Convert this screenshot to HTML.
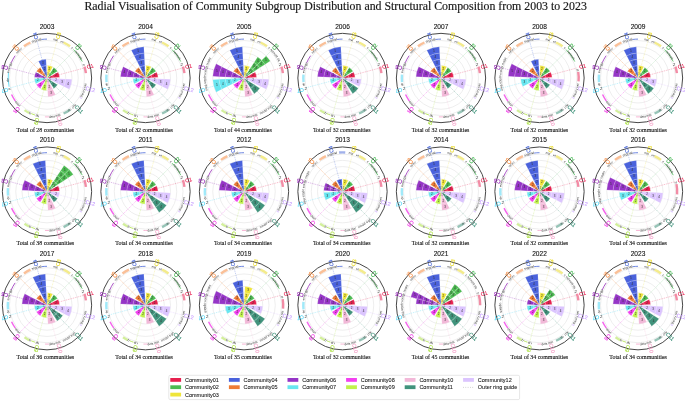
<!DOCTYPE html>
<html><head><meta charset="utf-8"><title>Radial Visualisation</title>
<style>
html,body{margin:0;padding:0;background:#fff;overflow:hidden;}
svg{display:block;will-change:transform;}
text{font-family:"Liberation Sans",sans-serif;}
.sg{stroke:#fff;stroke-width:0.35;stroke-opacity:0.5;}
.gr{fill:none;stroke:#dcdcdc;stroke-width:0.5;}
#base line{stroke-width:0.45;stroke-opacity:0.65;}
.ring{fill:none;stroke:#333;stroke-width:0.9;}
.dc{fill:none;stroke-width:2.4;stroke-opacity:0.5;}
.dm{fill:none;stroke-width:1.5;stroke-opacity:0.75;}
.dt{fill:none;stroke-width:0.9;stroke-opacity:0.85;}
.dg{font-size:4.2px;fill:#333;text-anchor:middle;}
.gt{font-size:3.2px;fill:#2e2e2e;}
.lb .l1{font-size:2.6px;fill:#666;}
.lb text{font-size:3.0px;fill:#333;text-anchor:middle;}
.cl{font-size:5.3px;text-anchor:middle;stroke-width:0.12;}
.yr{font-size:6.6px;text-anchor:middle;fill:#111;stroke:#111;stroke-width:0.1;}
.tot{font-family:"Liberation Serif",serif;font-size:6.4px;text-anchor:middle;fill:#111;stroke:#111;stroke-width:0.12;}
.lg{font-size:5.5px;fill:#1a1a1a;stroke:#1a1a1a;stroke-width:0.08;}
.ttl{font-family:"Liberation Serif",serif;font-size:11.85px;fill:#1a1a1a;stroke:#1a1a1a;stroke-width:0.18;}
</style></head>
<body>
<svg width="685" height="401" viewBox="0 0 685 401">
<defs>
<g id="base">
<circle r="6.25" class="gr"/>
<circle r="12.5" class="gr"/>
<circle r="18.75" class="gr"/>
<circle r="25" class="gr"/>
<circle r="31.25" class="gr"/>
<circle r="37.5" class="gr"/>
<line x2="36.99" y2="-9.91" stroke="#e6194b" stroke-dasharray="1.0 0.8"/>
<line x2="27.08" y2="-27.08" stroke="#3cb44b" stroke-dasharray="0.7 0.8"/>
<line x2="9.91" y2="-36.99" stroke="#e8d81a" stroke-dasharray="0.7 0.8"/>
<line x2="-9.91" y2="-36.99" stroke="#4363d8" stroke-dasharray="1.4 0.9"/>
<line x2="-27.08" y2="-27.08" stroke="#f58231" stroke-dasharray="1.6 0.5"/>
<line x2="-36.99" y2="-9.91" stroke="#911eb4" stroke-dasharray="1.4 0.9"/>
<line x2="-36.99" y2="9.91" stroke="#42d4f4" stroke-dasharray="1.4 0.9"/>
<line x2="-27.08" y2="27.08" stroke="#f032e6" stroke-dasharray="1.4 0.8"/>
<line x2="-9.91" y2="36.99" stroke="#a8e03a" stroke-dasharray="0.9 0.7"/>
<line x2="9.91" y2="36.99" stroke="#f5a0c8" stroke-dasharray="0.7 0.8"/>
<line x2="27.08" y2="27.08" stroke="#2f8a70" stroke-dasharray="1.8 0.7 0.5 0.7"/>
<line x2="36.99" y2="9.91" stroke="#c8a0ff" stroke-dasharray="0.7 0.8"/>
</g>
<g id="lab">
<circle r="44.65" class="ring"/>
<text x="43.03" y="-9.73" class="cl" fill="#e6194b" stroke="#e6194b" transform="rotate(-15 43.03 -11.63)">C1</text>
<text x="31.31" y="-29.39" class="cl" fill="#3cb44b" stroke="#3cb44b" transform="rotate(-45 31.31 -31.29)">C2</text>
<text x="11.34" y="-40.55" class="cl" fill="#e8d81a" stroke="#e8d81a" transform="rotate(-75 11.34 -42.45)">C3</text>
<text x="-11.53" y="-40.23" class="cl" fill="#4363d8" stroke="#4363d8" transform="rotate(-105 -11.53 -42.13)">C4</text>
<text x="-31.19" y="-28.51" class="cl" fill="#f58231" stroke="#f58231" transform="rotate(-135 -31.19 -30.41)">C5</text>
<text x="-42.35" y="-8.54" class="cl" fill="#911eb4" stroke="#911eb4" transform="rotate(-165 -42.35 -10.44)">C6</text>
<text x="-42.03" y="14.33" class="cl" fill="#42d4f4" stroke="#42d4f4" transform="rotate(-195 -42.03 12.43)">C7</text>
<text x="-30.31" y="33.99" class="cl" fill="#f032e6" stroke="#f032e6" transform="rotate(-225 -30.31 32.09)">C8</text>
<text x="-10.34" y="45.15" class="cl" fill="#a8e03a" stroke="#a8e03a" transform="rotate(-255 -10.34 43.25)">C9</text>
<text x="12.53" y="44.83" class="cl" fill="#f5a0c8" stroke="#f5a0c8" transform="rotate(-285 12.53 42.93)">C10</text>
<text x="32.19" y="33.11" class="cl" fill="#2f8a70" stroke="#2f8a70" transform="rotate(-315 32.19 31.21)">C11</text>
<text x="43.35" y="13.14" class="cl" fill="#c8a0ff" stroke="#c8a0ff" transform="rotate(-345 43.35 11.24)">C12</text>
</g>
<path id="p0" d="M35.78 -13.38A38.2 38.2 0 0 1 36.43 -11.49" fill="none"/>
<path id="p1" d="M24.04 -29.69A38.2 38.2 0 0 1 25.31 -28.61" fill="none"/>
<path id="p2" d="M27.48 -26.54A38.2 38.2 0 0 1 33.73 -17.93" fill="none"/>
<path id="p3" d="M5.98 -37.73A38.2 38.2 0 0 1 10.53 -36.72" fill="none"/>
<path id="p4" d="M13.38 -35.78A38.2 38.2 0 0 1 16.14 -34.62" fill="none"/>
<path id="p5" d="M-14.93 -35.16A38.2 38.2 0 0 1 -5.32 -37.83" fill="none"/>
<path id="p6" d="M-29.69 -24.04A38.2 38.2 0 0 1 -24.55 -29.26" fill="none"/>
<path id="p7" d="M-37.92 -4.66A38.2 38.2 0 0 1 -34.9 -15.54" fill="none"/>
<path id="p8" d="M-40 0A40 40 0 0 0 -39.78 4.18" fill="none"/>
<path id="p9" d="M-38.64 10.35A40 40 0 0 0 -38.04 12.36" fill="none"/>
<path id="p10" d="M-32.15 23.79A40 40 0 0 0 -27.28 29.25" fill="none"/>
<path id="p11" d="M-18.16 35.64A40 40 0 0 0 -16.27 36.54" fill="none"/>
<path id="p12" d="M-11.69 38.25A40 40 0 0 0 -7.63 39.27" fill="none"/>
<path id="p13" d="M2.09 39.95A40 40 0 0 0 14.33 37.34" fill="none"/>
<path id="p14" d="M21.79 33.55A40 40 0 0 0 24.63 31.52" fill="none"/>
<path id="p15" d="M25.71 30.64A40 40 0 0 0 29.73 26.77" fill="none"/>
<path id="p16" d="M34.98 19.39A40 40 0 0 0 39.7 4.87" fill="none"/>
<g id="dv0">
<path d="M38.91 -4.78A39.2 39.2 0 0 0 37.49 -11.46" stroke="#e6194b" class="dc"/>
<path d="M35.26 -16.44A38.9 38.9 0 0 0 26.53 -28.45" stroke="#3cb44b" class="dt"/>
<path d="M23.04 -31.71A39.2 39.2 0 0 0 16.57 -35.53" stroke="#e8d81a" class="dc"/>
<path d="M0 -38.9A38.9 38.9 0 0 0 -5.41 -38.52" stroke="#4363d8" class="dt"/>
<path d="M-16.57 -35.53A39.2 39.2 0 0 0 -23.04 -31.71" stroke="#f58231" class="dc"/>
<path d="M-31.87 -22.31A38.9 38.9 0 0 0 -35.81 -15.2" stroke="#911eb4" class="dt"/>
<path d="M-38.52 -5.41A38.9 38.9 0 0 0 -37.9 8.75" stroke="#42d4f4" class="dt"/>
<path d="M-35.44 16.52A39.1 39.1 0 0 0 -31.63 22.98" stroke="#f032e6" class="dm"/>
<path d="M-22.48 32.11A39.2 39.2 0 0 0 -17.8 34.93" stroke="#a8e03a" class="dc"/>
<path d="M-15.82 35.54A38.9 38.9 0 0 0 -12.02 37" stroke="#a8e03a" class="dt"/>
<path d="M-2.04 38.85A38.9 38.9 0 0 0 2.04 38.85" stroke="#f5a0c8" class="dt"/>
<path d="M16.57 35.53A39.2 39.2 0 0 0 23.04 31.71" stroke="#2f8a70" class="dc"/>
<path d="M33.42 20.48A39.2 39.2 0 0 0 34.12 19.3" stroke="#c8a0ff" class="dc"/>
<text class="gt"><textPath href="#p0" textLength="1.98" lengthAdjust="spacingAndGlyphs">p</textPath></text>
<text class="gt"><textPath href="#p1" textLength="1.65" lengthAdjust="spacingAndGlyphs">c</textPath></text>
<text class="gt"><textPath href="#p2" textLength="10.56" lengthAdjust="spacingAndGlyphs">network</textPath></text>
<text class="gt"><textPath href="#p3" textLength="4.62" lengthAdjust="spacingAndGlyphs">mat</textPath></text>
<text class="gt"><textPath href="#p4" textLength="2.97" lengthAdjust="spacingAndGlyphs">en</textPath></text>
<text class="gt"><textPath href="#p5" textLength="9.9" lengthAdjust="spacingAndGlyphs">signal</textPath></text>
<text class="gt"><textPath href="#p6" textLength="7.26" lengthAdjust="spacingAndGlyphs">netwo</textPath></text>
<text class="gt"><textPath href="#p7" textLength="11.22" lengthAdjust="spacingAndGlyphs">energy</textPath></text>
<text class="gt"><textPath href="#p8" textLength="3.96" lengthAdjust="spacingAndGlyphs">op</textPath></text>
<text class="gt"><textPath href="#p9" textLength="1.98" lengthAdjust="spacingAndGlyphs">d</textPath></text>
<text class="gt"><textPath href="#p10" textLength="6.93" lengthAdjust="spacingAndGlyphs">quan</textPath></text>
<text class="gt"><textPath href="#p11" textLength="1.98" lengthAdjust="spacingAndGlyphs">b</textPath></text>
<text class="gt"><textPath href="#p12" textLength="3.96" lengthAdjust="spacingAndGlyphs">th</textPath></text>
<text class="gt"><textPath href="#p13" textLength="11.88" lengthAdjust="spacingAndGlyphs">data mat</textPath></text>
<text class="gt"><textPath href="#p14" textLength="3.3" lengthAdjust="spacingAndGlyphs">mo</textPath></text>
<text class="gt"><textPath href="#p15" textLength="5.28" lengthAdjust="spacingAndGlyphs">che</textPath></text>
<text class="gt"><textPath href="#p16" textLength="14.53" lengthAdjust="spacingAndGlyphs">theory net</textPath></text>
</g>
<path id="p17" d="M24.04 -29.69A38.2 38.2 0 0 1 25.31 -28.61" fill="none"/>
<path id="p18" d="M27.48 -26.54A38.2 38.2 0 0 1 33.73 -17.93" fill="none"/>
<path id="p19" d="M5.98 -37.73A38.2 38.2 0 0 1 10.53 -36.72" fill="none"/>
<path id="p20" d="M13.38 -35.78A38.2 38.2 0 0 1 16.14 -34.62" fill="none"/>
<path id="p21" d="M-14.93 -35.16A38.2 38.2 0 0 1 -5.32 -37.83" fill="none"/>
<path id="p22" d="M-29.69 -24.04A38.2 38.2 0 0 1 -24.55 -29.26" fill="none"/>
<path id="p23" d="M-37.92 -4.66A38.2 38.2 0 0 1 -34.9 -15.54" fill="none"/>
<path id="p24" d="M-39.7 4.87A40 40 0 0 0 -39.13 8.32" fill="none"/>
<path id="p25" d="M-32.15 23.79A40 40 0 0 0 -27.28 29.25" fill="none"/>
<path id="p26" d="M-18.16 35.64A40 40 0 0 0 -16.27 36.54" fill="none"/>
<path id="p27" d="M-11.69 38.25A40 40 0 0 0 -7.63 39.27" fill="none"/>
<path id="p28" d="M2.09 39.95A40 40 0 0 0 14.33 37.34" fill="none"/>
<path id="p29" d="M21.79 33.55A40 40 0 0 0 24.63 31.52" fill="none"/>
<path id="p30" d="M25.71 30.64A40 40 0 0 0 29.73 26.77" fill="none"/>
<path id="p31" d="M34.98 19.39A40 40 0 0 0 39.7 4.87" fill="none"/>
<g id="dv1">
<path d="M38.91 -4.78A39.2 39.2 0 0 0 37.49 -11.46" stroke="#e6194b" class="dc"/>
<path d="M35.26 -16.44A38.9 38.9 0 0 0 26.53 -28.45" stroke="#3cb44b" class="dt"/>
<path d="M23.04 -31.71A39.2 39.2 0 0 0 16.57 -35.53" stroke="#e8d81a" class="dc"/>
<path d="M0 -38.9A38.9 38.9 0 0 0 -5.41 -38.52" stroke="#4363d8" class="dt"/>
<path d="M-16.57 -35.53A39.2 39.2 0 0 0 -23.04 -31.71" stroke="#f58231" class="dc"/>
<path d="M-31.87 -22.31A38.9 38.9 0 0 0 -35.81 -15.2" stroke="#911eb4" class="dt"/>
<path d="M-39.05 -3.42A39.2 39.2 0 0 0 -38.99 4.1" stroke="#42d4f4" class="dc"/>
<path d="M-35.44 16.52A39.1 39.1 0 0 0 -31.63 22.98" stroke="#f032e6" class="dm"/>
<path d="M-22.48 32.11A39.2 39.2 0 0 0 -17.8 34.93" stroke="#a8e03a" class="dc"/>
<path d="M-15.82 35.54A38.9 38.9 0 0 0 -12.02 37" stroke="#a8e03a" class="dt"/>
<path d="M-2.04 38.85A38.9 38.9 0 0 0 2.04 38.85" stroke="#f5a0c8" class="dt"/>
<path d="M16.57 35.53A39.2 39.2 0 0 0 23.04 31.71" stroke="#2f8a70" class="dc"/>
<path d="M33.42 20.48A39.2 39.2 0 0 0 34.12 19.3" stroke="#c8a0ff" class="dc"/>
<text x="36.16" y="-12.32" class="dg">2</text>
<text class="gt"><textPath href="#p17" textLength="1.65" lengthAdjust="spacingAndGlyphs">c</textPath></text>
<text class="gt"><textPath href="#p18" textLength="10.56" lengthAdjust="spacingAndGlyphs">network</textPath></text>
<text class="gt"><textPath href="#p19" textLength="4.62" lengthAdjust="spacingAndGlyphs">mat</textPath></text>
<text class="gt"><textPath href="#p20" textLength="2.97" lengthAdjust="spacingAndGlyphs">en</textPath></text>
<text class="gt"><textPath href="#p21" textLength="9.9" lengthAdjust="spacingAndGlyphs">signal</textPath></text>
<text class="gt"><textPath href="#p22" textLength="7.26" lengthAdjust="spacingAndGlyphs">netwo</textPath></text>
<text class="gt"><textPath href="#p23" textLength="11.22" lengthAdjust="spacingAndGlyphs">energy</textPath></text>
<text class="gt"><textPath href="#p24" textLength="3.3" lengthAdjust="spacingAndGlyphs">op</textPath></text>
<text x="-36.91" y="12.49" class="dg">2</text>
<text class="gt"><textPath href="#p25" textLength="6.93" lengthAdjust="spacingAndGlyphs">quan</textPath></text>
<text class="gt"><textPath href="#p26" textLength="1.98" lengthAdjust="spacingAndGlyphs">b</textPath></text>
<text class="gt"><textPath href="#p27" textLength="3.96" lengthAdjust="spacingAndGlyphs">th</textPath></text>
<text class="gt"><textPath href="#p28" textLength="11.88" lengthAdjust="spacingAndGlyphs">data mat</textPath></text>
<text class="gt"><textPath href="#p29" textLength="3.3" lengthAdjust="spacingAndGlyphs">mo</textPath></text>
<text class="gt"><textPath href="#p30" textLength="5.28" lengthAdjust="spacingAndGlyphs">che</textPath></text>
<text class="gt"><textPath href="#p31" textLength="14.53" lengthAdjust="spacingAndGlyphs">theory net</textPath></text>
</g>
<path id="p32" d="M24.04 -29.69A38.2 38.2 0 0 1 25.31 -28.61" fill="none"/>
<path id="p33" d="M26.05 -27.94A38.2 38.2 0 0 1 34.62 -16.14" fill="none"/>
<path id="p34" d="M5.98 -37.73A38.2 38.2 0 0 1 10.53 -36.72" fill="none"/>
<path id="p35" d="M13.38 -35.78A38.2 38.2 0 0 1 16.14 -34.62" fill="none"/>
<path id="p36" d="M-14.93 -35.16A38.2 38.2 0 0 1 -5.32 -37.83" fill="none"/>
<path id="p37" d="M-29.69 -24.04A38.2 38.2 0 0 1 -24.55 -29.26" fill="none"/>
<path id="p38" d="M-38.05 -3.33A38.2 38.2 0 0 1 -32.74 -19.67" fill="none"/>
<path id="p39" d="M-39.9 -2.79A40 40 0 0 0 -37.59 13.68" fill="none"/>
<path id="p40" d="M-32.15 23.79A40 40 0 0 0 -27.28 29.25" fill="none"/>
<path id="p41" d="M-18.16 35.64A40 40 0 0 0 -16.27 36.54" fill="none"/>
<path id="p42" d="M-11.69 38.25A40 40 0 0 0 -7.63 39.27" fill="none"/>
<path id="p43" d="M2.09 39.95A40 40 0 0 0 14.33 37.34" fill="none"/>
<path id="p44" d="M16.27 36.54A40 40 0 0 0 29.25 27.28" fill="none"/>
<path id="p45" d="M34.98 19.39A40 40 0 0 0 39.7 4.87" fill="none"/>
<g id="dv2">
<path d="M38.91 -4.78A39.2 39.2 0 0 0 37.49 -11.46" stroke="#e6194b" class="dc"/>
<path d="M23.04 -31.71A39.2 39.2 0 0 0 16.57 -35.53" stroke="#e8d81a" class="dc"/>
<path d="M0 -38.9A38.9 38.9 0 0 0 -5.41 -38.52" stroke="#4363d8" class="dt"/>
<path d="M-16.57 -35.53A39.2 39.2 0 0 0 -23.04 -31.71" stroke="#f58231" class="dc"/>
<path d="M-35.44 16.52A39.1 39.1 0 0 0 -31.63 22.98" stroke="#f032e6" class="dm"/>
<path d="M-22.48 32.11A39.2 39.2 0 0 0 -17.8 34.93" stroke="#a8e03a" class="dc"/>
<path d="M-15.82 35.54A38.9 38.9 0 0 0 -12.02 37" stroke="#a8e03a" class="dt"/>
<path d="M-2.04 38.85A38.9 38.9 0 0 0 2.04 38.85" stroke="#f5a0c8" class="dt"/>
<path d="M33.42 20.48A39.2 39.2 0 0 0 34.12 19.3" stroke="#c8a0ff" class="dc"/>
<text x="36.16" y="-12.32" class="dg">2</text>
<text class="gt"><textPath href="#p32" textLength="1.65" lengthAdjust="spacingAndGlyphs">c</textPath></text>
<text class="gt"><textPath href="#p33" textLength="14.53" lengthAdjust="spacingAndGlyphs">network da</textPath></text>
<text class="gt"><textPath href="#p34" textLength="4.62" lengthAdjust="spacingAndGlyphs">mat</textPath></text>
<text class="gt"><textPath href="#p35" textLength="2.97" lengthAdjust="spacingAndGlyphs">en</textPath></text>
<text class="gt"><textPath href="#p36" textLength="9.9" lengthAdjust="spacingAndGlyphs">signal</textPath></text>
<text class="gt"><textPath href="#p37" textLength="7.26" lengthAdjust="spacingAndGlyphs">netwo</textPath></text>
<text class="gt"><textPath href="#p38" textLength="17.17" lengthAdjust="spacingAndGlyphs">energy model</textPath></text>
<text class="gt"><textPath href="#p39" textLength="15.85" lengthAdjust="spacingAndGlyphs">optics theo</textPath></text>
<text class="gt"><textPath href="#p40" textLength="6.93" lengthAdjust="spacingAndGlyphs">quan</textPath></text>
<text class="gt"><textPath href="#p41" textLength="1.98" lengthAdjust="spacingAndGlyphs">b</textPath></text>
<text class="gt"><textPath href="#p42" textLength="3.96" lengthAdjust="spacingAndGlyphs">th</textPath></text>
<text class="gt"><textPath href="#p43" textLength="11.88" lengthAdjust="spacingAndGlyphs">data mat</textPath></text>
<text class="gt"><textPath href="#p44" textLength="15.19" lengthAdjust="spacingAndGlyphs">model sign</textPath></text>
<text class="gt"><textPath href="#p45" textLength="14.53" lengthAdjust="spacingAndGlyphs">theory net</textPath></text>
</g>
<path id="p46" d="M37.22 -8.59A38.2 38.2 0 0 1 37.62 -6.63" fill="none"/>
<path id="p47" d="M24.04 -29.69A38.2 38.2 0 0 1 25.31 -28.61" fill="none"/>
<path id="p48" d="M27.48 -26.54A38.2 38.2 0 0 1 33.73 -17.93" fill="none"/>
<path id="p49" d="M5.98 -37.73A38.2 38.2 0 0 1 10.53 -36.72" fill="none"/>
<path id="p50" d="M13.38 -35.78A38.2 38.2 0 0 1 16.14 -34.62" fill="none"/>
<path id="p51" d="M-14.93 -35.16A38.2 38.2 0 0 1 -5.32 -37.83" fill="none"/>
<path id="p52" d="M-29.69 -24.04A38.2 38.2 0 0 1 -24.55 -29.26" fill="none"/>
<path id="p53" d="M-38.05 -3.33A38.2 38.2 0 0 1 -32.74 -19.67" fill="none"/>
<path id="p54" d="M-39.9 -2.79A40 40 0 0 0 -37.59 13.68" fill="none"/>
<path id="p55" d="M-32.15 23.79A40 40 0 0 0 -27.28 29.25" fill="none"/>
<path id="p56" d="M-18.16 35.64A40 40 0 0 0 -16.27 36.54" fill="none"/>
<path id="p57" d="M-11.69 38.25A40 40 0 0 0 -7.63 39.27" fill="none"/>
<path id="p58" d="M2.09 39.95A40 40 0 0 0 14.33 37.34" fill="none"/>
<path id="p59" d="M21.79 33.55A40 40 0 0 0 24.63 31.52" fill="none"/>
<path id="p60" d="M25.71 30.64A40 40 0 0 0 29.73 26.77" fill="none"/>
<path id="p61" d="M34.98 19.39A40 40 0 0 0 39.7 4.87" fill="none"/>
<g id="dv3">
<path d="M39.05 3.42A39.2 39.2 0 0 0 38.72 -6.13" stroke="#e6194b" class="dc"/>
<path d="M35.26 -16.44A38.9 38.9 0 0 0 26.53 -28.45" stroke="#3cb44b" class="dt"/>
<path d="M23.04 -31.71A39.2 39.2 0 0 0 16.57 -35.53" stroke="#e8d81a" class="dc"/>
<path d="M0 -38.9A38.9 38.9 0 0 0 -5.41 -38.52" stroke="#4363d8" class="dt"/>
<path d="M-16.57 -35.53A39.2 39.2 0 0 0 -23.04 -31.71" stroke="#f58231" class="dc"/>
<path d="M-35.44 16.52A39.1 39.1 0 0 0 -31.63 22.98" stroke="#f032e6" class="dm"/>
<path d="M-22.48 32.11A39.2 39.2 0 0 0 -17.8 34.93" stroke="#a8e03a" class="dc"/>
<path d="M-15.82 35.54A38.9 38.9 0 0 0 -12.02 37" stroke="#a8e03a" class="dt"/>
<path d="M-2.04 38.85A38.9 38.9 0 0 0 2.04 38.85" stroke="#f5a0c8" class="dt"/>
<path d="M16.57 35.53A39.2 39.2 0 0 0 23.04 31.71" stroke="#2f8a70" class="dc"/>
<path d="M33.42 20.48A39.2 39.2 0 0 0 34.12 19.3" stroke="#c8a0ff" class="dc"/>
<text class="gt"><textPath href="#p46" textLength="1.98" lengthAdjust="spacingAndGlyphs">p</textPath></text>
<text class="gt"><textPath href="#p47" textLength="1.65" lengthAdjust="spacingAndGlyphs">c</textPath></text>
<text class="gt"><textPath href="#p48" textLength="10.56" lengthAdjust="spacingAndGlyphs">network</textPath></text>
<text class="gt"><textPath href="#p49" textLength="4.62" lengthAdjust="spacingAndGlyphs">mat</textPath></text>
<text class="gt"><textPath href="#p50" textLength="2.97" lengthAdjust="spacingAndGlyphs">en</textPath></text>
<text class="gt"><textPath href="#p51" textLength="9.9" lengthAdjust="spacingAndGlyphs">signal</textPath></text>
<text class="gt"><textPath href="#p52" textLength="7.26" lengthAdjust="spacingAndGlyphs">netwo</textPath></text>
<text class="gt"><textPath href="#p53" textLength="17.17" lengthAdjust="spacingAndGlyphs">energy model</textPath></text>
<text class="gt"><textPath href="#p54" textLength="15.85" lengthAdjust="spacingAndGlyphs">optics theo</textPath></text>
<text class="gt"><textPath href="#p55" textLength="6.93" lengthAdjust="spacingAndGlyphs">quan</textPath></text>
<text class="gt"><textPath href="#p56" textLength="1.98" lengthAdjust="spacingAndGlyphs">b</textPath></text>
<text class="gt"><textPath href="#p57" textLength="3.96" lengthAdjust="spacingAndGlyphs">th</textPath></text>
<text class="gt"><textPath href="#p58" textLength="11.88" lengthAdjust="spacingAndGlyphs">data mat</textPath></text>
<text class="gt"><textPath href="#p59" textLength="3.3" lengthAdjust="spacingAndGlyphs">mo</textPath></text>
<text class="gt"><textPath href="#p60" textLength="5.28" lengthAdjust="spacingAndGlyphs">che</textPath></text>
<text class="gt"><textPath href="#p61" textLength="14.53" lengthAdjust="spacingAndGlyphs">theory net</textPath></text>
</g>
<path id="p62" d="M24.04 -29.69A38.2 38.2 0 0 1 25.31 -28.61" fill="none"/>
<path id="p63" d="M27.48 -26.54A38.2 38.2 0 0 1 33.73 -17.93" fill="none"/>
<path id="p64" d="M5.98 -37.73A38.2 38.2 0 0 1 10.53 -36.72" fill="none"/>
<path id="p65" d="M13.38 -35.78A38.2 38.2 0 0 1 16.14 -34.62" fill="none"/>
<path id="p66" d="M-14.93 -35.16A38.2 38.2 0 0 1 -5.32 -37.83" fill="none"/>
<path id="p67" d="M-29.69 -24.04A38.2 38.2 0 0 1 -24.55 -29.26" fill="none"/>
<path id="p68" d="M-37.92 -4.66A38.2 38.2 0 0 1 -34.9 -15.54" fill="none"/>
<path id="p69" d="M-39.7 4.87A40 40 0 0 0 -39.13 8.32" fill="none"/>
<path id="p70" d="M-32.15 23.79A40 40 0 0 0 -27.28 29.25" fill="none"/>
<path id="p71" d="M-18.16 35.64A40 40 0 0 0 -16.27 36.54" fill="none"/>
<path id="p72" d="M-11.69 38.25A40 40 0 0 0 -7.63 39.27" fill="none"/>
<path id="p73" d="M2.09 39.95A40 40 0 0 0 14.33 37.34" fill="none"/>
<path id="p74" d="M16.27 36.54A40 40 0 0 0 29.25 27.28" fill="none"/>
<path id="p75" d="M34.98 19.39A40 40 0 0 0 39.7 4.87" fill="none"/>
<g id="dv4">
<path d="M38.91 -4.78A39.2 39.2 0 0 0 37.49 -11.46" stroke="#e6194b" class="dc"/>
<path d="M35.26 -16.44A38.9 38.9 0 0 0 26.53 -28.45" stroke="#3cb44b" class="dt"/>
<path d="M23.04 -31.71A39.2 39.2 0 0 0 16.57 -35.53" stroke="#e8d81a" class="dc"/>
<path d="M0 -38.9A38.9 38.9 0 0 0 -5.41 -38.52" stroke="#4363d8" class="dt"/>
<path d="M-16.57 -35.53A39.2 39.2 0 0 0 -23.04 -31.71" stroke="#f58231" class="dc"/>
<path d="M-31.87 -22.31A38.9 38.9 0 0 0 -35.81 -15.2" stroke="#911eb4" class="dt"/>
<path d="M-39.05 -3.42A39.2 39.2 0 0 0 -38.99 4.1" stroke="#42d4f4" class="dc"/>
<path d="M-35.44 16.52A39.1 39.1 0 0 0 -31.63 22.98" stroke="#f032e6" class="dm"/>
<path d="M-22.48 32.11A39.2 39.2 0 0 0 -17.8 34.93" stroke="#a8e03a" class="dc"/>
<path d="M-15.82 35.54A38.9 38.9 0 0 0 -12.02 37" stroke="#a8e03a" class="dt"/>
<path d="M-2.04 38.85A38.9 38.9 0 0 0 2.04 38.85" stroke="#f5a0c8" class="dt"/>
<path d="M33.42 20.48A39.2 39.2 0 0 0 34.12 19.3" stroke="#c8a0ff" class="dc"/>
<text x="36.16" y="-12.32" class="dg">2</text>
<text class="gt"><textPath href="#p62" textLength="1.65" lengthAdjust="spacingAndGlyphs">c</textPath></text>
<text class="gt"><textPath href="#p63" textLength="10.56" lengthAdjust="spacingAndGlyphs">network</textPath></text>
<text class="gt"><textPath href="#p64" textLength="4.62" lengthAdjust="spacingAndGlyphs">mat</textPath></text>
<text class="gt"><textPath href="#p65" textLength="2.97" lengthAdjust="spacingAndGlyphs">en</textPath></text>
<text class="gt"><textPath href="#p66" textLength="9.9" lengthAdjust="spacingAndGlyphs">signal</textPath></text>
<text class="gt"><textPath href="#p67" textLength="7.26" lengthAdjust="spacingAndGlyphs">netwo</textPath></text>
<text class="gt"><textPath href="#p68" textLength="11.22" lengthAdjust="spacingAndGlyphs">energy</textPath></text>
<text class="gt"><textPath href="#p69" textLength="3.3" lengthAdjust="spacingAndGlyphs">op</textPath></text>
<text x="-36.91" y="12.49" class="dg">2</text>
<text class="gt"><textPath href="#p70" textLength="6.93" lengthAdjust="spacingAndGlyphs">quan</textPath></text>
<text class="gt"><textPath href="#p71" textLength="1.98" lengthAdjust="spacingAndGlyphs">b</textPath></text>
<text class="gt"><textPath href="#p72" textLength="3.96" lengthAdjust="spacingAndGlyphs">th</textPath></text>
<text class="gt"><textPath href="#p73" textLength="11.88" lengthAdjust="spacingAndGlyphs">data mat</textPath></text>
<text class="gt"><textPath href="#p74" textLength="15.19" lengthAdjust="spacingAndGlyphs">model sign</textPath></text>
<text class="gt"><textPath href="#p75" textLength="14.53" lengthAdjust="spacingAndGlyphs">theory net</textPath></text>
</g>
<path id="p76" d="M24.04 -29.69A38.2 38.2 0 0 1 25.31 -28.61" fill="none"/>
<path id="p77" d="M27.48 -26.54A38.2 38.2 0 0 1 33.73 -17.93" fill="none"/>
<path id="p78" d="M5.98 -37.73A38.2 38.2 0 0 1 10.53 -36.72" fill="none"/>
<path id="p79" d="M13.38 -35.78A38.2 38.2 0 0 1 16.14 -34.62" fill="none"/>
<path id="p80" d="M-14.93 -35.16A38.2 38.2 0 0 1 -5.32 -37.83" fill="none"/>
<path id="p81" d="M-29.69 -24.04A38.2 38.2 0 0 1 -24.55 -29.26" fill="none"/>
<path id="p82" d="M-38.05 -3.33A38.2 38.2 0 0 1 -32.74 -19.67" fill="none"/>
<path id="p83" d="M-39.9 -2.79A40 40 0 0 0 -37.59 13.68" fill="none"/>
<path id="p84" d="M-32.15 23.79A40 40 0 0 0 -27.28 29.25" fill="none"/>
<path id="p85" d="M-18.16 35.64A40 40 0 0 0 -16.27 36.54" fill="none"/>
<path id="p86" d="M-11.69 38.25A40 40 0 0 0 -7.63 39.27" fill="none"/>
<path id="p87" d="M2.09 39.95A40 40 0 0 0 14.33 37.34" fill="none"/>
<path id="p88" d="M16.27 36.54A40 40 0 0 0 29.25 27.28" fill="none"/>
<path id="p89" d="M34.98 19.39A40 40 0 0 0 39.7 4.87" fill="none"/>
<g id="dv5">
<path d="M38.91 -4.78A39.2 39.2 0 0 0 37.49 -11.46" stroke="#e6194b" class="dc"/>
<path d="M35.26 -16.44A38.9 38.9 0 0 0 26.53 -28.45" stroke="#3cb44b" class="dt"/>
<path d="M23.04 -31.71A39.2 39.2 0 0 0 16.57 -35.53" stroke="#e8d81a" class="dc"/>
<path d="M2.73 -39.1A39.2 39.2 0 0 0 -3.42 -39.05" stroke="#4363d8" class="dc"/>
<path d="M-16.57 -35.53A39.2 39.2 0 0 0 -23.04 -31.71" stroke="#f58231" class="dc"/>
<path d="M-35.44 16.52A39.1 39.1 0 0 0 -31.63 22.98" stroke="#f032e6" class="dm"/>
<path d="M-22.48 32.11A39.2 39.2 0 0 0 -17.8 34.93" stroke="#a8e03a" class="dc"/>
<path d="M-15.82 35.54A38.9 38.9 0 0 0 -12.02 37" stroke="#a8e03a" class="dt"/>
<path d="M-2.04 38.85A38.9 38.9 0 0 0 2.04 38.85" stroke="#f5a0c8" class="dt"/>
<path d="M33.42 20.48A39.2 39.2 0 0 0 34.12 19.3" stroke="#c8a0ff" class="dc"/>
<text x="36.16" y="-12.32" class="dg">2</text>
<text class="gt"><textPath href="#p76" textLength="1.65" lengthAdjust="spacingAndGlyphs">c</textPath></text>
<text class="gt"><textPath href="#p77" textLength="10.56" lengthAdjust="spacingAndGlyphs">network</textPath></text>
<text class="gt"><textPath href="#p78" textLength="4.62" lengthAdjust="spacingAndGlyphs">mat</textPath></text>
<text class="gt"><textPath href="#p79" textLength="2.97" lengthAdjust="spacingAndGlyphs">en</textPath></text>
<text class="gt"><textPath href="#p80" textLength="9.9" lengthAdjust="spacingAndGlyphs">signal</textPath></text>
<text class="gt"><textPath href="#p81" textLength="7.26" lengthAdjust="spacingAndGlyphs">netwo</textPath></text>
<text class="gt"><textPath href="#p82" textLength="17.17" lengthAdjust="spacingAndGlyphs">energy model</textPath></text>
<text class="gt"><textPath href="#p83" textLength="15.85" lengthAdjust="spacingAndGlyphs">optics theo</textPath></text>
<text class="gt"><textPath href="#p84" textLength="6.93" lengthAdjust="spacingAndGlyphs">quan</textPath></text>
<text class="gt"><textPath href="#p85" textLength="1.98" lengthAdjust="spacingAndGlyphs">b</textPath></text>
<text class="gt"><textPath href="#p86" textLength="3.96" lengthAdjust="spacingAndGlyphs">th</textPath></text>
<text class="gt"><textPath href="#p87" textLength="11.88" lengthAdjust="spacingAndGlyphs">data mat</textPath></text>
<text class="gt"><textPath href="#p88" textLength="15.19" lengthAdjust="spacingAndGlyphs">model sign</textPath></text>
<text class="gt"><textPath href="#p89" textLength="14.53" lengthAdjust="spacingAndGlyphs">theory net</textPath></text>
</g>
<path id="p90" d="M36.9 -9.89A38.2 38.2 0 0 1 37.37 -7.94" fill="none"/>
<path id="p91" d="M24.04 -29.69A38.2 38.2 0 0 1 25.31 -28.61" fill="none"/>
<path id="p92" d="M27.48 -26.54A38.2 38.2 0 0 1 33.73 -17.93" fill="none"/>
<path id="p93" d="M5.98 -37.73A38.2 38.2 0 0 1 10.53 -36.72" fill="none"/>
<path id="p94" d="M13.38 -35.78A38.2 38.2 0 0 1 16.14 -34.62" fill="none"/>
<path id="p95" d="M-14.93 -35.16A38.2 38.2 0 0 1 -5.32 -37.83" fill="none"/>
<path id="p96" d="M-29.69 -24.04A38.2 38.2 0 0 1 -24.55 -29.26" fill="none"/>
<path id="p97" d="M-38.05 -3.33A38.2 38.2 0 0 1 -32.74 -19.67" fill="none"/>
<path id="p98" d="M-39.9 -2.79A40 40 0 0 0 -37.59 13.68" fill="none"/>
<path id="p99" d="M-32.15 23.79A40 40 0 0 0 -27.28 29.25" fill="none"/>
<path id="p100" d="M-18.16 35.64A40 40 0 0 0 -16.27 36.54" fill="none"/>
<path id="p101" d="M-11.69 38.25A40 40 0 0 0 -7.63 39.27" fill="none"/>
<path id="p102" d="M2.09 39.95A40 40 0 0 0 14.33 37.34" fill="none"/>
<path id="p103" d="M21.79 33.55A40 40 0 0 0 24.63 31.52" fill="none"/>
<path id="p104" d="M25.71 30.64A40 40 0 0 0 29.73 26.77" fill="none"/>
<path id="p105" d="M34.98 19.39A40 40 0 0 0 39.7 4.87" fill="none"/>
<g id="dv6">
<path d="M39.1 2.73A39.2 39.2 0 0 0 38.48 -7.48" stroke="#e6194b" class="dc"/>
<path d="M35.26 -16.44A38.9 38.9 0 0 0 26.53 -28.45" stroke="#3cb44b" class="dt"/>
<path d="M23.04 -31.71A39.2 39.2 0 0 0 16.57 -35.53" stroke="#e8d81a" class="dc"/>
<path d="M0 -38.9A38.9 38.9 0 0 0 -5.41 -38.52" stroke="#4363d8" class="dt"/>
<path d="M-16.57 -35.53A39.2 39.2 0 0 0 -23.04 -31.71" stroke="#f58231" class="dc"/>
<path d="M-35.44 16.52A39.1 39.1 0 0 0 -31.63 22.98" stroke="#f032e6" class="dm"/>
<path d="M-22.48 32.11A39.2 39.2 0 0 0 -17.8 34.93" stroke="#a8e03a" class="dc"/>
<path d="M-15.82 35.54A38.9 38.9 0 0 0 -12.02 37" stroke="#a8e03a" class="dt"/>
<path d="M-2.04 38.85A38.9 38.9 0 0 0 2.04 38.85" stroke="#f5a0c8" class="dt"/>
<path d="M16.57 35.53A39.2 39.2 0 0 0 23.04 31.71" stroke="#2f8a70" class="dc"/>
<path d="M33.42 20.48A39.2 39.2 0 0 0 34.12 19.3" stroke="#c8a0ff" class="dc"/>
<text class="gt"><textPath href="#p90" textLength="1.98" lengthAdjust="spacingAndGlyphs">p</textPath></text>
<text class="gt"><textPath href="#p91" textLength="1.65" lengthAdjust="spacingAndGlyphs">c</textPath></text>
<text class="gt"><textPath href="#p92" textLength="10.56" lengthAdjust="spacingAndGlyphs">network</textPath></text>
<text class="gt"><textPath href="#p93" textLength="4.62" lengthAdjust="spacingAndGlyphs">mat</textPath></text>
<text class="gt"><textPath href="#p94" textLength="2.97" lengthAdjust="spacingAndGlyphs">en</textPath></text>
<text class="gt"><textPath href="#p95" textLength="9.9" lengthAdjust="spacingAndGlyphs">signal</textPath></text>
<text class="gt"><textPath href="#p96" textLength="7.26" lengthAdjust="spacingAndGlyphs">netwo</textPath></text>
<text class="gt"><textPath href="#p97" textLength="17.17" lengthAdjust="spacingAndGlyphs">energy model</textPath></text>
<text class="gt"><textPath href="#p98" textLength="15.85" lengthAdjust="spacingAndGlyphs">optics theo</textPath></text>
<text class="gt"><textPath href="#p99" textLength="6.93" lengthAdjust="spacingAndGlyphs">quan</textPath></text>
<text class="gt"><textPath href="#p100" textLength="1.98" lengthAdjust="spacingAndGlyphs">b</textPath></text>
<text class="gt"><textPath href="#p101" textLength="3.96" lengthAdjust="spacingAndGlyphs">th</textPath></text>
<text class="gt"><textPath href="#p102" textLength="11.88" lengthAdjust="spacingAndGlyphs">data mat</textPath></text>
<text class="gt"><textPath href="#p103" textLength="3.3" lengthAdjust="spacingAndGlyphs">mo</textPath></text>
<text class="gt"><textPath href="#p104" textLength="5.28" lengthAdjust="spacingAndGlyphs">che</textPath></text>
<text class="gt"><textPath href="#p105" textLength="14.53" lengthAdjust="spacingAndGlyphs">theory net</textPath></text>
</g>
<path id="p106" d="M37.22 -8.59A38.2 38.2 0 0 1 37.62 -6.63" fill="none"/>
<path id="p107" d="M24.04 -29.69A38.2 38.2 0 0 1 25.31 -28.61" fill="none"/>
<path id="p108" d="M27.48 -26.54A38.2 38.2 0 0 1 33.73 -17.93" fill="none"/>
<path id="p109" d="M5.98 -37.73A38.2 38.2 0 0 1 10.53 -36.72" fill="none"/>
<path id="p110" d="M13.38 -35.78A38.2 38.2 0 0 1 16.14 -34.62" fill="none"/>
<path id="p111" d="M-14.93 -35.16A38.2 38.2 0 0 1 -5.32 -37.83" fill="none"/>
<path id="p112" d="M-29.69 -24.04A38.2 38.2 0 0 1 -24.55 -29.26" fill="none"/>
<path id="p113" d="M-38.05 -3.33A38.2 38.2 0 0 1 -32.74 -19.67" fill="none"/>
<path id="p114" d="M-39.9 -2.79A40 40 0 0 0 -39.13 8.32" fill="none"/>
<path id="p115" d="M-32.15 23.79A40 40 0 0 0 -27.28 29.25" fill="none"/>
<path id="p116" d="M-18.16 35.64A40 40 0 0 0 -16.27 36.54" fill="none"/>
<path id="p117" d="M-11.69 38.25A40 40 0 0 0 -7.63 39.27" fill="none"/>
<path id="p118" d="M2.09 39.95A40 40 0 0 0 14.33 37.34" fill="none"/>
<path id="p119" d="M16.27 36.54A40 40 0 0 0 29.25 27.28" fill="none"/>
<path id="p120" d="M34.98 19.39A40 40 0 0 0 39.7 4.87" fill="none"/>
<g id="dv7">
<path d="M39.05 3.42A39.2 39.2 0 0 0 38.72 -6.13" stroke="#e6194b" class="dc"/>
<path d="M35.26 -16.44A38.9 38.9 0 0 0 26.53 -28.45" stroke="#3cb44b" class="dt"/>
<path d="M23.04 -31.71A39.2 39.2 0 0 0 16.57 -35.53" stroke="#e8d81a" class="dc"/>
<path d="M0 -38.9A38.9 38.9 0 0 0 -5.41 -38.52" stroke="#4363d8" class="dt"/>
<path d="M-16.57 -35.53A39.2 39.2 0 0 0 -23.04 -31.71" stroke="#f58231" class="dc"/>
<path d="M-35.44 16.52A39.1 39.1 0 0 0 -31.63 22.98" stroke="#f032e6" class="dm"/>
<path d="M-22.48 32.11A39.2 39.2 0 0 0 -17.8 34.93" stroke="#a8e03a" class="dc"/>
<path d="M-15.82 35.54A38.9 38.9 0 0 0 -12.02 37" stroke="#a8e03a" class="dt"/>
<path d="M-2.04 38.85A38.9 38.9 0 0 0 2.04 38.85" stroke="#f5a0c8" class="dt"/>
<path d="M33.42 20.48A39.2 39.2 0 0 0 34.12 19.3" stroke="#c8a0ff" class="dc"/>
<text class="gt"><textPath href="#p106" textLength="1.98" lengthAdjust="spacingAndGlyphs">p</textPath></text>
<text class="gt"><textPath href="#p107" textLength="1.65" lengthAdjust="spacingAndGlyphs">c</textPath></text>
<text class="gt"><textPath href="#p108" textLength="10.56" lengthAdjust="spacingAndGlyphs">network</textPath></text>
<text class="gt"><textPath href="#p109" textLength="4.62" lengthAdjust="spacingAndGlyphs">mat</textPath></text>
<text class="gt"><textPath href="#p110" textLength="2.97" lengthAdjust="spacingAndGlyphs">en</textPath></text>
<text class="gt"><textPath href="#p111" textLength="9.9" lengthAdjust="spacingAndGlyphs">signal</textPath></text>
<text class="gt"><textPath href="#p112" textLength="7.26" lengthAdjust="spacingAndGlyphs">netwo</textPath></text>
<text class="gt"><textPath href="#p113" textLength="17.17" lengthAdjust="spacingAndGlyphs">energy model</textPath></text>
<text class="gt"><textPath href="#p114" textLength="10.56" lengthAdjust="spacingAndGlyphs">optics</textPath></text>
<text x="-36.91" y="12.49" class="dg">2</text>
<text class="gt"><textPath href="#p115" textLength="6.93" lengthAdjust="spacingAndGlyphs">quan</textPath></text>
<text class="gt"><textPath href="#p116" textLength="1.98" lengthAdjust="spacingAndGlyphs">b</textPath></text>
<text class="gt"><textPath href="#p117" textLength="3.96" lengthAdjust="spacingAndGlyphs">th</textPath></text>
<text class="gt"><textPath href="#p118" textLength="11.88" lengthAdjust="spacingAndGlyphs">data mat</textPath></text>
<text class="gt"><textPath href="#p119" textLength="15.19" lengthAdjust="spacingAndGlyphs">model sign</textPath></text>
<text class="gt"><textPath href="#p120" textLength="14.53" lengthAdjust="spacingAndGlyphs">theory net</textPath></text>
</g>
<path id="p121" d="M36.12 -12.44A38.2 38.2 0 0 1 36.72 -10.53" fill="none"/>
<path id="p122" d="M24.04 -29.69A38.2 38.2 0 0 1 25.31 -28.61" fill="none"/>
<path id="p123" d="M26.05 -27.94A38.2 38.2 0 0 1 34.62 -16.14" fill="none"/>
<path id="p124" d="M5.98 -37.73A38.2 38.2 0 0 1 10.53 -36.72" fill="none"/>
<path id="p125" d="M13.38 -35.78A38.2 38.2 0 0 1 16.14 -34.62" fill="none"/>
<path id="p126" d="M-14.93 -35.16A38.2 38.2 0 0 1 -5.32 -37.83" fill="none"/>
<path id="p127" d="M-29.69 -24.04A38.2 38.2 0 0 1 -24.55 -29.26" fill="none"/>
<path id="p128" d="M-38.05 -3.33A38.2 38.2 0 0 1 -32.74 -19.67" fill="none"/>
<path id="p129" d="M-39.9 -2.79A40 40 0 0 0 -37.59 13.68" fill="none"/>
<path id="p130" d="M-32.15 23.79A40 40 0 0 0 -27.28 29.25" fill="none"/>
<path id="p131" d="M-18.16 35.64A40 40 0 0 0 -16.27 36.54" fill="none"/>
<path id="p132" d="M-11.69 38.25A40 40 0 0 0 -7.63 39.27" fill="none"/>
<path id="p133" d="M2.09 39.95A40 40 0 0 0 14.33 37.34" fill="none"/>
<path id="p134" d="M16.27 36.54A40 40 0 0 0 29.25 27.28" fill="none"/>
<path id="p135" d="M34.98 19.39A40 40 0 0 0 39.7 4.87" fill="none"/>
<g id="dv8">
<path d="M39.2 0A39.2 39.2 0 0 0 37.86 -10.15" stroke="#e6194b" class="dc"/>
<path d="M23.04 -31.71A39.2 39.2 0 0 0 16.57 -35.53" stroke="#e8d81a" class="dc"/>
<path d="M0 -38.9A38.9 38.9 0 0 0 -5.41 -38.52" stroke="#4363d8" class="dt"/>
<path d="M-16.57 -35.53A39.2 39.2 0 0 0 -23.04 -31.71" stroke="#f58231" class="dc"/>
<path d="M-35.44 16.52A39.1 39.1 0 0 0 -31.63 22.98" stroke="#f032e6" class="dm"/>
<path d="M-22.48 32.11A39.2 39.2 0 0 0 -17.8 34.93" stroke="#a8e03a" class="dc"/>
<path d="M-15.82 35.54A38.9 38.9 0 0 0 -12.02 37" stroke="#a8e03a" class="dt"/>
<path d="M-2.04 38.85A38.9 38.9 0 0 0 2.04 38.85" stroke="#f5a0c8" class="dt"/>
<path d="M33.42 20.48A39.2 39.2 0 0 0 34.12 19.3" stroke="#c8a0ff" class="dc"/>
<text class="gt"><textPath href="#p121" textLength="1.98" lengthAdjust="spacingAndGlyphs">p</textPath></text>
<text class="gt"><textPath href="#p122" textLength="1.65" lengthAdjust="spacingAndGlyphs">c</textPath></text>
<text class="gt"><textPath href="#p123" textLength="14.53" lengthAdjust="spacingAndGlyphs">network da</textPath></text>
<text class="gt"><textPath href="#p124" textLength="4.62" lengthAdjust="spacingAndGlyphs">mat</textPath></text>
<text class="gt"><textPath href="#p125" textLength="2.97" lengthAdjust="spacingAndGlyphs">en</textPath></text>
<text class="gt"><textPath href="#p126" textLength="9.9" lengthAdjust="spacingAndGlyphs">signal</textPath></text>
<text class="gt"><textPath href="#p127" textLength="7.26" lengthAdjust="spacingAndGlyphs">netwo</textPath></text>
<text class="gt"><textPath href="#p128" textLength="17.17" lengthAdjust="spacingAndGlyphs">energy model</textPath></text>
<text class="gt"><textPath href="#p129" textLength="15.85" lengthAdjust="spacingAndGlyphs">optics theo</textPath></text>
<text class="gt"><textPath href="#p130" textLength="6.93" lengthAdjust="spacingAndGlyphs">quan</textPath></text>
<text class="gt"><textPath href="#p131" textLength="1.98" lengthAdjust="spacingAndGlyphs">b</textPath></text>
<text class="gt"><textPath href="#p132" textLength="3.96" lengthAdjust="spacingAndGlyphs">th</textPath></text>
<text class="gt"><textPath href="#p133" textLength="11.88" lengthAdjust="spacingAndGlyphs">data mat</textPath></text>
<text class="gt"><textPath href="#p134" textLength="15.19" lengthAdjust="spacingAndGlyphs">model sign</textPath></text>
<text class="gt"><textPath href="#p135" textLength="14.53" lengthAdjust="spacingAndGlyphs">theory net</textPath></text>
</g>
<path id="p136" d="M24.04 -29.69A38.2 38.2 0 0 1 25.31 -28.61" fill="none"/>
<path id="p137" d="M26.05 -27.94A38.2 38.2 0 0 1 34.62 -16.14" fill="none"/>
<path id="p138" d="M5.98 -37.73A38.2 38.2 0 0 1 10.53 -36.72" fill="none"/>
<path id="p139" d="M13.38 -35.78A38.2 38.2 0 0 1 16.14 -34.62" fill="none"/>
<path id="p140" d="M-14.93 -35.16A38.2 38.2 0 0 1 -5.32 -37.83" fill="none"/>
<path id="p141" d="M-29.69 -24.04A38.2 38.2 0 0 1 -24.55 -29.26" fill="none"/>
<path id="p142" d="M-37.92 -4.66A38.2 38.2 0 0 1 -34.9 -15.54" fill="none"/>
<path id="p143" d="M-39.9 -2.79A40 40 0 0 0 -39.13 8.32" fill="none"/>
<path id="p144" d="M-32.15 23.79A40 40 0 0 0 -27.28 29.25" fill="none"/>
<path id="p145" d="M-18.16 35.64A40 40 0 0 0 -16.27 36.54" fill="none"/>
<path id="p146" d="M-11.69 38.25A40 40 0 0 0 -7.63 39.27" fill="none"/>
<path id="p147" d="M2.09 39.95A40 40 0 0 0 14.33 37.34" fill="none"/>
<path id="p148" d="M21.79 33.55A40 40 0 0 0 24.63 31.52" fill="none"/>
<path id="p149" d="M25.71 30.64A40 40 0 0 0 29.73 26.77" fill="none"/>
<path id="p150" d="M34.98 19.39A40 40 0 0 0 39.7 4.87" fill="none"/>
<g id="dv9">
<path d="M38.91 -4.78A39.2 39.2 0 0 0 37.49 -11.46" stroke="#e6194b" class="dc"/>
<path d="M23.04 -31.71A39.2 39.2 0 0 0 16.57 -35.53" stroke="#e8d81a" class="dc"/>
<path d="M0 -38.9A38.9 38.9 0 0 0 -5.41 -38.52" stroke="#4363d8" class="dt"/>
<path d="M-16.57 -35.53A39.2 39.2 0 0 0 -23.04 -31.71" stroke="#f58231" class="dc"/>
<path d="M-31.87 -22.31A38.9 38.9 0 0 0 -35.81 -15.2" stroke="#911eb4" class="dt"/>
<path d="M-35.44 16.52A39.1 39.1 0 0 0 -31.63 22.98" stroke="#f032e6" class="dm"/>
<path d="M-22.48 32.11A39.2 39.2 0 0 0 -17.8 34.93" stroke="#a8e03a" class="dc"/>
<path d="M-15.82 35.54A38.9 38.9 0 0 0 -12.02 37" stroke="#a8e03a" class="dt"/>
<path d="M-2.04 38.85A38.9 38.9 0 0 0 2.04 38.85" stroke="#f5a0c8" class="dt"/>
<path d="M16.57 35.53A39.2 39.2 0 0 0 23.04 31.71" stroke="#2f8a70" class="dc"/>
<path d="M33.42 20.48A39.2 39.2 0 0 0 34.12 19.3" stroke="#c8a0ff" class="dc"/>
<text x="36.16" y="-12.32" class="dg">2</text>
<text class="gt"><textPath href="#p136" textLength="1.65" lengthAdjust="spacingAndGlyphs">c</textPath></text>
<text class="gt"><textPath href="#p137" textLength="14.53" lengthAdjust="spacingAndGlyphs">network da</textPath></text>
<text class="gt"><textPath href="#p138" textLength="4.62" lengthAdjust="spacingAndGlyphs">mat</textPath></text>
<text class="gt"><textPath href="#p139" textLength="2.97" lengthAdjust="spacingAndGlyphs">en</textPath></text>
<text class="gt"><textPath href="#p140" textLength="9.9" lengthAdjust="spacingAndGlyphs">signal</textPath></text>
<text class="gt"><textPath href="#p141" textLength="7.26" lengthAdjust="spacingAndGlyphs">netwo</textPath></text>
<text class="gt"><textPath href="#p142" textLength="11.22" lengthAdjust="spacingAndGlyphs">energy</textPath></text>
<text class="gt"><textPath href="#p143" textLength="10.56" lengthAdjust="spacingAndGlyphs">optics</textPath></text>
<text x="-36.91" y="12.49" class="dg">2</text>
<text class="gt"><textPath href="#p144" textLength="6.93" lengthAdjust="spacingAndGlyphs">quan</textPath></text>
<text class="gt"><textPath href="#p145" textLength="1.98" lengthAdjust="spacingAndGlyphs">b</textPath></text>
<text class="gt"><textPath href="#p146" textLength="3.96" lengthAdjust="spacingAndGlyphs">th</textPath></text>
<text class="gt"><textPath href="#p147" textLength="11.88" lengthAdjust="spacingAndGlyphs">data mat</textPath></text>
<text class="gt"><textPath href="#p148" textLength="3.3" lengthAdjust="spacingAndGlyphs">mo</textPath></text>
<text class="gt"><textPath href="#p149" textLength="5.28" lengthAdjust="spacingAndGlyphs">che</textPath></text>
<text class="gt"><textPath href="#p150" textLength="14.53" lengthAdjust="spacingAndGlyphs">theory net</textPath></text>
</g>
</defs>
<rect width="685" height="401" fill="#fff"/>
<text x="84.4" y="9.55" class="ttl">Radial Visualisation of Community Subgroup Distribution and Structural Composition from 2003 to 2023</text>
<use href="#base" transform="translate(47 78)"/>
<path d="M47 78L53.24 77.67A6.25 6.25 0 0 0 52.57 75.16Z" fill="#e6204e" class="sg"/>
<path d="M53.24 77.67L59.48 77.35A12.5 12.5 0 0 0 58.14 72.33L52.57 75.16A6.25 6.25 0 0 1 53.24 77.67Z" fill="#e6204e" class="sg"/>
<path d="M47 78L52.24 74.6A6.25 6.25 0 0 0 50.4 72.76Z" fill="#4cbb52" class="sg"/>
<path d="M52.24 74.6L57.48 71.19A12.5 12.5 0 0 0 53.81 67.52L50.4 72.76A6.25 6.25 0 0 1 52.24 74.6Z" fill="#4cbb52" class="sg"/>
<path d="M47 78L49.84 72.43A6.25 6.25 0 0 0 47.33 71.76Z" fill="#efe53a" class="sg"/>
<path d="M49.84 72.43L52.67 66.86A12.5 12.5 0 0 0 47.65 65.52L47.33 71.76A6.25 6.25 0 0 1 49.84 72.43Z" fill="#efe53a" class="sg"/>
<path d="M47 78L46.67 71.76A6.25 6.25 0 0 0 44.16 72.43Z" fill="#4a62dc" class="sg"/>
<path d="M46.67 71.76L46.35 65.52A12.5 12.5 0 0 0 41.33 66.86L44.16 72.43A6.25 6.25 0 0 1 46.67 71.76Z" fill="#4a62dc" class="sg"/>
<path d="M46.35 65.52L46.02 59.28A18.75 18.75 0 0 0 38.49 61.29L41.33 66.86A12.5 12.5 0 0 1 46.35 65.52Z" fill="#4a62dc" class="sg"/>
<path d="M47 78L43.6 72.76A6.25 6.25 0 0 0 41.76 74.6Z" fill="#ee7c36" class="sg"/>
<path d="M43.6 72.76L40.19 67.52A12.5 12.5 0 0 0 36.52 71.19L41.76 74.6A6.25 6.25 0 0 1 43.6 72.76Z" fill="#ee7c36" class="sg"/>
<path d="M47 78L41.43 75.16A6.25 6.25 0 0 0 40.76 77.67Z" fill="#9535c6" class="sg"/>
<path d="M41.43 75.16L35.86 72.33A12.5 12.5 0 0 0 34.52 77.35L40.76 77.67A6.25 6.25 0 0 1 41.43 75.16Z" fill="#9535c6" class="sg"/>
<path d="M47 78L40.76 78.33A6.25 6.25 0 0 0 41.43 80.84Z" fill="#68e6f0" class="sg"/>
<path d="M40.76 78.33L34.52 78.65A12.5 12.5 0 0 0 35.86 83.67L41.43 80.84A6.25 6.25 0 0 1 40.76 78.33Z" fill="#68e6f0" class="sg"/>
<path d="M47 78L41.76 81.4A6.25 6.25 0 0 0 43.6 83.24Z" fill="#f240f0" class="sg"/>
<path d="M41.76 81.4L36.52 84.81A12.5 12.5 0 0 0 40.19 88.48L43.6 83.24A6.25 6.25 0 0 1 41.76 81.4Z" fill="#f240f0" class="sg"/>
<path d="M47 78L44.16 83.57A6.25 6.25 0 0 0 46.67 84.24Z" fill="#c0f24c" class="sg"/>
<path d="M44.16 83.57L41.33 89.14A12.5 12.5 0 0 0 46.35 90.48L46.67 84.24A6.25 6.25 0 0 1 44.16 83.57Z" fill="#c0f24c" class="sg"/>
<path d="M47 78L47.33 84.24A6.25 6.25 0 0 0 49.84 83.57Z" fill="#f2b8d8" class="sg"/>
<path d="M47.33 84.24L47.65 90.48A12.5 12.5 0 0 0 52.67 89.14L49.84 83.57A6.25 6.25 0 0 1 47.33 84.24Z" fill="#f2b8d8" class="sg"/>
<path d="M47.65 90.48L47.98 96.72A18.75 18.75 0 0 0 55.51 94.71L52.67 89.14A12.5 12.5 0 0 1 47.65 90.48Z" fill="#f2b8d8" class="sg"/>
<path d="M47 78L50.4 83.24A6.25 6.25 0 0 0 52.24 81.4Z" fill="#41937c" class="sg"/>
<path d="M50.4 83.24L53.81 88.48A12.5 12.5 0 0 0 57.48 84.81L52.24 81.4A6.25 6.25 0 0 1 50.4 83.24Z" fill="#41937c" class="sg"/>
<path d="M47 78L52.57 80.84A6.25 6.25 0 0 0 53.24 78.33Z" fill="#dbc4fe" class="sg"/>
<path d="M52.57 80.84L58.14 83.67A12.5 12.5 0 0 0 59.48 78.65L53.24 78.33A6.25 6.25 0 0 1 52.57 80.84Z" fill="#dbc4fe" class="sg"/>
<path d="M58.14 83.67L63.71 86.51A18.75 18.75 0 0 0 65.72 78.98L59.48 78.65A12.5 12.5 0 0 1 58.14 83.67Z" fill="#dbc4fe" class="sg"/>
<path d="M63.71 86.51L69.28 89.35A25 25 0 0 0 71.97 79.31L65.72 78.98A18.75 18.75 0 0 1 63.71 86.51Z" fill="#dbc4fe" class="sg"/>
<g class="lb"><text x="50.57" y="77.84" class="l1">1</text><text x="56.06" y="76.47">2</text><text x="49.62" y="76.18" class="l1">1</text><text x="53.63" y="72.27">2</text><text x="47.96" y="75.23" class="l1">1</text><text x="49.43" y="69.84">2</text><text x="46.04" y="75.23" class="l1">1</text><text x="44.57" y="69.84">2</text><text x="42.96" y="63.81">3</text><text x="44.38" y="76.18" class="l1">1</text><text x="40.37" y="72.27">2</text><text x="43.43" y="77.84" class="l1">1</text><text x="37.94" y="76.47">2</text><text x="43.43" y="79.76" class="l1">1</text><text x="37.94" y="81.33">2</text><text x="44.38" y="81.42" class="l1">1</text><text x="40.37" y="85.53">2</text><text x="46.04" y="82.37" class="l1">1</text><text x="44.57" y="87.96">2</text><text x="47.96" y="82.37" class="l1">1</text><text x="49.43" y="87.96">2</text><text x="51.04" y="93.99">3</text><text x="49.62" y="81.42" class="l1">1</text><text x="53.63" y="85.53">2</text><text x="50.57" y="79.76" class="l1">1</text><text x="56.06" y="81.33">2</text><text x="62.09" y="82.94">3</text><text x="68.13" y="84.56">4</text></g>
<use href="#dv0" transform="translate(47 78)"/>
<use href="#lab" transform="translate(47 78)"/>
<text x="47" y="28.7" class="yr">2003</text>
<text x="45.3" y="131.7" class="tot" textLength="57.6" lengthAdjust="spacingAndGlyphs">Total of 28 communities</text>
<use href="#base" transform="translate(145.5 78)"/>
<path d="M145.5 78L151.74 77.67A6.25 6.25 0 0 0 151.07 75.16Z" fill="#e6204e" class="sg"/>
<path d="M151.74 77.67L157.98 77.35A12.5 12.5 0 0 0 156.64 72.33L151.07 75.16A6.25 6.25 0 0 1 151.74 77.67Z" fill="#e6204e" class="sg"/>
<path d="M145.5 78L150.74 74.6A6.25 6.25 0 0 0 148.9 72.76Z" fill="#4cbb52" class="sg"/>
<path d="M150.74 74.6L155.98 71.19A12.5 12.5 0 0 0 152.31 67.52L148.9 72.76A6.25 6.25 0 0 1 150.74 74.6Z" fill="#4cbb52" class="sg"/>
<path d="M145.5 78L148.34 72.43A6.25 6.25 0 0 0 145.83 71.76Z" fill="#efe53a" class="sg"/>
<path d="M148.34 72.43L151.17 66.86A12.5 12.5 0 0 0 146.15 65.52L145.83 71.76A6.25 6.25 0 0 1 148.34 72.43Z" fill="#efe53a" class="sg"/>
<path d="M145.5 78L145.17 71.76A6.25 6.25 0 0 0 142.66 72.43Z" fill="#4a62dc" class="sg"/>
<path d="M145.17 71.76L144.85 65.52A12.5 12.5 0 0 0 139.83 66.86L142.66 72.43A6.25 6.25 0 0 1 145.17 71.76Z" fill="#4a62dc" class="sg"/>
<path d="M144.85 65.52L144.52 59.28A18.75 18.75 0 0 0 136.99 61.29L139.83 66.86A12.5 12.5 0 0 1 144.85 65.52Z" fill="#4a62dc" class="sg"/>
<path d="M144.52 59.28L144.19 53.03A25 25 0 0 0 134.15 55.72L136.99 61.29A18.75 18.75 0 0 1 144.52 59.28Z" fill="#4a62dc" class="sg"/>
<path d="M144.19 53.03L143.86 46.79A31.25 31.25 0 0 0 131.31 50.16L134.15 55.72A25 25 0 0 1 144.19 53.03Z" fill="#4a62dc" class="sg"/>
<path d="M145.5 78L142.1 72.76A6.25 6.25 0 0 0 140.26 74.6Z" fill="#ee7c36" class="sg"/>
<path d="M142.1 72.76L138.69 67.52A12.5 12.5 0 0 0 135.02 71.19L140.26 74.6A6.25 6.25 0 0 1 142.1 72.76Z" fill="#ee7c36" class="sg"/>
<path d="M145.5 78L139.93 75.16A6.25 6.25 0 0 0 139.26 77.67Z" fill="#9535c6" class="sg"/>
<path d="M139.93 75.16L134.36 72.33A12.5 12.5 0 0 0 133.02 77.35L139.26 77.67A6.25 6.25 0 0 1 139.93 75.16Z" fill="#9535c6" class="sg"/>
<path d="M134.36 72.33L128.79 69.49A18.75 18.75 0 0 0 126.78 77.02L133.02 77.35A12.5 12.5 0 0 1 134.36 72.33Z" fill="#9535c6" class="sg"/>
<path d="M128.79 69.49L123.22 66.65A25 25 0 0 0 120.53 76.69L126.78 77.02A18.75 18.75 0 0 1 128.79 69.49Z" fill="#9535c6" class="sg"/>
<path d="M145.5 78L139.26 78.33A6.25 6.25 0 0 0 139.93 80.84Z" fill="#68e6f0" class="sg"/>
<path d="M139.26 78.33L133.02 78.65A12.5 12.5 0 0 0 134.36 83.67L139.93 80.84A6.25 6.25 0 0 1 139.26 78.33Z" fill="#68e6f0" class="sg"/>
<path d="M145.5 78L140.26 81.4A6.25 6.25 0 0 0 142.1 83.24Z" fill="#f240f0" class="sg"/>
<path d="M140.26 81.4L135.02 84.81A12.5 12.5 0 0 0 138.69 88.48L142.1 83.24A6.25 6.25 0 0 1 140.26 81.4Z" fill="#f240f0" class="sg"/>
<path d="M145.5 78L142.66 83.57A6.25 6.25 0 0 0 145.17 84.24Z" fill="#c0f24c" class="sg"/>
<path d="M142.66 83.57L139.83 89.14A12.5 12.5 0 0 0 144.85 90.48L145.17 84.24A6.25 6.25 0 0 1 142.66 83.57Z" fill="#c0f24c" class="sg"/>
<path d="M145.5 78L145.83 84.24A6.25 6.25 0 0 0 148.34 83.57Z" fill="#f2b8d8" class="sg"/>
<path d="M145.83 84.24L146.15 90.48A12.5 12.5 0 0 0 151.17 89.14L148.34 83.57A6.25 6.25 0 0 1 145.83 84.24Z" fill="#f2b8d8" class="sg"/>
<path d="M146.15 90.48L146.48 96.72A18.75 18.75 0 0 0 154.01 94.71L151.17 89.14A12.5 12.5 0 0 1 146.15 90.48Z" fill="#f2b8d8" class="sg"/>
<path d="M145.5 78L148.9 83.24A6.25 6.25 0 0 0 150.74 81.4Z" fill="#41937c" class="sg"/>
<path d="M148.9 83.24L152.31 88.48A12.5 12.5 0 0 0 155.98 84.81L150.74 81.4A6.25 6.25 0 0 1 148.9 83.24Z" fill="#41937c" class="sg"/>
<path d="M145.5 78L151.07 80.84A6.25 6.25 0 0 0 151.74 78.33Z" fill="#dbc4fe" class="sg"/>
<path d="M151.07 80.84L156.64 83.67A12.5 12.5 0 0 0 157.98 78.65L151.74 78.33A6.25 6.25 0 0 1 151.07 80.84Z" fill="#dbc4fe" class="sg"/>
<path d="M156.64 83.67L162.21 86.51A18.75 18.75 0 0 0 164.22 78.98L157.98 78.65A12.5 12.5 0 0 1 156.64 83.67Z" fill="#dbc4fe" class="sg"/>
<path d="M162.21 86.51L167.78 89.35A25 25 0 0 0 170.47 79.31L164.22 78.98A18.75 18.75 0 0 1 162.21 86.51Z" fill="#dbc4fe" class="sg"/>
<g class="lb"><text x="149.07" y="77.84" class="l1">1</text><text x="154.56" y="76.47">2</text><text x="148.12" y="76.18" class="l1">1</text><text x="152.13" y="72.27">2</text><text x="146.46" y="75.23" class="l1">1</text><text x="147.93" y="69.84">2</text><text x="144.54" y="75.23" class="l1">1</text><text x="143.07" y="69.84">2</text><text x="141.46" y="63.81">3</text><text x="139.84" y="57.77">4</text><text x="138.22" y="51.73">5</text><text x="142.88" y="76.18" class="l1">1</text><text x="138.87" y="72.27">2</text><text x="141.93" y="77.84" class="l1">1</text><text x="136.44" y="76.47">2</text><text x="130.41" y="74.86">3</text><text x="124.37" y="73.24">4</text><text x="141.93" y="79.76" class="l1">1</text><text x="136.44" y="81.33">2</text><text x="142.88" y="81.42" class="l1">1</text><text x="138.87" y="85.53">2</text><text x="144.54" y="82.37" class="l1">1</text><text x="143.07" y="87.96">2</text><text x="146.46" y="82.37" class="l1">1</text><text x="147.93" y="87.96">2</text><text x="149.54" y="93.99">3</text><text x="148.12" y="81.42" class="l1">1</text><text x="152.13" y="85.53">2</text><text x="149.07" y="79.76" class="l1">1</text><text x="154.56" y="81.33">2</text><text x="160.59" y="82.94">3</text><text x="166.63" y="84.56">4</text></g>
<use href="#dv1" transform="translate(145.5 78)"/>
<use href="#lab" transform="translate(145.5 78)"/>
<text x="145.5" y="28.7" class="yr">2004</text>
<text x="144.1" y="131.7" class="tot" textLength="57.6" lengthAdjust="spacingAndGlyphs">Total of 32 communities</text>
<use href="#base" transform="translate(244 78)"/>
<path d="M244 78L250.24 77.67A6.25 6.25 0 0 0 249.57 75.16Z" fill="#e6204e" class="sg"/>
<path d="M250.24 77.67L256.48 77.35A12.5 12.5 0 0 0 255.14 72.33L249.57 75.16A6.25 6.25 0 0 1 250.24 77.67Z" fill="#e6204e" class="sg"/>
<path d="M244 78L249.24 74.6A6.25 6.25 0 0 0 248.42 73.58Z" fill="#4cbb52" class="sg"/>
<path d="M249.24 74.6L254.48 71.19A12.5 12.5 0 0 0 252.84 69.16L248.42 73.58A6.25 6.25 0 0 1 249.24 74.6Z" fill="#4cbb52" class="sg"/>
<path d="M254.48 71.19L259.73 67.79A18.75 18.75 0 0 0 257.26 64.74L252.84 69.16A12.5 12.5 0 0 1 254.48 71.19Z" fill="#4cbb52" class="sg"/>
<path d="M259.73 67.79L264.97 64.38A25 25 0 0 0 261.68 60.32L257.26 64.74A18.75 18.75 0 0 1 259.73 67.79Z" fill="#4cbb52" class="sg"/>
<path d="M264.97 64.38L270.21 60.98A31.25 31.25 0 0 0 266.1 55.9L261.68 60.32A25 25 0 0 1 264.97 64.38Z" fill="#4cbb52" class="sg"/>
<path d="M244 78L248.42 73.58A6.25 6.25 0 0 0 247.4 72.76Z" fill="#4cbb52" class="sg"/>
<path d="M248.42 73.58L252.84 69.16A12.5 12.5 0 0 0 250.81 67.52L247.4 72.76A6.25 6.25 0 0 1 248.42 73.58Z" fill="#4cbb52" class="sg"/>
<path d="M252.84 69.16L257.26 64.74A18.75 18.75 0 0 0 254.21 62.27L250.81 67.52A12.5 12.5 0 0 1 252.84 69.16Z" fill="#4cbb52" class="sg"/>
<path d="M257.26 64.74L261.68 60.32A25 25 0 0 0 257.62 57.03L254.21 62.27A18.75 18.75 0 0 1 257.26 64.74Z" fill="#4cbb52" class="sg"/>
<path d="M244 78L246.84 72.43A6.25 6.25 0 0 0 244.33 71.76Z" fill="#efe53a" class="sg"/>
<path d="M246.84 72.43L249.67 66.86A12.5 12.5 0 0 0 244.65 65.52L244.33 71.76A6.25 6.25 0 0 1 246.84 72.43Z" fill="#efe53a" class="sg"/>
<path d="M244 78L243.67 71.76A6.25 6.25 0 0 0 241.16 72.43Z" fill="#4a62dc" class="sg"/>
<path d="M243.67 71.76L243.35 65.52A12.5 12.5 0 0 0 238.33 66.86L241.16 72.43A6.25 6.25 0 0 1 243.67 71.76Z" fill="#4a62dc" class="sg"/>
<path d="M243.35 65.52L243.02 59.28A18.75 18.75 0 0 0 235.49 61.29L238.33 66.86A12.5 12.5 0 0 1 243.35 65.52Z" fill="#4a62dc" class="sg"/>
<path d="M243.02 59.28L242.69 53.03A25 25 0 0 0 232.65 55.72L235.49 61.29A18.75 18.75 0 0 1 243.02 59.28Z" fill="#4a62dc" class="sg"/>
<path d="M242.69 53.03L242.36 46.79A31.25 31.25 0 0 0 229.81 50.16L232.65 55.72A25 25 0 0 1 242.69 53.03Z" fill="#4a62dc" class="sg"/>
<path d="M244 78L240.6 72.76A6.25 6.25 0 0 0 238.76 74.6Z" fill="#ee7c36" class="sg"/>
<path d="M240.6 72.76L237.19 67.52A12.5 12.5 0 0 0 233.52 71.19L238.76 74.6A6.25 6.25 0 0 1 240.6 72.76Z" fill="#ee7c36" class="sg"/>
<path d="M244 78L238.43 75.16A6.25 6.25 0 0 0 237.76 77.67Z" fill="#9535c6" class="sg"/>
<path d="M238.43 75.16L232.86 72.33A12.5 12.5 0 0 0 231.52 77.35L237.76 77.67A6.25 6.25 0 0 1 238.43 75.16Z" fill="#9535c6" class="sg"/>
<path d="M232.86 72.33L227.29 69.49A18.75 18.75 0 0 0 225.28 77.02L231.52 77.35A12.5 12.5 0 0 1 232.86 72.33Z" fill="#9535c6" class="sg"/>
<path d="M227.29 69.49L221.72 66.65A25 25 0 0 0 219.03 76.69L225.28 77.02A18.75 18.75 0 0 1 227.29 69.49Z" fill="#9535c6" class="sg"/>
<path d="M221.72 66.65L216.16 63.81A31.25 31.25 0 0 0 212.79 76.36L219.03 76.69A25 25 0 0 1 221.72 66.65Z" fill="#9535c6" class="sg"/>
<path d="M244 78L237.76 78.33A6.25 6.25 0 0 0 238.43 80.84Z" fill="#68e6f0" class="sg"/>
<path d="M237.76 78.33L231.52 78.65A12.5 12.5 0 0 0 232.86 83.67L238.43 80.84A6.25 6.25 0 0 1 237.76 78.33Z" fill="#68e6f0" class="sg"/>
<path d="M231.52 78.65L225.28 78.98A18.75 18.75 0 0 0 227.29 86.51L232.86 83.67A12.5 12.5 0 0 1 231.52 78.65Z" fill="#68e6f0" class="sg"/>
<path d="M225.28 78.98L219.03 79.31A25 25 0 0 0 221.72 89.35L227.29 86.51A18.75 18.75 0 0 1 225.28 78.98Z" fill="#68e6f0" class="sg"/>
<path d="M219.03 79.31L212.79 79.64A31.25 31.25 0 0 0 216.16 92.19L221.72 89.35A25 25 0 0 1 219.03 79.31Z" fill="#68e6f0" class="sg"/>
<path d="M244 78L238.76 81.4A6.25 6.25 0 0 0 240.6 83.24Z" fill="#f240f0" class="sg"/>
<path d="M238.76 81.4L233.52 84.81A12.5 12.5 0 0 0 237.19 88.48L240.6 83.24A6.25 6.25 0 0 1 238.76 81.4Z" fill="#f240f0" class="sg"/>
<path d="M244 78L241.16 83.57A6.25 6.25 0 0 0 243.67 84.24Z" fill="#c0f24c" class="sg"/>
<path d="M241.16 83.57L238.33 89.14A12.5 12.5 0 0 0 243.35 90.48L243.67 84.24A6.25 6.25 0 0 1 241.16 83.57Z" fill="#c0f24c" class="sg"/>
<path d="M244 78L244.33 84.24A6.25 6.25 0 0 0 246.84 83.57Z" fill="#f2b8d8" class="sg"/>
<path d="M244.33 84.24L244.65 90.48A12.5 12.5 0 0 0 249.67 89.14L246.84 83.57A6.25 6.25 0 0 1 244.33 84.24Z" fill="#f2b8d8" class="sg"/>
<path d="M244.65 90.48L244.98 96.72A18.75 18.75 0 0 0 252.51 94.71L249.67 89.14A12.5 12.5 0 0 1 244.65 90.48Z" fill="#f2b8d8" class="sg"/>
<path d="M244 78L247.4 83.24A6.25 6.25 0 0 0 249.24 81.4Z" fill="#41937c" class="sg"/>
<path d="M247.4 83.24L250.81 88.48A12.5 12.5 0 0 0 254.48 84.81L249.24 81.4A6.25 6.25 0 0 1 247.4 83.24Z" fill="#41937c" class="sg"/>
<path d="M250.81 88.48L254.21 93.73A18.75 18.75 0 0 0 259.73 88.21L254.48 84.81A12.5 12.5 0 0 1 250.81 88.48Z" fill="#41937c" class="sg"/>
<path d="M244 78L249.57 80.84A6.25 6.25 0 0 0 250.24 78.33Z" fill="#dbc4fe" class="sg"/>
<path d="M249.57 80.84L255.14 83.67A12.5 12.5 0 0 0 256.48 78.65L250.24 78.33A6.25 6.25 0 0 1 249.57 80.84Z" fill="#dbc4fe" class="sg"/>
<path d="M255.14 83.67L260.71 86.51A18.75 18.75 0 0 0 262.72 78.98L256.48 78.65A12.5 12.5 0 0 1 255.14 83.67Z" fill="#dbc4fe" class="sg"/>
<path d="M260.71 86.51L266.28 89.35A25 25 0 0 0 268.97 79.31L262.72 78.98A18.75 18.75 0 0 1 260.71 86.51Z" fill="#dbc4fe" class="sg"/>
<g class="lb"><text x="247.57" y="77.84" class="l1">1</text><text x="253.06" y="76.47">2</text><text x="246.88" y="76.47" class="l1">1</text><text x="251.29" y="73">2</text><text x="256.14" y="69.07">3</text><text x="261" y="65.13">4</text><text x="265.86" y="61.2">5</text><text x="246.33" y="75.92" class="l1">1</text><text x="249.9" y="71.61">2</text><text x="253.83" y="66.76">3</text><text x="257.77" y="61.9">4</text><text x="244.96" y="75.23" class="l1">1</text><text x="246.43" y="69.84">2</text><text x="243.04" y="75.23" class="l1">1</text><text x="241.57" y="69.84">2</text><text x="239.96" y="63.81">3</text><text x="238.34" y="57.77">4</text><text x="236.72" y="51.73">5</text><text x="241.38" y="76.18" class="l1">1</text><text x="237.37" y="72.27">2</text><text x="240.43" y="77.84" class="l1">1</text><text x="234.94" y="76.47">2</text><text x="228.91" y="74.86">3</text><text x="222.87" y="73.24">4</text><text x="216.83" y="71.62">5</text><text x="240.43" y="79.76" class="l1">1</text><text x="234.94" y="81.33">2</text><text x="228.91" y="82.94">3</text><text x="222.87" y="84.56">4</text><text x="216.83" y="86.18">5</text><text x="241.38" y="81.42" class="l1">1</text><text x="237.37" y="85.53">2</text><text x="243.04" y="82.37" class="l1">1</text><text x="241.57" y="87.96">2</text><text x="244.96" y="82.37" class="l1">1</text><text x="246.43" y="87.96">2</text><text x="248.04" y="93.99">3</text><text x="246.62" y="81.42" class="l1">1</text><text x="250.63" y="85.53">2</text><text x="255.05" y="89.95">3</text><text x="247.57" y="79.76" class="l1">1</text><text x="253.06" y="81.33">2</text><text x="259.09" y="82.94">3</text><text x="265.13" y="84.56">4</text></g>
<use href="#dv2" transform="translate(244 78)"/>
<use href="#lab" transform="translate(244 78)"/>
<text x="244" y="28.7" class="yr">2005</text>
<text x="242.9" y="131.7" class="tot" textLength="57.6" lengthAdjust="spacingAndGlyphs">Total of 44 communities</text>
<use href="#base" transform="translate(342.5 78)"/>
<path d="M342.5 78L348.74 77.67A6.25 6.25 0 0 0 348.07 75.16Z" fill="#e6204e" class="sg"/>
<path d="M348.74 77.67L354.98 77.35A12.5 12.5 0 0 0 353.64 72.33L348.07 75.16A6.25 6.25 0 0 1 348.74 77.67Z" fill="#e6204e" class="sg"/>
<path d="M342.5 78L347.74 74.6A6.25 6.25 0 0 0 345.9 72.76Z" fill="#4cbb52" class="sg"/>
<path d="M347.74 74.6L352.98 71.19A12.5 12.5 0 0 0 349.31 67.52L345.9 72.76A6.25 6.25 0 0 1 347.74 74.6Z" fill="#4cbb52" class="sg"/>
<path d="M342.5 78L345.34 72.43A6.25 6.25 0 0 0 342.83 71.76Z" fill="#efe53a" class="sg"/>
<path d="M345.34 72.43L348.17 66.86A12.5 12.5 0 0 0 343.15 65.52L342.83 71.76A6.25 6.25 0 0 1 345.34 72.43Z" fill="#efe53a" class="sg"/>
<path d="M342.5 78L342.17 71.76A6.25 6.25 0 0 0 339.66 72.43Z" fill="#4a62dc" class="sg"/>
<path d="M342.17 71.76L341.85 65.52A12.5 12.5 0 0 0 336.83 66.86L339.66 72.43A6.25 6.25 0 0 1 342.17 71.76Z" fill="#4a62dc" class="sg"/>
<path d="M341.85 65.52L341.52 59.28A18.75 18.75 0 0 0 333.99 61.29L336.83 66.86A12.5 12.5 0 0 1 341.85 65.52Z" fill="#4a62dc" class="sg"/>
<path d="M341.52 59.28L341.19 53.03A25 25 0 0 0 331.15 55.72L333.99 61.29A18.75 18.75 0 0 1 341.52 59.28Z" fill="#4a62dc" class="sg"/>
<path d="M341.19 53.03L340.86 46.79A31.25 31.25 0 0 0 328.31 50.16L331.15 55.72A25 25 0 0 1 341.19 53.03Z" fill="#4a62dc" class="sg"/>
<path d="M342.5 78L339.1 72.76A6.25 6.25 0 0 0 337.26 74.6Z" fill="#ee7c36" class="sg"/>
<path d="M339.1 72.76L335.69 67.52A12.5 12.5 0 0 0 332.02 71.19L337.26 74.6A6.25 6.25 0 0 1 339.1 72.76Z" fill="#ee7c36" class="sg"/>
<path d="M342.5 78L336.93 75.16A6.25 6.25 0 0 0 336.26 77.67Z" fill="#9535c6" class="sg"/>
<path d="M336.93 75.16L331.36 72.33A12.5 12.5 0 0 0 330.02 77.35L336.26 77.67A6.25 6.25 0 0 1 336.93 75.16Z" fill="#9535c6" class="sg"/>
<path d="M331.36 72.33L325.79 69.49A18.75 18.75 0 0 0 323.78 77.02L330.02 77.35A12.5 12.5 0 0 1 331.36 72.33Z" fill="#9535c6" class="sg"/>
<path d="M325.79 69.49L320.22 66.65A25 25 0 0 0 317.53 76.69L323.78 77.02A18.75 18.75 0 0 1 325.79 69.49Z" fill="#9535c6" class="sg"/>
<path d="M342.5 78L336.26 78.33A6.25 6.25 0 0 0 336.93 80.84Z" fill="#68e6f0" class="sg"/>
<path d="M336.26 78.33L330.02 78.65A12.5 12.5 0 0 0 331.36 83.67L336.93 80.84A6.25 6.25 0 0 1 336.26 78.33Z" fill="#68e6f0" class="sg"/>
<path d="M342.5 78L337.26 81.4A6.25 6.25 0 0 0 339.1 83.24Z" fill="#f240f0" class="sg"/>
<path d="M337.26 81.4L332.02 84.81A12.5 12.5 0 0 0 335.69 88.48L339.1 83.24A6.25 6.25 0 0 1 337.26 81.4Z" fill="#f240f0" class="sg"/>
<path d="M342.5 78L339.66 83.57A6.25 6.25 0 0 0 342.17 84.24Z" fill="#c0f24c" class="sg"/>
<path d="M339.66 83.57L336.83 89.14A12.5 12.5 0 0 0 341.85 90.48L342.17 84.24A6.25 6.25 0 0 1 339.66 83.57Z" fill="#c0f24c" class="sg"/>
<path d="M342.5 78L342.83 84.24A6.25 6.25 0 0 0 345.34 83.57Z" fill="#f2b8d8" class="sg"/>
<path d="M342.83 84.24L343.15 90.48A12.5 12.5 0 0 0 348.17 89.14L345.34 83.57A6.25 6.25 0 0 1 342.83 84.24Z" fill="#f2b8d8" class="sg"/>
<path d="M343.15 90.48L343.48 96.72A18.75 18.75 0 0 0 351.01 94.71L348.17 89.14A12.5 12.5 0 0 1 343.15 90.48Z" fill="#f2b8d8" class="sg"/>
<path d="M342.5 78L345.9 83.24A6.25 6.25 0 0 0 347.74 81.4Z" fill="#41937c" class="sg"/>
<path d="M345.9 83.24L349.31 88.48A12.5 12.5 0 0 0 352.98 84.81L347.74 81.4A6.25 6.25 0 0 1 345.9 83.24Z" fill="#41937c" class="sg"/>
<path d="M349.31 88.48L352.71 93.73A18.75 18.75 0 0 0 358.23 88.21L352.98 84.81A12.5 12.5 0 0 1 349.31 88.48Z" fill="#41937c" class="sg"/>
<path d="M342.5 78L348.07 80.84A6.25 6.25 0 0 0 348.74 78.33Z" fill="#dbc4fe" class="sg"/>
<path d="M348.07 80.84L353.64 83.67A12.5 12.5 0 0 0 354.98 78.65L348.74 78.33A6.25 6.25 0 0 1 348.07 80.84Z" fill="#dbc4fe" class="sg"/>
<path d="M353.64 83.67L359.21 86.51A18.75 18.75 0 0 0 361.22 78.98L354.98 78.65A12.5 12.5 0 0 1 353.64 83.67Z" fill="#dbc4fe" class="sg"/>
<g class="lb"><text x="346.07" y="77.84" class="l1">1</text><text x="351.56" y="76.47">2</text><text x="345.12" y="76.18" class="l1">1</text><text x="349.13" y="72.27">2</text><text x="343.46" y="75.23" class="l1">1</text><text x="344.93" y="69.84">2</text><text x="341.54" y="75.23" class="l1">1</text><text x="340.07" y="69.84">2</text><text x="338.46" y="63.81">3</text><text x="336.84" y="57.77">4</text><text x="335.22" y="51.73">5</text><text x="339.88" y="76.18" class="l1">1</text><text x="335.87" y="72.27">2</text><text x="338.93" y="77.84" class="l1">1</text><text x="333.44" y="76.47">2</text><text x="327.41" y="74.86">3</text><text x="321.37" y="73.24">4</text><text x="338.93" y="79.76" class="l1">1</text><text x="333.44" y="81.33">2</text><text x="339.88" y="81.42" class="l1">1</text><text x="335.87" y="85.53">2</text><text x="341.54" y="82.37" class="l1">1</text><text x="340.07" y="87.96">2</text><text x="343.46" y="82.37" class="l1">1</text><text x="344.93" y="87.96">2</text><text x="346.54" y="93.99">3</text><text x="345.12" y="81.42" class="l1">1</text><text x="349.13" y="85.53">2</text><text x="353.55" y="89.95">3</text><text x="346.07" y="79.76" class="l1">1</text><text x="351.56" y="81.33">2</text><text x="357.59" y="82.94">3</text></g>
<use href="#dv1" transform="translate(342.5 78)"/>
<use href="#lab" transform="translate(342.5 78)"/>
<text x="342.5" y="28.7" class="yr">2006</text>
<text x="341.7" y="131.7" class="tot" textLength="57.6" lengthAdjust="spacingAndGlyphs">Total of 32 communities</text>
<use href="#base" transform="translate(441 78)"/>
<path d="M441 78L447.24 77.67A6.25 6.25 0 0 0 446.57 75.16Z" fill="#e6204e" class="sg"/>
<path d="M447.24 77.67L453.48 77.35A12.5 12.5 0 0 0 452.14 72.33L446.57 75.16A6.25 6.25 0 0 1 447.24 77.67Z" fill="#e6204e" class="sg"/>
<path d="M441 78L446.24 74.6A6.25 6.25 0 0 0 444.4 72.76Z" fill="#4cbb52" class="sg"/>
<path d="M446.24 74.6L451.48 71.19A12.5 12.5 0 0 0 447.81 67.52L444.4 72.76A6.25 6.25 0 0 1 446.24 74.6Z" fill="#4cbb52" class="sg"/>
<path d="M441 78L443.84 72.43A6.25 6.25 0 0 0 441.33 71.76Z" fill="#efe53a" class="sg"/>
<path d="M443.84 72.43L446.67 66.86A12.5 12.5 0 0 0 441.65 65.52L441.33 71.76A6.25 6.25 0 0 1 443.84 72.43Z" fill="#efe53a" class="sg"/>
<path d="M441 78L440.67 71.76A6.25 6.25 0 0 0 438.16 72.43Z" fill="#4a62dc" class="sg"/>
<path d="M440.67 71.76L440.35 65.52A12.5 12.5 0 0 0 435.33 66.86L438.16 72.43A6.25 6.25 0 0 1 440.67 71.76Z" fill="#4a62dc" class="sg"/>
<path d="M440.35 65.52L440.02 59.28A18.75 18.75 0 0 0 432.49 61.29L435.33 66.86A12.5 12.5 0 0 1 440.35 65.52Z" fill="#4a62dc" class="sg"/>
<path d="M440.02 59.28L439.69 53.03A25 25 0 0 0 429.65 55.72L432.49 61.29A18.75 18.75 0 0 1 440.02 59.28Z" fill="#4a62dc" class="sg"/>
<path d="M439.69 53.03L439.36 46.79A31.25 31.25 0 0 0 426.81 50.16L429.65 55.72A25 25 0 0 1 439.69 53.03Z" fill="#4a62dc" class="sg"/>
<path d="M441 78L437.6 72.76A6.25 6.25 0 0 0 435.76 74.6Z" fill="#ee7c36" class="sg"/>
<path d="M437.6 72.76L434.19 67.52A12.5 12.5 0 0 0 430.52 71.19L435.76 74.6A6.25 6.25 0 0 1 437.6 72.76Z" fill="#ee7c36" class="sg"/>
<path d="M441 78L435.43 75.16A6.25 6.25 0 0 0 434.76 77.67Z" fill="#9535c6" class="sg"/>
<path d="M435.43 75.16L429.86 72.33A12.5 12.5 0 0 0 428.52 77.35L434.76 77.67A6.25 6.25 0 0 1 435.43 75.16Z" fill="#9535c6" class="sg"/>
<path d="M429.86 72.33L424.29 69.49A18.75 18.75 0 0 0 422.28 77.02L428.52 77.35A12.5 12.5 0 0 1 429.86 72.33Z" fill="#9535c6" class="sg"/>
<path d="M424.29 69.49L418.72 66.65A25 25 0 0 0 416.03 76.69L422.28 77.02A18.75 18.75 0 0 1 424.29 69.49Z" fill="#9535c6" class="sg"/>
<path d="M441 78L434.76 78.33A6.25 6.25 0 0 0 435.43 80.84Z" fill="#68e6f0" class="sg"/>
<path d="M434.76 78.33L428.52 78.65A12.5 12.5 0 0 0 429.86 83.67L435.43 80.84A6.25 6.25 0 0 1 434.76 78.33Z" fill="#68e6f0" class="sg"/>
<path d="M441 78L435.76 81.4A6.25 6.25 0 0 0 437.6 83.24Z" fill="#f240f0" class="sg"/>
<path d="M435.76 81.4L430.52 84.81A12.5 12.5 0 0 0 434.19 88.48L437.6 83.24A6.25 6.25 0 0 1 435.76 81.4Z" fill="#f240f0" class="sg"/>
<path d="M441 78L438.16 83.57A6.25 6.25 0 0 0 440.67 84.24Z" fill="#c0f24c" class="sg"/>
<path d="M438.16 83.57L435.33 89.14A12.5 12.5 0 0 0 440.35 90.48L440.67 84.24A6.25 6.25 0 0 1 438.16 83.57Z" fill="#c0f24c" class="sg"/>
<path d="M441 78L441.33 84.24A6.25 6.25 0 0 0 443.84 83.57Z" fill="#f2b8d8" class="sg"/>
<path d="M441.33 84.24L441.65 90.48A12.5 12.5 0 0 0 446.67 89.14L443.84 83.57A6.25 6.25 0 0 1 441.33 84.24Z" fill="#f2b8d8" class="sg"/>
<path d="M441.65 90.48L441.98 96.72A18.75 18.75 0 0 0 449.51 94.71L446.67 89.14A12.5 12.5 0 0 1 441.65 90.48Z" fill="#f2b8d8" class="sg"/>
<path d="M441 78L444.4 83.24A6.25 6.25 0 0 0 446.24 81.4Z" fill="#41937c" class="sg"/>
<path d="M444.4 83.24L447.81 88.48A12.5 12.5 0 0 0 451.48 84.81L446.24 81.4A6.25 6.25 0 0 1 444.4 83.24Z" fill="#41937c" class="sg"/>
<path d="M441 78L446.57 80.84A6.25 6.25 0 0 0 447.24 78.33Z" fill="#dbc4fe" class="sg"/>
<path d="M446.57 80.84L452.14 83.67A12.5 12.5 0 0 0 453.48 78.65L447.24 78.33A6.25 6.25 0 0 1 446.57 80.84Z" fill="#dbc4fe" class="sg"/>
<path d="M452.14 83.67L457.71 86.51A18.75 18.75 0 0 0 459.72 78.98L453.48 78.65A12.5 12.5 0 0 1 452.14 83.67Z" fill="#dbc4fe" class="sg"/>
<path d="M457.71 86.51L463.28 89.35A25 25 0 0 0 465.97 79.31L459.72 78.98A18.75 18.75 0 0 1 457.71 86.51Z" fill="#dbc4fe" class="sg"/>
<g class="lb"><text x="444.57" y="77.84" class="l1">1</text><text x="450.06" y="76.47">2</text><text x="443.62" y="76.18" class="l1">1</text><text x="447.63" y="72.27">2</text><text x="441.96" y="75.23" class="l1">1</text><text x="443.43" y="69.84">2</text><text x="440.04" y="75.23" class="l1">1</text><text x="438.57" y="69.84">2</text><text x="436.96" y="63.81">3</text><text x="435.34" y="57.77">4</text><text x="433.72" y="51.73">5</text><text x="438.38" y="76.18" class="l1">1</text><text x="434.37" y="72.27">2</text><text x="437.43" y="77.84" class="l1">1</text><text x="431.94" y="76.47">2</text><text x="425.91" y="74.86">3</text><text x="419.87" y="73.24">4</text><text x="437.43" y="79.76" class="l1">1</text><text x="431.94" y="81.33">2</text><text x="438.38" y="81.42" class="l1">1</text><text x="434.37" y="85.53">2</text><text x="440.04" y="82.37" class="l1">1</text><text x="438.57" y="87.96">2</text><text x="441.96" y="82.37" class="l1">1</text><text x="443.43" y="87.96">2</text><text x="445.04" y="93.99">3</text><text x="443.62" y="81.42" class="l1">1</text><text x="447.63" y="85.53">2</text><text x="444.57" y="79.76" class="l1">1</text><text x="450.06" y="81.33">2</text><text x="456.09" y="82.94">3</text><text x="462.13" y="84.56">4</text></g>
<use href="#dv1" transform="translate(441 78)"/>
<use href="#lab" transform="translate(441 78)"/>
<text x="441" y="28.7" class="yr">2007</text>
<text x="440.5" y="131.7" class="tot" textLength="57.6" lengthAdjust="spacingAndGlyphs">Total of 32 communities</text>
<use href="#base" transform="translate(539.5 78)"/>
<path d="M539.5 78L545.74 77.67A6.25 6.25 0 0 0 545.07 75.16Z" fill="#e6204e" class="sg"/>
<path d="M545.74 77.67L551.98 77.35A12.5 12.5 0 0 0 550.64 72.33L545.07 75.16A6.25 6.25 0 0 1 545.74 77.67Z" fill="#e6204e" class="sg"/>
<path d="M539.5 78L544.74 74.6A6.25 6.25 0 0 0 542.9 72.76Z" fill="#4cbb52" class="sg"/>
<path d="M544.74 74.6L549.98 71.19A12.5 12.5 0 0 0 546.31 67.52L542.9 72.76A6.25 6.25 0 0 1 544.74 74.6Z" fill="#4cbb52" class="sg"/>
<path d="M539.5 78L542.34 72.43A6.25 6.25 0 0 0 539.83 71.76Z" fill="#efe53a" class="sg"/>
<path d="M542.34 72.43L545.17 66.86A12.5 12.5 0 0 0 540.15 65.52L539.83 71.76A6.25 6.25 0 0 1 542.34 72.43Z" fill="#efe53a" class="sg"/>
<path d="M539.5 78L539.17 71.76A6.25 6.25 0 0 0 536.66 72.43Z" fill="#4a62dc" class="sg"/>
<path d="M539.17 71.76L538.85 65.52A12.5 12.5 0 0 0 533.83 66.86L536.66 72.43A6.25 6.25 0 0 1 539.17 71.76Z" fill="#4a62dc" class="sg"/>
<path d="M538.85 65.52L538.52 59.28A18.75 18.75 0 0 0 530.99 61.29L533.83 66.86A12.5 12.5 0 0 1 538.85 65.52Z" fill="#4a62dc" class="sg"/>
<path d="M539.5 78L536.1 72.76A6.25 6.25 0 0 0 534.26 74.6Z" fill="#ee7c36" class="sg"/>
<path d="M536.1 72.76L532.69 67.52A12.5 12.5 0 0 0 529.02 71.19L534.26 74.6A6.25 6.25 0 0 1 536.1 72.76Z" fill="#ee7c36" class="sg"/>
<path d="M539.5 78L533.93 75.16A6.25 6.25 0 0 0 533.26 77.67Z" fill="#9535c6" class="sg"/>
<path d="M533.93 75.16L528.36 72.33A12.5 12.5 0 0 0 527.02 77.35L533.26 77.67A6.25 6.25 0 0 1 533.93 75.16Z" fill="#9535c6" class="sg"/>
<path d="M528.36 72.33L522.79 69.49A18.75 18.75 0 0 0 520.78 77.02L527.02 77.35A12.5 12.5 0 0 1 528.36 72.33Z" fill="#9535c6" class="sg"/>
<path d="M522.79 69.49L517.22 66.65A25 25 0 0 0 514.53 76.69L520.78 77.02A18.75 18.75 0 0 1 522.79 69.49Z" fill="#9535c6" class="sg"/>
<path d="M517.22 66.65L511.66 63.81A31.25 31.25 0 0 0 508.29 76.36L514.53 76.69A25 25 0 0 1 517.22 66.65Z" fill="#9535c6" class="sg"/>
<path d="M539.5 78L533.26 78.33A6.25 6.25 0 0 0 533.93 80.84Z" fill="#68e6f0" class="sg"/>
<path d="M533.26 78.33L527.02 78.65A12.5 12.5 0 0 0 528.36 83.67L533.93 80.84A6.25 6.25 0 0 1 533.26 78.33Z" fill="#68e6f0" class="sg"/>
<path d="M527.02 78.65L520.78 78.98A18.75 18.75 0 0 0 522.79 86.51L528.36 83.67A12.5 12.5 0 0 1 527.02 78.65Z" fill="#68e6f0" class="sg"/>
<path d="M539.5 78L534.26 81.4A6.25 6.25 0 0 0 536.1 83.24Z" fill="#f240f0" class="sg"/>
<path d="M534.26 81.4L529.02 84.81A12.5 12.5 0 0 0 532.69 88.48L536.1 83.24A6.25 6.25 0 0 1 534.26 81.4Z" fill="#f240f0" class="sg"/>
<path d="M539.5 78L536.66 83.57A6.25 6.25 0 0 0 539.17 84.24Z" fill="#c0f24c" class="sg"/>
<path d="M536.66 83.57L533.83 89.14A12.5 12.5 0 0 0 538.85 90.48L539.17 84.24A6.25 6.25 0 0 1 536.66 83.57Z" fill="#c0f24c" class="sg"/>
<path d="M539.5 78L539.83 84.24A6.25 6.25 0 0 0 542.34 83.57Z" fill="#f2b8d8" class="sg"/>
<path d="M539.83 84.24L540.15 90.48A12.5 12.5 0 0 0 545.17 89.14L542.34 83.57A6.25 6.25 0 0 1 539.83 84.24Z" fill="#f2b8d8" class="sg"/>
<path d="M540.15 90.48L540.48 96.72A18.75 18.75 0 0 0 548.01 94.71L545.17 89.14A12.5 12.5 0 0 1 540.15 90.48Z" fill="#f2b8d8" class="sg"/>
<path d="M539.5 78L542.9 83.24A6.25 6.25 0 0 0 544.74 81.4Z" fill="#41937c" class="sg"/>
<path d="M542.9 83.24L546.31 88.48A12.5 12.5 0 0 0 549.98 84.81L544.74 81.4A6.25 6.25 0 0 1 542.9 83.24Z" fill="#41937c" class="sg"/>
<path d="M539.5 78L545.07 80.84A6.25 6.25 0 0 0 545.74 78.33Z" fill="#dbc4fe" class="sg"/>
<path d="M545.07 80.84L550.64 83.67A12.5 12.5 0 0 0 551.98 78.65L545.74 78.33A6.25 6.25 0 0 1 545.07 80.84Z" fill="#dbc4fe" class="sg"/>
<path d="M550.64 83.67L556.21 86.51A18.75 18.75 0 0 0 558.22 78.98L551.98 78.65A12.5 12.5 0 0 1 550.64 83.67Z" fill="#dbc4fe" class="sg"/>
<path d="M556.21 86.51L561.78 89.35A25 25 0 0 0 564.47 79.31L558.22 78.98A18.75 18.75 0 0 1 556.21 86.51Z" fill="#dbc4fe" class="sg"/>
<g class="lb"><text x="543.07" y="77.84" class="l1">1</text><text x="548.56" y="76.47">2</text><text x="542.12" y="76.18" class="l1">1</text><text x="546.13" y="72.27">2</text><text x="540.46" y="75.23" class="l1">1</text><text x="541.93" y="69.84">2</text><text x="538.54" y="75.23" class="l1">1</text><text x="537.07" y="69.84">2</text><text x="535.46" y="63.81">3</text><text x="536.88" y="76.18" class="l1">1</text><text x="532.87" y="72.27">2</text><text x="535.93" y="77.84" class="l1">1</text><text x="530.44" y="76.47">2</text><text x="524.41" y="74.86">3</text><text x="518.37" y="73.24">4</text><text x="512.33" y="71.62">5</text><text x="535.93" y="79.76" class="l1">1</text><text x="530.44" y="81.33">2</text><text x="524.41" y="82.94">3</text><text x="536.88" y="81.42" class="l1">1</text><text x="532.87" y="85.53">2</text><text x="538.54" y="82.37" class="l1">1</text><text x="537.07" y="87.96">2</text><text x="540.46" y="82.37" class="l1">1</text><text x="541.93" y="87.96">2</text><text x="543.54" y="93.99">3</text><text x="542.12" y="81.42" class="l1">1</text><text x="546.13" y="85.53">2</text><text x="543.07" y="79.76" class="l1">1</text><text x="548.56" y="81.33">2</text><text x="554.59" y="82.94">3</text><text x="560.63" y="84.56">4</text></g>
<use href="#dv3" transform="translate(539.5 78)"/>
<use href="#lab" transform="translate(539.5 78)"/>
<text x="539.5" y="28.7" class="yr">2008</text>
<text x="539.3" y="131.7" class="tot" textLength="57.6" lengthAdjust="spacingAndGlyphs">Total of 32 communities</text>
<use href="#base" transform="translate(638 78)"/>
<path d="M638 78L644.24 77.67A6.25 6.25 0 0 0 643.57 75.16Z" fill="#e6204e" class="sg"/>
<path d="M644.24 77.67L650.48 77.35A12.5 12.5 0 0 0 649.14 72.33L643.57 75.16A6.25 6.25 0 0 1 644.24 77.67Z" fill="#e6204e" class="sg"/>
<path d="M638 78L643.24 74.6A6.25 6.25 0 0 0 641.4 72.76Z" fill="#4cbb52" class="sg"/>
<path d="M643.24 74.6L648.48 71.19A12.5 12.5 0 0 0 644.81 67.52L641.4 72.76A6.25 6.25 0 0 1 643.24 74.6Z" fill="#4cbb52" class="sg"/>
<path d="M638 78L640.84 72.43A6.25 6.25 0 0 0 638.33 71.76Z" fill="#efe53a" class="sg"/>
<path d="M640.84 72.43L643.67 66.86A12.5 12.5 0 0 0 638.65 65.52L638.33 71.76A6.25 6.25 0 0 1 640.84 72.43Z" fill="#efe53a" class="sg"/>
<path d="M638 78L637.67 71.76A6.25 6.25 0 0 0 635.16 72.43Z" fill="#4a62dc" class="sg"/>
<path d="M637.67 71.76L637.35 65.52A12.5 12.5 0 0 0 632.33 66.86L635.16 72.43A6.25 6.25 0 0 1 637.67 71.76Z" fill="#4a62dc" class="sg"/>
<path d="M637.35 65.52L637.02 59.28A18.75 18.75 0 0 0 629.49 61.29L632.33 66.86A12.5 12.5 0 0 1 637.35 65.52Z" fill="#4a62dc" class="sg"/>
<path d="M637.02 59.28L636.69 53.03A25 25 0 0 0 626.65 55.72L629.49 61.29A18.75 18.75 0 0 1 637.02 59.28Z" fill="#4a62dc" class="sg"/>
<path d="M636.69 53.03L636.36 46.79A31.25 31.25 0 0 0 623.81 50.16L626.65 55.72A25 25 0 0 1 636.69 53.03Z" fill="#4a62dc" class="sg"/>
<path d="M638 78L634.6 72.76A6.25 6.25 0 0 0 632.76 74.6Z" fill="#ee7c36" class="sg"/>
<path d="M634.6 72.76L631.19 67.52A12.5 12.5 0 0 0 627.52 71.19L632.76 74.6A6.25 6.25 0 0 1 634.6 72.76Z" fill="#ee7c36" class="sg"/>
<path d="M638 78L632.43 75.16A6.25 6.25 0 0 0 631.76 77.67Z" fill="#9535c6" class="sg"/>
<path d="M632.43 75.16L626.86 72.33A12.5 12.5 0 0 0 625.52 77.35L631.76 77.67A6.25 6.25 0 0 1 632.43 75.16Z" fill="#9535c6" class="sg"/>
<path d="M626.86 72.33L621.29 69.49A18.75 18.75 0 0 0 619.28 77.02L625.52 77.35A12.5 12.5 0 0 1 626.86 72.33Z" fill="#9535c6" class="sg"/>
<path d="M621.29 69.49L615.72 66.65A25 25 0 0 0 613.03 76.69L619.28 77.02A18.75 18.75 0 0 1 621.29 69.49Z" fill="#9535c6" class="sg"/>
<path d="M638 78L631.76 78.33A6.25 6.25 0 0 0 632.43 80.84Z" fill="#68e6f0" class="sg"/>
<path d="M631.76 78.33L625.52 78.65A12.5 12.5 0 0 0 626.86 83.67L632.43 80.84A6.25 6.25 0 0 1 631.76 78.33Z" fill="#68e6f0" class="sg"/>
<path d="M638 78L632.76 81.4A6.25 6.25 0 0 0 634.6 83.24Z" fill="#f240f0" class="sg"/>
<path d="M632.76 81.4L627.52 84.81A12.5 12.5 0 0 0 631.19 88.48L634.6 83.24A6.25 6.25 0 0 1 632.76 81.4Z" fill="#f240f0" class="sg"/>
<path d="M638 78L635.16 83.57A6.25 6.25 0 0 0 637.67 84.24Z" fill="#c0f24c" class="sg"/>
<path d="M635.16 83.57L632.33 89.14A12.5 12.5 0 0 0 637.35 90.48L637.67 84.24A6.25 6.25 0 0 1 635.16 83.57Z" fill="#c0f24c" class="sg"/>
<path d="M638 78L638.33 84.24A6.25 6.25 0 0 0 640.84 83.57Z" fill="#f2b8d8" class="sg"/>
<path d="M638.33 84.24L638.65 90.48A12.5 12.5 0 0 0 643.67 89.14L640.84 83.57A6.25 6.25 0 0 1 638.33 84.24Z" fill="#f2b8d8" class="sg"/>
<path d="M638.65 90.48L638.98 96.72A18.75 18.75 0 0 0 646.51 94.71L643.67 89.14A12.5 12.5 0 0 1 638.65 90.48Z" fill="#f2b8d8" class="sg"/>
<path d="M638 78L641.4 83.24A6.25 6.25 0 0 0 643.24 81.4Z" fill="#41937c" class="sg"/>
<path d="M641.4 83.24L644.81 88.48A12.5 12.5 0 0 0 648.48 84.81L643.24 81.4A6.25 6.25 0 0 1 641.4 83.24Z" fill="#41937c" class="sg"/>
<path d="M644.81 88.48L648.21 93.73A18.75 18.75 0 0 0 653.73 88.21L648.48 84.81A12.5 12.5 0 0 1 644.81 88.48Z" fill="#41937c" class="sg"/>
<path d="M638 78L643.57 80.84A6.25 6.25 0 0 0 644.24 78.33Z" fill="#dbc4fe" class="sg"/>
<path d="M643.57 80.84L649.14 83.67A12.5 12.5 0 0 0 650.48 78.65L644.24 78.33A6.25 6.25 0 0 1 643.57 80.84Z" fill="#dbc4fe" class="sg"/>
<path d="M649.14 83.67L654.71 86.51A18.75 18.75 0 0 0 656.72 78.98L650.48 78.65A12.5 12.5 0 0 1 649.14 83.67Z" fill="#dbc4fe" class="sg"/>
<g class="lb"><text x="641.57" y="77.84" class="l1">1</text><text x="647.06" y="76.47">2</text><text x="640.62" y="76.18" class="l1">1</text><text x="644.63" y="72.27">2</text><text x="638.96" y="75.23" class="l1">1</text><text x="640.43" y="69.84">2</text><text x="637.04" y="75.23" class="l1">1</text><text x="635.57" y="69.84">2</text><text x="633.96" y="63.81">3</text><text x="632.34" y="57.77">4</text><text x="630.72" y="51.73">5</text><text x="635.38" y="76.18" class="l1">1</text><text x="631.37" y="72.27">2</text><text x="634.43" y="77.84" class="l1">1</text><text x="628.94" y="76.47">2</text><text x="622.91" y="74.86">3</text><text x="616.87" y="73.24">4</text><text x="634.43" y="79.76" class="l1">1</text><text x="628.94" y="81.33">2</text><text x="635.38" y="81.42" class="l1">1</text><text x="631.37" y="85.53">2</text><text x="637.04" y="82.37" class="l1">1</text><text x="635.57" y="87.96">2</text><text x="638.96" y="82.37" class="l1">1</text><text x="640.43" y="87.96">2</text><text x="642.04" y="93.99">3</text><text x="640.62" y="81.42" class="l1">1</text><text x="644.63" y="85.53">2</text><text x="649.05" y="89.95">3</text><text x="641.57" y="79.76" class="l1">1</text><text x="647.06" y="81.33">2</text><text x="653.09" y="82.94">3</text></g>
<use href="#dv1" transform="translate(638 78)"/>
<use href="#lab" transform="translate(638 78)"/>
<text x="638" y="28.7" class="yr">2009</text>
<text x="638.1" y="131.7" class="tot" textLength="57.6" lengthAdjust="spacingAndGlyphs">Total of 32 communities</text>
<use href="#base" transform="translate(47 191.6)"/>
<path d="M47 191.6L53.24 191.27A6.25 6.25 0 0 0 52.57 188.76Z" fill="#e6204e" class="sg"/>
<path d="M53.24 191.27L59.48 190.95A12.5 12.5 0 0 0 58.14 185.93L52.57 188.76A6.25 6.25 0 0 1 53.24 191.27Z" fill="#e6204e" class="sg"/>
<path d="M47 191.6L52.24 188.2A6.25 6.25 0 0 0 51.42 187.18Z" fill="#4cbb52" class="sg"/>
<path d="M52.24 188.2L57.48 184.79A12.5 12.5 0 0 0 55.84 182.76L51.42 187.18A6.25 6.25 0 0 1 52.24 188.2Z" fill="#4cbb52" class="sg"/>
<path d="M57.48 184.79L62.73 181.39A18.75 18.75 0 0 0 60.26 178.34L55.84 182.76A12.5 12.5 0 0 1 57.48 184.79Z" fill="#4cbb52" class="sg"/>
<path d="M62.73 181.39L67.97 177.98A25 25 0 0 0 64.68 173.92L60.26 178.34A18.75 18.75 0 0 1 62.73 181.39Z" fill="#4cbb52" class="sg"/>
<path d="M67.97 177.98L73.21 174.58A31.25 31.25 0 0 0 69.1 169.5L64.68 173.92A25 25 0 0 1 67.97 177.98Z" fill="#4cbb52" class="sg"/>
<path d="M47 191.6L51.42 187.18A6.25 6.25 0 0 0 50.4 186.36Z" fill="#4cbb52" class="sg"/>
<path d="M51.42 187.18L55.84 182.76A12.5 12.5 0 0 0 53.81 181.12L50.4 186.36A6.25 6.25 0 0 1 51.42 187.18Z" fill="#4cbb52" class="sg"/>
<path d="M55.84 182.76L60.26 178.34A18.75 18.75 0 0 0 57.21 175.87L53.81 181.12A12.5 12.5 0 0 1 55.84 182.76Z" fill="#4cbb52" class="sg"/>
<path d="M60.26 178.34L64.68 173.92A25 25 0 0 0 60.62 170.63L57.21 175.87A18.75 18.75 0 0 1 60.26 178.34Z" fill="#4cbb52" class="sg"/>
<path d="M64.68 173.92L69.1 169.5A31.25 31.25 0 0 0 64.02 165.39L60.62 170.63A25 25 0 0 1 64.68 173.92Z" fill="#4cbb52" class="sg"/>
<path d="M47 191.6L49.84 186.03A6.25 6.25 0 0 0 47.33 185.36Z" fill="#efe53a" class="sg"/>
<path d="M49.84 186.03L52.67 180.46A12.5 12.5 0 0 0 47.65 179.12L47.33 185.36A6.25 6.25 0 0 1 49.84 186.03Z" fill="#efe53a" class="sg"/>
<path d="M47 191.6L46.67 185.36A6.25 6.25 0 0 0 44.16 186.03Z" fill="#4a62dc" class="sg"/>
<path d="M46.67 185.36L46.35 179.12A12.5 12.5 0 0 0 41.33 180.46L44.16 186.03A6.25 6.25 0 0 1 46.67 185.36Z" fill="#4a62dc" class="sg"/>
<path d="M46.35 179.12L46.02 172.88A18.75 18.75 0 0 0 38.49 174.89L41.33 180.46A12.5 12.5 0 0 1 46.35 179.12Z" fill="#4a62dc" class="sg"/>
<path d="M46.02 172.88L45.69 166.63A25 25 0 0 0 35.65 169.32L38.49 174.89A18.75 18.75 0 0 1 46.02 172.88Z" fill="#4a62dc" class="sg"/>
<path d="M45.69 166.63L45.36 160.39A31.25 31.25 0 0 0 32.81 163.76L35.65 169.32A25 25 0 0 1 45.69 166.63Z" fill="#4a62dc" class="sg"/>
<path d="M47 191.6L43.6 186.36A6.25 6.25 0 0 0 41.76 188.2Z" fill="#ee7c36" class="sg"/>
<path d="M43.6 186.36L40.19 181.12A12.5 12.5 0 0 0 36.52 184.79L41.76 188.2A6.25 6.25 0 0 1 43.6 186.36Z" fill="#ee7c36" class="sg"/>
<path d="M47 191.6L41.43 188.76A6.25 6.25 0 0 0 40.76 191.27Z" fill="#9535c6" class="sg"/>
<path d="M41.43 188.76L35.86 185.93A12.5 12.5 0 0 0 34.52 190.95L40.76 191.27A6.25 6.25 0 0 1 41.43 188.76Z" fill="#9535c6" class="sg"/>
<path d="M35.86 185.93L30.29 183.09A18.75 18.75 0 0 0 28.28 190.62L34.52 190.95A12.5 12.5 0 0 1 35.86 185.93Z" fill="#9535c6" class="sg"/>
<path d="M30.29 183.09L24.72 180.25A25 25 0 0 0 22.03 190.29L28.28 190.62A18.75 18.75 0 0 1 30.29 183.09Z" fill="#9535c6" class="sg"/>
<path d="M47 191.6L40.76 191.93A6.25 6.25 0 0 0 41.43 194.44Z" fill="#68e6f0" class="sg"/>
<path d="M40.76 191.93L34.52 192.25A12.5 12.5 0 0 0 35.86 197.27L41.43 194.44A6.25 6.25 0 0 1 40.76 191.93Z" fill="#68e6f0" class="sg"/>
<path d="M47 191.6L41.76 195A6.25 6.25 0 0 0 43.6 196.84Z" fill="#f240f0" class="sg"/>
<path d="M41.76 195L36.52 198.41A12.5 12.5 0 0 0 40.19 202.08L43.6 196.84A6.25 6.25 0 0 1 41.76 195Z" fill="#f240f0" class="sg"/>
<path d="M47 191.6L44.16 197.17A6.25 6.25 0 0 0 46.67 197.84Z" fill="#c0f24c" class="sg"/>
<path d="M44.16 197.17L41.33 202.74A12.5 12.5 0 0 0 46.35 204.08L46.67 197.84A6.25 6.25 0 0 1 44.16 197.17Z" fill="#c0f24c" class="sg"/>
<path d="M47 191.6L47.33 197.84A6.25 6.25 0 0 0 49.84 197.17Z" fill="#f2b8d8" class="sg"/>
<path d="M47.33 197.84L47.65 204.08A12.5 12.5 0 0 0 52.67 202.74L49.84 197.17A6.25 6.25 0 0 1 47.33 197.84Z" fill="#f2b8d8" class="sg"/>
<path d="M47.65 204.08L47.98 210.32A18.75 18.75 0 0 0 55.51 208.31L52.67 202.74A12.5 12.5 0 0 1 47.65 204.08Z" fill="#f2b8d8" class="sg"/>
<path d="M47 191.6L50.4 196.84A6.25 6.25 0 0 0 52.24 195Z" fill="#41937c" class="sg"/>
<path d="M50.4 196.84L53.81 202.08A12.5 12.5 0 0 0 57.48 198.41L52.24 195A6.25 6.25 0 0 1 50.4 196.84Z" fill="#41937c" class="sg"/>
<path d="M47 191.6L52.57 194.44A6.25 6.25 0 0 0 53.24 191.93Z" fill="#dbc4fe" class="sg"/>
<path d="M52.57 194.44L58.14 197.27A12.5 12.5 0 0 0 59.48 192.25L53.24 191.93A6.25 6.25 0 0 1 52.57 194.44Z" fill="#dbc4fe" class="sg"/>
<g class="lb"><text x="50.57" y="191.44" class="l1">1</text><text x="56.06" y="190.07">2</text><text x="49.88" y="190.07" class="l1">1</text><text x="54.29" y="186.6">2</text><text x="59.14" y="182.67">3</text><text x="64" y="178.73">4</text><text x="68.86" y="174.8">5</text><text x="49.33" y="189.52" class="l1">1</text><text x="52.9" y="185.21">2</text><text x="56.83" y="180.36">3</text><text x="60.77" y="175.5">4</text><text x="64.7" y="170.64">5</text><text x="47.96" y="188.83" class="l1">1</text><text x="49.43" y="183.44">2</text><text x="46.04" y="188.83" class="l1">1</text><text x="44.57" y="183.44">2</text><text x="42.96" y="177.41">3</text><text x="41.34" y="171.37">4</text><text x="39.72" y="165.33">5</text><text x="44.38" y="189.78" class="l1">1</text><text x="40.37" y="185.87">2</text><text x="43.43" y="191.44" class="l1">1</text><text x="37.94" y="190.07">2</text><text x="31.91" y="188.46">3</text><text x="25.87" y="186.84">4</text><text x="43.43" y="193.36" class="l1">1</text><text x="37.94" y="194.93">2</text><text x="44.38" y="195.02" class="l1">1</text><text x="40.37" y="199.13">2</text><text x="46.04" y="195.97" class="l1">1</text><text x="44.57" y="201.56">2</text><text x="47.96" y="195.97" class="l1">1</text><text x="49.43" y="201.56">2</text><text x="51.04" y="207.59">3</text><text x="49.62" y="195.02" class="l1">1</text><text x="53.63" y="199.13">2</text><text x="50.57" y="193.36" class="l1">1</text><text x="56.06" y="194.93">2</text></g>
<use href="#dv1" transform="translate(47 191.6)"/>
<use href="#lab" transform="translate(47 191.6)"/>
<text x="47" y="142.3" class="yr">2010</text>
<text x="45.3" y="245.3" class="tot" textLength="57.6" lengthAdjust="spacingAndGlyphs">Total of 38 communities</text>
<use href="#base" transform="translate(145.5 191.6)"/>
<path d="M145.5 191.6L151.74 191.27A6.25 6.25 0 0 0 151.07 188.76Z" fill="#e6204e" class="sg"/>
<path d="M151.74 191.27L157.98 190.95A12.5 12.5 0 0 0 156.64 185.93L151.07 188.76A6.25 6.25 0 0 1 151.74 191.27Z" fill="#e6204e" class="sg"/>
<path d="M145.5 191.6L150.74 188.2A6.25 6.25 0 0 0 148.9 186.36Z" fill="#4cbb52" class="sg"/>
<path d="M150.74 188.2L155.98 184.79A12.5 12.5 0 0 0 152.31 181.12L148.9 186.36A6.25 6.25 0 0 1 150.74 188.2Z" fill="#4cbb52" class="sg"/>
<path d="M145.5 191.6L148.34 186.03A6.25 6.25 0 0 0 145.83 185.36Z" fill="#efe53a" class="sg"/>
<path d="M148.34 186.03L151.17 180.46A12.5 12.5 0 0 0 146.15 179.12L145.83 185.36A6.25 6.25 0 0 1 148.34 186.03Z" fill="#efe53a" class="sg"/>
<path d="M145.5 191.6L145.17 185.36A6.25 6.25 0 0 0 142.66 186.03Z" fill="#4a62dc" class="sg"/>
<path d="M145.17 185.36L144.85 179.12A12.5 12.5 0 0 0 139.83 180.46L142.66 186.03A6.25 6.25 0 0 1 145.17 185.36Z" fill="#4a62dc" class="sg"/>
<path d="M144.85 179.12L144.52 172.88A18.75 18.75 0 0 0 136.99 174.89L139.83 180.46A12.5 12.5 0 0 1 144.85 179.12Z" fill="#4a62dc" class="sg"/>
<path d="M144.52 172.88L144.19 166.63A25 25 0 0 0 134.15 169.32L136.99 174.89A18.75 18.75 0 0 1 144.52 172.88Z" fill="#4a62dc" class="sg"/>
<path d="M144.19 166.63L143.86 160.39A31.25 31.25 0 0 0 131.31 163.76L134.15 169.32A25 25 0 0 1 144.19 166.63Z" fill="#4a62dc" class="sg"/>
<path d="M145.5 191.6L142.1 186.36A6.25 6.25 0 0 0 140.26 188.2Z" fill="#ee7c36" class="sg"/>
<path d="M142.1 186.36L138.69 181.12A12.5 12.5 0 0 0 135.02 184.79L140.26 188.2A6.25 6.25 0 0 1 142.1 186.36Z" fill="#ee7c36" class="sg"/>
<path d="M145.5 191.6L139.93 188.76A6.25 6.25 0 0 0 139.26 191.27Z" fill="#9535c6" class="sg"/>
<path d="M139.93 188.76L134.36 185.93A12.5 12.5 0 0 0 133.02 190.95L139.26 191.27A6.25 6.25 0 0 1 139.93 188.76Z" fill="#9535c6" class="sg"/>
<path d="M134.36 185.93L128.79 183.09A18.75 18.75 0 0 0 126.78 190.62L133.02 190.95A12.5 12.5 0 0 1 134.36 185.93Z" fill="#9535c6" class="sg"/>
<path d="M128.79 183.09L123.22 180.25A25 25 0 0 0 120.53 190.29L126.78 190.62A18.75 18.75 0 0 1 128.79 183.09Z" fill="#9535c6" class="sg"/>
<path d="M145.5 191.6L139.26 191.93A6.25 6.25 0 0 0 139.93 194.44Z" fill="#68e6f0" class="sg"/>
<path d="M139.26 191.93L133.02 192.25A12.5 12.5 0 0 0 134.36 197.27L139.93 194.44A6.25 6.25 0 0 1 139.26 191.93Z" fill="#68e6f0" class="sg"/>
<path d="M145.5 191.6L140.26 195A6.25 6.25 0 0 0 142.1 196.84Z" fill="#f240f0" class="sg"/>
<path d="M140.26 195L135.02 198.41A12.5 12.5 0 0 0 138.69 202.08L142.1 196.84A6.25 6.25 0 0 1 140.26 195Z" fill="#f240f0" class="sg"/>
<path d="M145.5 191.6L142.66 197.17A6.25 6.25 0 0 0 145.17 197.84Z" fill="#c0f24c" class="sg"/>
<path d="M142.66 197.17L139.83 202.74A12.5 12.5 0 0 0 144.85 204.08L145.17 197.84A6.25 6.25 0 0 1 142.66 197.17Z" fill="#c0f24c" class="sg"/>
<path d="M145.5 191.6L145.83 197.84A6.25 6.25 0 0 0 148.34 197.17Z" fill="#f2b8d8" class="sg"/>
<path d="M145.83 197.84L146.15 204.08A12.5 12.5 0 0 0 151.17 202.74L148.34 197.17A6.25 6.25 0 0 1 145.83 197.84Z" fill="#f2b8d8" class="sg"/>
<path d="M146.15 204.08L146.48 210.32A18.75 18.75 0 0 0 154.01 208.31L151.17 202.74A12.5 12.5 0 0 1 146.15 204.08Z" fill="#f2b8d8" class="sg"/>
<path d="M145.5 191.6L148.9 196.84A6.25 6.25 0 0 0 150.74 195Z" fill="#41937c" class="sg"/>
<path d="M148.9 196.84L152.31 202.08A12.5 12.5 0 0 0 155.98 198.41L150.74 195A6.25 6.25 0 0 1 148.9 196.84Z" fill="#41937c" class="sg"/>
<path d="M152.31 202.08L155.71 207.33A18.75 18.75 0 0 0 161.23 201.81L155.98 198.41A12.5 12.5 0 0 1 152.31 202.08Z" fill="#41937c" class="sg"/>
<path d="M155.71 207.33L159.12 212.57A25 25 0 0 0 166.47 205.22L161.23 201.81A18.75 18.75 0 0 1 155.71 207.33Z" fill="#41937c" class="sg"/>
<path d="M145.5 191.6L151.07 194.44A6.25 6.25 0 0 0 151.74 191.93Z" fill="#dbc4fe" class="sg"/>
<path d="M151.07 194.44L156.64 197.27A12.5 12.5 0 0 0 157.98 192.25L151.74 191.93A6.25 6.25 0 0 1 151.07 194.44Z" fill="#dbc4fe" class="sg"/>
<path d="M156.64 197.27L162.21 200.11A18.75 18.75 0 0 0 164.22 192.58L157.98 192.25A12.5 12.5 0 0 1 156.64 197.27Z" fill="#dbc4fe" class="sg"/>
<path d="M162.21 200.11L167.78 202.95A25 25 0 0 0 170.47 192.91L164.22 192.58A18.75 18.75 0 0 1 162.21 200.11Z" fill="#dbc4fe" class="sg"/>
<g class="lb"><text x="149.07" y="191.44" class="l1">1</text><text x="154.56" y="190.07">2</text><text x="148.12" y="189.78" class="l1">1</text><text x="152.13" y="185.87">2</text><text x="146.46" y="188.83" class="l1">1</text><text x="147.93" y="183.44">2</text><text x="144.54" y="188.83" class="l1">1</text><text x="143.07" y="183.44">2</text><text x="141.46" y="177.41">3</text><text x="139.84" y="171.37">4</text><text x="138.22" y="165.33">5</text><text x="142.88" y="189.78" class="l1">1</text><text x="138.87" y="185.87">2</text><text x="141.93" y="191.44" class="l1">1</text><text x="136.44" y="190.07">2</text><text x="130.41" y="188.46">3</text><text x="124.37" y="186.84">4</text><text x="141.93" y="193.36" class="l1">1</text><text x="136.44" y="194.93">2</text><text x="142.88" y="195.02" class="l1">1</text><text x="138.87" y="199.13">2</text><text x="144.54" y="195.97" class="l1">1</text><text x="143.07" y="201.56">2</text><text x="146.46" y="195.97" class="l1">1</text><text x="147.93" y="201.56">2</text><text x="149.54" y="207.59">3</text><text x="148.12" y="195.02" class="l1">1</text><text x="152.13" y="199.13">2</text><text x="156.55" y="203.55">3</text><text x="160.97" y="207.97">4</text><text x="149.07" y="193.36" class="l1">1</text><text x="154.56" y="194.93">2</text><text x="160.59" y="196.54">3</text><text x="166.63" y="198.16">4</text></g>
<use href="#dv1" transform="translate(145.5 191.6)"/>
<use href="#lab" transform="translate(145.5 191.6)"/>
<text x="145.5" y="142.3" class="yr">2011</text>
<text x="144.1" y="245.3" class="tot" textLength="57.6" lengthAdjust="spacingAndGlyphs">Total of 34 communities</text>
<use href="#base" transform="translate(244 191.6)"/>
<path d="M244 191.6L250.24 191.27A6.25 6.25 0 0 0 249.57 188.76Z" fill="#e6204e" class="sg"/>
<path d="M250.24 191.27L256.48 190.95A12.5 12.5 0 0 0 255.14 185.93L249.57 188.76A6.25 6.25 0 0 1 250.24 191.27Z" fill="#e6204e" class="sg"/>
<path d="M244 191.6L249.24 188.2A6.25 6.25 0 0 0 247.4 186.36Z" fill="#4cbb52" class="sg"/>
<path d="M249.24 188.2L254.48 184.79A12.5 12.5 0 0 0 250.81 181.12L247.4 186.36A6.25 6.25 0 0 1 249.24 188.2Z" fill="#4cbb52" class="sg"/>
<path d="M244 191.6L246.84 186.03A6.25 6.25 0 0 0 244.33 185.36Z" fill="#efe53a" class="sg"/>
<path d="M246.84 186.03L249.67 180.46A12.5 12.5 0 0 0 244.65 179.12L244.33 185.36A6.25 6.25 0 0 1 246.84 186.03Z" fill="#efe53a" class="sg"/>
<path d="M244 191.6L243.67 185.36A6.25 6.25 0 0 0 241.16 186.03Z" fill="#4a62dc" class="sg"/>
<path d="M243.67 185.36L243.35 179.12A12.5 12.5 0 0 0 238.33 180.46L241.16 186.03A6.25 6.25 0 0 1 243.67 185.36Z" fill="#4a62dc" class="sg"/>
<path d="M243.35 179.12L243.02 172.88A18.75 18.75 0 0 0 235.49 174.89L238.33 180.46A12.5 12.5 0 0 1 243.35 179.12Z" fill="#4a62dc" class="sg"/>
<path d="M243.02 172.88L242.69 166.63A25 25 0 0 0 232.65 169.32L235.49 174.89A18.75 18.75 0 0 1 243.02 172.88Z" fill="#4a62dc" class="sg"/>
<path d="M242.69 166.63L242.36 160.39A31.25 31.25 0 0 0 229.81 163.76L232.65 169.32A25 25 0 0 1 242.69 166.63Z" fill="#4a62dc" class="sg"/>
<path d="M244 191.6L240.6 186.36A6.25 6.25 0 0 0 238.76 188.2Z" fill="#ee7c36" class="sg"/>
<path d="M240.6 186.36L237.19 181.12A12.5 12.5 0 0 0 233.52 184.79L238.76 188.2A6.25 6.25 0 0 1 240.6 186.36Z" fill="#ee7c36" class="sg"/>
<path d="M244 191.6L238.43 188.76A6.25 6.25 0 0 0 237.76 191.27Z" fill="#9535c6" class="sg"/>
<path d="M238.43 188.76L232.86 185.93A12.5 12.5 0 0 0 231.52 190.95L237.76 191.27A6.25 6.25 0 0 1 238.43 188.76Z" fill="#9535c6" class="sg"/>
<path d="M232.86 185.93L227.29 183.09A18.75 18.75 0 0 0 225.28 190.62L231.52 190.95A12.5 12.5 0 0 1 232.86 185.93Z" fill="#9535c6" class="sg"/>
<path d="M227.29 183.09L221.72 180.25A25 25 0 0 0 219.03 190.29L225.28 190.62A18.75 18.75 0 0 1 227.29 183.09Z" fill="#9535c6" class="sg"/>
<path d="M244 191.6L237.76 191.93A6.25 6.25 0 0 0 238.43 194.44Z" fill="#68e6f0" class="sg"/>
<path d="M237.76 191.93L231.52 192.25A12.5 12.5 0 0 0 232.86 197.27L238.43 194.44A6.25 6.25 0 0 1 237.76 191.93Z" fill="#68e6f0" class="sg"/>
<path d="M244 191.6L238.76 195A6.25 6.25 0 0 0 240.6 196.84Z" fill="#f240f0" class="sg"/>
<path d="M238.76 195L233.52 198.41A12.5 12.5 0 0 0 237.19 202.08L240.6 196.84A6.25 6.25 0 0 1 238.76 195Z" fill="#f240f0" class="sg"/>
<path d="M244 191.6L241.16 197.17A6.25 6.25 0 0 0 243.67 197.84Z" fill="#c0f24c" class="sg"/>
<path d="M241.16 197.17L238.33 202.74A12.5 12.5 0 0 0 243.35 204.08L243.67 197.84A6.25 6.25 0 0 1 241.16 197.17Z" fill="#c0f24c" class="sg"/>
<path d="M244 191.6L244.33 197.84A6.25 6.25 0 0 0 246.84 197.17Z" fill="#f2b8d8" class="sg"/>
<path d="M244.33 197.84L244.65 204.08A12.5 12.5 0 0 0 249.67 202.74L246.84 197.17A6.25 6.25 0 0 1 244.33 197.84Z" fill="#f2b8d8" class="sg"/>
<path d="M244.65 204.08L244.98 210.32A18.75 18.75 0 0 0 252.51 208.31L249.67 202.74A12.5 12.5 0 0 1 244.65 204.08Z" fill="#f2b8d8" class="sg"/>
<path d="M244 191.6L247.4 196.84A6.25 6.25 0 0 0 249.24 195Z" fill="#41937c" class="sg"/>
<path d="M247.4 196.84L250.81 202.08A12.5 12.5 0 0 0 254.48 198.41L249.24 195A6.25 6.25 0 0 1 247.4 196.84Z" fill="#41937c" class="sg"/>
<path d="M250.81 202.08L254.21 207.33A18.75 18.75 0 0 0 259.73 201.81L254.48 198.41A12.5 12.5 0 0 1 250.81 202.08Z" fill="#41937c" class="sg"/>
<path d="M254.21 207.33L257.62 212.57A25 25 0 0 0 264.97 205.22L259.73 201.81A18.75 18.75 0 0 1 254.21 207.33Z" fill="#41937c" class="sg"/>
<path d="M244 191.6L249.57 194.44A6.25 6.25 0 0 0 250.24 191.93Z" fill="#dbc4fe" class="sg"/>
<path d="M249.57 194.44L255.14 197.27A12.5 12.5 0 0 0 256.48 192.25L250.24 191.93A6.25 6.25 0 0 1 249.57 194.44Z" fill="#dbc4fe" class="sg"/>
<path d="M255.14 197.27L260.71 200.11A18.75 18.75 0 0 0 262.72 192.58L256.48 192.25A12.5 12.5 0 0 1 255.14 197.27Z" fill="#dbc4fe" class="sg"/>
<path d="M260.71 200.11L266.28 202.95A25 25 0 0 0 268.97 192.91L262.72 192.58A18.75 18.75 0 0 1 260.71 200.11Z" fill="#dbc4fe" class="sg"/>
<g class="lb"><text x="247.57" y="191.44" class="l1">1</text><text x="253.06" y="190.07">2</text><text x="246.62" y="189.78" class="l1">1</text><text x="250.63" y="185.87">2</text><text x="244.96" y="188.83" class="l1">1</text><text x="246.43" y="183.44">2</text><text x="243.04" y="188.83" class="l1">1</text><text x="241.57" y="183.44">2</text><text x="239.96" y="177.41">3</text><text x="238.34" y="171.37">4</text><text x="236.72" y="165.33">5</text><text x="241.38" y="189.78" class="l1">1</text><text x="237.37" y="185.87">2</text><text x="240.43" y="191.44" class="l1">1</text><text x="234.94" y="190.07">2</text><text x="228.91" y="188.46">3</text><text x="222.87" y="186.84">4</text><text x="240.43" y="193.36" class="l1">1</text><text x="234.94" y="194.93">2</text><text x="241.38" y="195.02" class="l1">1</text><text x="237.37" y="199.13">2</text><text x="243.04" y="195.97" class="l1">1</text><text x="241.57" y="201.56">2</text><text x="244.96" y="195.97" class="l1">1</text><text x="246.43" y="201.56">2</text><text x="248.04" y="207.59">3</text><text x="246.62" y="195.02" class="l1">1</text><text x="250.63" y="199.13">2</text><text x="255.05" y="203.55">3</text><text x="259.47" y="207.97">4</text><text x="247.57" y="193.36" class="l1">1</text><text x="253.06" y="194.93">2</text><text x="259.09" y="196.54">3</text><text x="265.13" y="198.16">4</text></g>
<use href="#dv4" transform="translate(244 191.6)"/>
<use href="#lab" transform="translate(244 191.6)"/>
<text x="244" y="142.3" class="yr">2012</text>
<text x="242.9" y="245.3" class="tot" textLength="57.6" lengthAdjust="spacingAndGlyphs">Total of 34 communities</text>
<use href="#base" transform="translate(342.5 191.6)"/>
<path d="M342.5 191.6L348.74 191.27A6.25 6.25 0 0 0 348.07 188.76Z" fill="#e6204e" class="sg"/>
<path d="M348.74 191.27L354.98 190.95A12.5 12.5 0 0 0 353.64 185.93L348.07 188.76A6.25 6.25 0 0 1 348.74 191.27Z" fill="#e6204e" class="sg"/>
<path d="M342.5 191.6L347.74 188.2A6.25 6.25 0 0 0 345.9 186.36Z" fill="#4cbb52" class="sg"/>
<path d="M347.74 188.2L352.98 184.79A12.5 12.5 0 0 0 349.31 181.12L345.9 186.36A6.25 6.25 0 0 1 347.74 188.2Z" fill="#4cbb52" class="sg"/>
<path d="M342.5 191.6L345.34 186.03A6.25 6.25 0 0 0 342.83 185.36Z" fill="#efe53a" class="sg"/>
<path d="M345.34 186.03L348.17 180.46A12.5 12.5 0 0 0 343.15 179.12L342.83 185.36A6.25 6.25 0 0 1 345.34 186.03Z" fill="#efe53a" class="sg"/>
<path d="M342.5 191.6L342.17 185.36A6.25 6.25 0 0 0 339.66 186.03Z" fill="#4a62dc" class="sg"/>
<path d="M342.17 185.36L341.85 179.12A12.5 12.5 0 0 0 336.83 180.46L339.66 186.03A6.25 6.25 0 0 1 342.17 185.36Z" fill="#4a62dc" class="sg"/>
<path d="M342.5 191.6L339.1 186.36A6.25 6.25 0 0 0 337.26 188.2Z" fill="#ee7c36" class="sg"/>
<path d="M339.1 186.36L335.69 181.12A12.5 12.5 0 0 0 332.02 184.79L337.26 188.2A6.25 6.25 0 0 1 339.1 186.36Z" fill="#ee7c36" class="sg"/>
<path d="M342.5 191.6L336.93 188.76A6.25 6.25 0 0 0 336.46 189.98Z" fill="#9535c6" class="sg"/>
<path d="M336.93 188.76L331.36 185.93A12.5 12.5 0 0 0 330.43 188.36L336.46 189.98A6.25 6.25 0 0 1 336.93 188.76Z" fill="#9535c6" class="sg"/>
<path d="M331.36 185.93L325.79 183.09A18.75 18.75 0 0 0 324.39 186.75L330.43 188.36A12.5 12.5 0 0 1 331.36 185.93Z" fill="#9535c6" class="sg"/>
<path d="M342.5 191.6L336.46 189.98A6.25 6.25 0 0 0 336.26 191.27Z" fill="#9535c6" class="sg"/>
<path d="M336.46 189.98L330.43 188.36A12.5 12.5 0 0 0 330.02 190.95L336.26 191.27A6.25 6.25 0 0 1 336.46 189.98Z" fill="#9535c6" class="sg"/>
<path d="M330.43 188.36L324.39 186.75A18.75 18.75 0 0 0 323.78 190.62L330.02 190.95A12.5 12.5 0 0 1 330.43 188.36Z" fill="#9535c6" class="sg"/>
<path d="M342.5 191.6L336.26 191.93A6.25 6.25 0 0 0 336.93 194.44Z" fill="#68e6f0" class="sg"/>
<path d="M336.26 191.93L330.02 192.25A12.5 12.5 0 0 0 331.36 197.27L336.93 194.44A6.25 6.25 0 0 1 336.26 191.93Z" fill="#68e6f0" class="sg"/>
<path d="M330.02 192.25L323.78 192.58A18.75 18.75 0 0 0 325.79 200.11L331.36 197.27A12.5 12.5 0 0 1 330.02 192.25Z" fill="#68e6f0" class="sg"/>
<path d="M342.5 191.6L337.26 195A6.25 6.25 0 0 0 339.1 196.84Z" fill="#f240f0" class="sg"/>
<path d="M337.26 195L332.02 198.41A12.5 12.5 0 0 0 335.69 202.08L339.1 196.84A6.25 6.25 0 0 1 337.26 195Z" fill="#f240f0" class="sg"/>
<path d="M342.5 191.6L339.66 197.17A6.25 6.25 0 0 0 342.17 197.84Z" fill="#c0f24c" class="sg"/>
<path d="M339.66 197.17L336.83 202.74A12.5 12.5 0 0 0 341.85 204.08L342.17 197.84A6.25 6.25 0 0 1 339.66 197.17Z" fill="#c0f24c" class="sg"/>
<path d="M342.5 191.6L342.83 197.84A6.25 6.25 0 0 0 345.34 197.17Z" fill="#f2b8d8" class="sg"/>
<path d="M342.83 197.84L343.15 204.08A12.5 12.5 0 0 0 348.17 202.74L345.34 197.17A6.25 6.25 0 0 1 342.83 197.84Z" fill="#f2b8d8" class="sg"/>
<path d="M343.15 204.08L343.48 210.32A18.75 18.75 0 0 0 351.01 208.31L348.17 202.74A12.5 12.5 0 0 1 343.15 204.08Z" fill="#f2b8d8" class="sg"/>
<path d="M342.5 191.6L345.9 196.84A6.25 6.25 0 0 0 347.74 195Z" fill="#41937c" class="sg"/>
<path d="M345.9 196.84L349.31 202.08A12.5 12.5 0 0 0 352.98 198.41L347.74 195A6.25 6.25 0 0 1 345.9 196.84Z" fill="#41937c" class="sg"/>
<path d="M349.31 202.08L352.71 207.33A18.75 18.75 0 0 0 358.23 201.81L352.98 198.41A12.5 12.5 0 0 1 349.31 202.08Z" fill="#41937c" class="sg"/>
<path d="M352.71 207.33L356.12 212.57A25 25 0 0 0 363.47 205.22L358.23 201.81A18.75 18.75 0 0 1 352.71 207.33Z" fill="#41937c" class="sg"/>
<path d="M342.5 191.6L348.07 194.44A6.25 6.25 0 0 0 348.74 191.93Z" fill="#dbc4fe" class="sg"/>
<path d="M348.07 194.44L353.64 197.27A12.5 12.5 0 0 0 354.98 192.25L348.74 191.93A6.25 6.25 0 0 1 348.07 194.44Z" fill="#dbc4fe" class="sg"/>
<path d="M353.64 197.27L359.21 200.11A18.75 18.75 0 0 0 361.22 192.58L354.98 192.25A12.5 12.5 0 0 1 353.64 197.27Z" fill="#dbc4fe" class="sg"/>
<path d="M359.21 200.11L364.78 202.95A25 25 0 0 0 367.47 192.91L361.22 192.58A18.75 18.75 0 0 1 359.21 200.11Z" fill="#dbc4fe" class="sg"/>
<g class="lb"><text x="346.07" y="191.44" class="l1">1</text><text x="351.56" y="190.07">2</text><text x="345.12" y="189.78" class="l1">1</text><text x="349.13" y="185.87">2</text><text x="343.46" y="188.83" class="l1">1</text><text x="344.93" y="183.44">2</text><text x="341.54" y="188.83" class="l1">1</text><text x="340.07" y="183.44">2</text><text x="339.88" y="189.78" class="l1">1</text><text x="335.87" y="185.87">2</text><text x="339.05" y="191.07" class="l1">1</text><text x="333.75" y="189.14">2</text><text x="327.91" y="186.9">3</text><text x="338.85" y="191.82" class="l1">1</text><text x="333.24" y="191.03">2</text><text x="327.07" y="190.06">3</text><text x="338.93" y="193.36" class="l1">1</text><text x="333.44" y="194.93">2</text><text x="327.41" y="196.54">3</text><text x="339.88" y="195.02" class="l1">1</text><text x="335.87" y="199.13">2</text><text x="341.54" y="195.97" class="l1">1</text><text x="340.07" y="201.56">2</text><text x="343.46" y="195.97" class="l1">1</text><text x="344.93" y="201.56">2</text><text x="346.54" y="207.59">3</text><text x="345.12" y="195.02" class="l1">1</text><text x="349.13" y="199.13">2</text><text x="353.55" y="203.55">3</text><text x="357.97" y="207.97">4</text><text x="346.07" y="193.36" class="l1">1</text><text x="351.56" y="194.93">2</text><text x="357.59" y="196.54">3</text><text x="363.63" y="198.16">4</text></g>
<use href="#dv5" transform="translate(342.5 191.6)"/>
<use href="#lab" transform="translate(342.5 191.6)"/>
<text x="342.5" y="142.3" class="yr">2013</text>
<text x="341.7" y="245.3" class="tot" textLength="57.6" lengthAdjust="spacingAndGlyphs">Total of 34 communities</text>
<use href="#base" transform="translate(441 191.6)"/>
<path d="M441 191.6L447.24 191.27A6.25 6.25 0 0 0 446.57 188.76Z" fill="#e6204e" class="sg"/>
<path d="M447.24 191.27L453.48 190.95A12.5 12.5 0 0 0 452.14 185.93L446.57 188.76A6.25 6.25 0 0 1 447.24 191.27Z" fill="#e6204e" class="sg"/>
<path d="M441 191.6L446.24 188.2A6.25 6.25 0 0 0 444.4 186.36Z" fill="#4cbb52" class="sg"/>
<path d="M446.24 188.2L451.48 184.79A12.5 12.5 0 0 0 447.81 181.12L444.4 186.36A6.25 6.25 0 0 1 446.24 188.2Z" fill="#4cbb52" class="sg"/>
<path d="M441 191.6L443.84 186.03A6.25 6.25 0 0 0 441.33 185.36Z" fill="#efe53a" class="sg"/>
<path d="M443.84 186.03L446.67 180.46A12.5 12.5 0 0 0 441.65 179.12L441.33 185.36A6.25 6.25 0 0 1 443.84 186.03Z" fill="#efe53a" class="sg"/>
<path d="M441 191.6L440.67 185.36A6.25 6.25 0 0 0 438.16 186.03Z" fill="#4a62dc" class="sg"/>
<path d="M440.67 185.36L440.35 179.12A12.5 12.5 0 0 0 435.33 180.46L438.16 186.03A6.25 6.25 0 0 1 440.67 185.36Z" fill="#4a62dc" class="sg"/>
<path d="M440.35 179.12L440.02 172.88A18.75 18.75 0 0 0 432.49 174.89L435.33 180.46A12.5 12.5 0 0 1 440.35 179.12Z" fill="#4a62dc" class="sg"/>
<path d="M440.02 172.88L439.69 166.63A25 25 0 0 0 429.65 169.32L432.49 174.89A18.75 18.75 0 0 1 440.02 172.88Z" fill="#4a62dc" class="sg"/>
<path d="M439.69 166.63L439.36 160.39A31.25 31.25 0 0 0 426.81 163.76L429.65 169.32A25 25 0 0 1 439.69 166.63Z" fill="#4a62dc" class="sg"/>
<path d="M441 191.6L437.6 186.36A6.25 6.25 0 0 0 435.76 188.2Z" fill="#ee7c36" class="sg"/>
<path d="M437.6 186.36L434.19 181.12A12.5 12.5 0 0 0 430.52 184.79L435.76 188.2A6.25 6.25 0 0 1 437.6 186.36Z" fill="#ee7c36" class="sg"/>
<path d="M441 191.6L435.43 188.76A6.25 6.25 0 0 0 434.76 191.27Z" fill="#9535c6" class="sg"/>
<path d="M435.43 188.76L429.86 185.93A12.5 12.5 0 0 0 428.52 190.95L434.76 191.27A6.25 6.25 0 0 1 435.43 188.76Z" fill="#9535c6" class="sg"/>
<path d="M429.86 185.93L424.29 183.09A18.75 18.75 0 0 0 422.28 190.62L428.52 190.95A12.5 12.5 0 0 1 429.86 185.93Z" fill="#9535c6" class="sg"/>
<path d="M424.29 183.09L418.72 180.25A25 25 0 0 0 416.03 190.29L422.28 190.62A18.75 18.75 0 0 1 424.29 183.09Z" fill="#9535c6" class="sg"/>
<path d="M441 191.6L434.76 191.93A6.25 6.25 0 0 0 435.43 194.44Z" fill="#68e6f0" class="sg"/>
<path d="M434.76 191.93L428.52 192.25A12.5 12.5 0 0 0 429.86 197.27L435.43 194.44A6.25 6.25 0 0 1 434.76 191.93Z" fill="#68e6f0" class="sg"/>
<path d="M441 191.6L435.76 195A6.25 6.25 0 0 0 437.6 196.84Z" fill="#f240f0" class="sg"/>
<path d="M435.76 195L430.52 198.41A12.5 12.5 0 0 0 434.19 202.08L437.6 196.84A6.25 6.25 0 0 1 435.76 195Z" fill="#f240f0" class="sg"/>
<path d="M441 191.6L438.16 197.17A6.25 6.25 0 0 0 440.67 197.84Z" fill="#c0f24c" class="sg"/>
<path d="M438.16 197.17L435.33 202.74A12.5 12.5 0 0 0 440.35 204.08L440.67 197.84A6.25 6.25 0 0 1 438.16 197.17Z" fill="#c0f24c" class="sg"/>
<path d="M441 191.6L441.33 197.84A6.25 6.25 0 0 0 443.84 197.17Z" fill="#f2b8d8" class="sg"/>
<path d="M441.33 197.84L441.65 204.08A12.5 12.5 0 0 0 446.67 202.74L443.84 197.17A6.25 6.25 0 0 1 441.33 197.84Z" fill="#f2b8d8" class="sg"/>
<path d="M441.65 204.08L441.98 210.32A18.75 18.75 0 0 0 449.51 208.31L446.67 202.74A12.5 12.5 0 0 1 441.65 204.08Z" fill="#f2b8d8" class="sg"/>
<path d="M441 191.6L444.4 196.84A6.25 6.25 0 0 0 446.24 195Z" fill="#41937c" class="sg"/>
<path d="M444.4 196.84L447.81 202.08A12.5 12.5 0 0 0 451.48 198.41L446.24 195A6.25 6.25 0 0 1 444.4 196.84Z" fill="#41937c" class="sg"/>
<path d="M441 191.6L446.57 194.44A6.25 6.25 0 0 0 447.24 191.93Z" fill="#dbc4fe" class="sg"/>
<path d="M446.57 194.44L452.14 197.27A12.5 12.5 0 0 0 453.48 192.25L447.24 191.93A6.25 6.25 0 0 1 446.57 194.44Z" fill="#dbc4fe" class="sg"/>
<path d="M452.14 197.27L457.71 200.11A18.75 18.75 0 0 0 459.72 192.58L453.48 192.25A12.5 12.5 0 0 1 452.14 197.27Z" fill="#dbc4fe" class="sg"/>
<path d="M457.71 200.11L463.28 202.95A25 25 0 0 0 465.97 192.91L459.72 192.58A18.75 18.75 0 0 1 457.71 200.11Z" fill="#dbc4fe" class="sg"/>
<g class="lb"><text x="444.57" y="191.44" class="l1">1</text><text x="450.06" y="190.07">2</text><text x="443.62" y="189.78" class="l1">1</text><text x="447.63" y="185.87">2</text><text x="441.96" y="188.83" class="l1">1</text><text x="443.43" y="183.44">2</text><text x="440.04" y="188.83" class="l1">1</text><text x="438.57" y="183.44">2</text><text x="436.96" y="177.41">3</text><text x="435.34" y="171.37">4</text><text x="433.72" y="165.33">5</text><text x="438.38" y="189.78" class="l1">1</text><text x="434.37" y="185.87">2</text><text x="437.43" y="191.44" class="l1">1</text><text x="431.94" y="190.07">2</text><text x="425.91" y="188.46">3</text><text x="419.87" y="186.84">4</text><text x="437.43" y="193.36" class="l1">1</text><text x="431.94" y="194.93">2</text><text x="438.38" y="195.02" class="l1">1</text><text x="434.37" y="199.13">2</text><text x="440.04" y="195.97" class="l1">1</text><text x="438.57" y="201.56">2</text><text x="441.96" y="195.97" class="l1">1</text><text x="443.43" y="201.56">2</text><text x="445.04" y="207.59">3</text><text x="443.62" y="195.02" class="l1">1</text><text x="447.63" y="199.13">2</text><text x="444.57" y="193.36" class="l1">1</text><text x="450.06" y="194.93">2</text><text x="456.09" y="196.54">3</text><text x="462.13" y="198.16">4</text></g>
<use href="#dv1" transform="translate(441 191.6)"/>
<use href="#lab" transform="translate(441 191.6)"/>
<text x="441" y="142.3" class="yr">2014</text>
<text x="440.5" y="245.3" class="tot" textLength="57.6" lengthAdjust="spacingAndGlyphs">Total of 32 communities</text>
<use href="#base" transform="translate(539.5 191.6)"/>
<path d="M539.5 191.6L545.74 191.27A6.25 6.25 0 0 0 545.07 188.76Z" fill="#e6204e" class="sg"/>
<path d="M545.74 191.27L551.98 190.95A12.5 12.5 0 0 0 550.64 185.93L545.07 188.76A6.25 6.25 0 0 1 545.74 191.27Z" fill="#e6204e" class="sg"/>
<path d="M539.5 191.6L544.74 188.2A6.25 6.25 0 0 0 542.9 186.36Z" fill="#4cbb52" class="sg"/>
<path d="M544.74 188.2L549.98 184.79A12.5 12.5 0 0 0 546.31 181.12L542.9 186.36A6.25 6.25 0 0 1 544.74 188.2Z" fill="#4cbb52" class="sg"/>
<path d="M539.5 191.6L542.34 186.03A6.25 6.25 0 0 0 539.83 185.36Z" fill="#efe53a" class="sg"/>
<path d="M542.34 186.03L545.17 180.46A12.5 12.5 0 0 0 540.15 179.12L539.83 185.36A6.25 6.25 0 0 1 542.34 186.03Z" fill="#efe53a" class="sg"/>
<path d="M539.5 191.6L539.17 185.36A6.25 6.25 0 0 0 536.66 186.03Z" fill="#4a62dc" class="sg"/>
<path d="M539.17 185.36L538.85 179.12A12.5 12.5 0 0 0 533.83 180.46L536.66 186.03A6.25 6.25 0 0 1 539.17 185.36Z" fill="#4a62dc" class="sg"/>
<path d="M538.85 179.12L538.52 172.88A18.75 18.75 0 0 0 530.99 174.89L533.83 180.46A12.5 12.5 0 0 1 538.85 179.12Z" fill="#4a62dc" class="sg"/>
<path d="M538.52 172.88L538.19 166.63A25 25 0 0 0 528.15 169.32L530.99 174.89A18.75 18.75 0 0 1 538.52 172.88Z" fill="#4a62dc" class="sg"/>
<path d="M538.19 166.63L537.86 160.39A31.25 31.25 0 0 0 525.31 163.76L528.15 169.32A25 25 0 0 1 538.19 166.63Z" fill="#4a62dc" class="sg"/>
<path d="M539.5 191.6L536.1 186.36A6.25 6.25 0 0 0 534.26 188.2Z" fill="#ee7c36" class="sg"/>
<path d="M536.1 186.36L532.69 181.12A12.5 12.5 0 0 0 529.02 184.79L534.26 188.2A6.25 6.25 0 0 1 536.1 186.36Z" fill="#ee7c36" class="sg"/>
<path d="M539.5 191.6L533.93 188.76A6.25 6.25 0 0 0 533.26 191.27Z" fill="#9535c6" class="sg"/>
<path d="M533.93 188.76L528.36 185.93A12.5 12.5 0 0 0 527.02 190.95L533.26 191.27A6.25 6.25 0 0 1 533.93 188.76Z" fill="#9535c6" class="sg"/>
<path d="M528.36 185.93L522.79 183.09A18.75 18.75 0 0 0 520.78 190.62L527.02 190.95A12.5 12.5 0 0 1 528.36 185.93Z" fill="#9535c6" class="sg"/>
<path d="M522.79 183.09L517.22 180.25A25 25 0 0 0 514.53 190.29L520.78 190.62A18.75 18.75 0 0 1 522.79 183.09Z" fill="#9535c6" class="sg"/>
<path d="M539.5 191.6L533.26 191.93A6.25 6.25 0 0 0 533.93 194.44Z" fill="#68e6f0" class="sg"/>
<path d="M533.26 191.93L527.02 192.25A12.5 12.5 0 0 0 528.36 197.27L533.93 194.44A6.25 6.25 0 0 1 533.26 191.93Z" fill="#68e6f0" class="sg"/>
<path d="M539.5 191.6L534.26 195A6.25 6.25 0 0 0 536.1 196.84Z" fill="#f240f0" class="sg"/>
<path d="M534.26 195L529.02 198.41A12.5 12.5 0 0 0 532.69 202.08L536.1 196.84A6.25 6.25 0 0 1 534.26 195Z" fill="#f240f0" class="sg"/>
<path d="M539.5 191.6L536.66 197.17A6.25 6.25 0 0 0 539.17 197.84Z" fill="#c0f24c" class="sg"/>
<path d="M536.66 197.17L533.83 202.74A12.5 12.5 0 0 0 538.85 204.08L539.17 197.84A6.25 6.25 0 0 1 536.66 197.17Z" fill="#c0f24c" class="sg"/>
<path d="M539.5 191.6L539.83 197.84A6.25 6.25 0 0 0 542.34 197.17Z" fill="#f2b8d8" class="sg"/>
<path d="M539.83 197.84L540.15 204.08A12.5 12.5 0 0 0 545.17 202.74L542.34 197.17A6.25 6.25 0 0 1 539.83 197.84Z" fill="#f2b8d8" class="sg"/>
<path d="M540.15 204.08L540.48 210.32A18.75 18.75 0 0 0 548.01 208.31L545.17 202.74A12.5 12.5 0 0 1 540.15 204.08Z" fill="#f2b8d8" class="sg"/>
<path d="M539.5 191.6L542.9 196.84A6.25 6.25 0 0 0 544.74 195Z" fill="#41937c" class="sg"/>
<path d="M542.9 196.84L546.31 202.08A12.5 12.5 0 0 0 549.98 198.41L544.74 195A6.25 6.25 0 0 1 542.9 196.84Z" fill="#41937c" class="sg"/>
<path d="M539.5 191.6L545.07 194.44A6.25 6.25 0 0 0 545.74 191.93Z" fill="#dbc4fe" class="sg"/>
<path d="M545.07 194.44L550.64 197.27A12.5 12.5 0 0 0 551.98 192.25L545.74 191.93A6.25 6.25 0 0 1 545.07 194.44Z" fill="#dbc4fe" class="sg"/>
<path d="M550.64 197.27L556.21 200.11A18.75 18.75 0 0 0 558.22 192.58L551.98 192.25A12.5 12.5 0 0 1 550.64 197.27Z" fill="#dbc4fe" class="sg"/>
<path d="M556.21 200.11L561.78 202.95A25 25 0 0 0 564.47 192.91L558.22 192.58A18.75 18.75 0 0 1 556.21 200.11Z" fill="#dbc4fe" class="sg"/>
<g class="lb"><text x="543.07" y="191.44" class="l1">1</text><text x="548.56" y="190.07">2</text><text x="542.12" y="189.78" class="l1">1</text><text x="546.13" y="185.87">2</text><text x="540.46" y="188.83" class="l1">1</text><text x="541.93" y="183.44">2</text><text x="538.54" y="188.83" class="l1">1</text><text x="537.07" y="183.44">2</text><text x="535.46" y="177.41">3</text><text x="533.84" y="171.37">4</text><text x="532.22" y="165.33">5</text><text x="536.88" y="189.78" class="l1">1</text><text x="532.87" y="185.87">2</text><text x="535.93" y="191.44" class="l1">1</text><text x="530.44" y="190.07">2</text><text x="524.41" y="188.46">3</text><text x="518.37" y="186.84">4</text><text x="535.93" y="193.36" class="l1">1</text><text x="530.44" y="194.93">2</text><text x="536.88" y="195.02" class="l1">1</text><text x="532.87" y="199.13">2</text><text x="538.54" y="195.97" class="l1">1</text><text x="537.07" y="201.56">2</text><text x="540.46" y="195.97" class="l1">1</text><text x="541.93" y="201.56">2</text><text x="543.54" y="207.59">3</text><text x="542.12" y="195.02" class="l1">1</text><text x="546.13" y="199.13">2</text><text x="543.07" y="193.36" class="l1">1</text><text x="548.56" y="194.93">2</text><text x="554.59" y="196.54">3</text><text x="560.63" y="198.16">4</text></g>
<use href="#dv1" transform="translate(539.5 191.6)"/>
<use href="#lab" transform="translate(539.5 191.6)"/>
<text x="539.5" y="142.3" class="yr">2015</text>
<text x="539.3" y="245.3" class="tot" textLength="57.6" lengthAdjust="spacingAndGlyphs">Total of 32 communities</text>
<use href="#base" transform="translate(638 191.6)"/>
<path d="M638 191.6L644.24 191.27A6.25 6.25 0 0 0 643.57 188.76Z" fill="#e6204e" class="sg"/>
<path d="M644.24 191.27L650.48 190.95A12.5 12.5 0 0 0 649.14 185.93L643.57 188.76A6.25 6.25 0 0 1 644.24 191.27Z" fill="#e6204e" class="sg"/>
<path d="M638 191.6L643.24 188.2A6.25 6.25 0 0 0 641.4 186.36Z" fill="#4cbb52" class="sg"/>
<path d="M643.24 188.2L648.48 184.79A12.5 12.5 0 0 0 644.81 181.12L641.4 186.36A6.25 6.25 0 0 1 643.24 188.2Z" fill="#4cbb52" class="sg"/>
<path d="M638 191.6L640.84 186.03A6.25 6.25 0 0 0 638.33 185.36Z" fill="#efe53a" class="sg"/>
<path d="M640.84 186.03L643.67 180.46A12.5 12.5 0 0 0 638.65 179.12L638.33 185.36A6.25 6.25 0 0 1 640.84 186.03Z" fill="#efe53a" class="sg"/>
<path d="M638 191.6L637.67 185.36A6.25 6.25 0 0 0 635.16 186.03Z" fill="#4a62dc" class="sg"/>
<path d="M637.67 185.36L637.35 179.12A12.5 12.5 0 0 0 632.33 180.46L635.16 186.03A6.25 6.25 0 0 1 637.67 185.36Z" fill="#4a62dc" class="sg"/>
<path d="M637.35 179.12L637.02 172.88A18.75 18.75 0 0 0 629.49 174.89L632.33 180.46A12.5 12.5 0 0 1 637.35 179.12Z" fill="#4a62dc" class="sg"/>
<path d="M637.02 172.88L636.69 166.63A25 25 0 0 0 626.65 169.32L629.49 174.89A18.75 18.75 0 0 1 637.02 172.88Z" fill="#4a62dc" class="sg"/>
<path d="M636.69 166.63L636.36 160.39A31.25 31.25 0 0 0 623.81 163.76L626.65 169.32A25 25 0 0 1 636.69 166.63Z" fill="#4a62dc" class="sg"/>
<path d="M638 191.6L634.6 186.36A6.25 6.25 0 0 0 632.76 188.2Z" fill="#ee7c36" class="sg"/>
<path d="M634.6 186.36L631.19 181.12A12.5 12.5 0 0 0 627.52 184.79L632.76 188.2A6.25 6.25 0 0 1 634.6 186.36Z" fill="#ee7c36" class="sg"/>
<path d="M638 191.6L632.43 188.76A6.25 6.25 0 0 0 631.76 191.27Z" fill="#9535c6" class="sg"/>
<path d="M632.43 188.76L626.86 185.93A12.5 12.5 0 0 0 625.52 190.95L631.76 191.27A6.25 6.25 0 0 1 632.43 188.76Z" fill="#9535c6" class="sg"/>
<path d="M626.86 185.93L621.29 183.09A18.75 18.75 0 0 0 619.28 190.62L625.52 190.95A12.5 12.5 0 0 1 626.86 185.93Z" fill="#9535c6" class="sg"/>
<path d="M621.29 183.09L615.72 180.25A25 25 0 0 0 613.03 190.29L619.28 190.62A18.75 18.75 0 0 1 621.29 183.09Z" fill="#9535c6" class="sg"/>
<path d="M615.72 180.25L610.16 177.41A31.25 31.25 0 0 0 606.79 189.96L613.03 190.29A25 25 0 0 1 615.72 180.25Z" fill="#9535c6" class="sg"/>
<path d="M638 191.6L631.76 191.93A6.25 6.25 0 0 0 632.43 194.44Z" fill="#68e6f0" class="sg"/>
<path d="M631.76 191.93L625.52 192.25A12.5 12.5 0 0 0 626.86 197.27L632.43 194.44A6.25 6.25 0 0 1 631.76 191.93Z" fill="#68e6f0" class="sg"/>
<path d="M625.52 192.25L619.28 192.58A18.75 18.75 0 0 0 621.29 200.11L626.86 197.27A12.5 12.5 0 0 1 625.52 192.25Z" fill="#68e6f0" class="sg"/>
<path d="M638 191.6L632.76 195A6.25 6.25 0 0 0 634.6 196.84Z" fill="#f240f0" class="sg"/>
<path d="M632.76 195L627.52 198.41A12.5 12.5 0 0 0 631.19 202.08L634.6 196.84A6.25 6.25 0 0 1 632.76 195Z" fill="#f240f0" class="sg"/>
<path d="M638 191.6L635.16 197.17A6.25 6.25 0 0 0 637.67 197.84Z" fill="#c0f24c" class="sg"/>
<path d="M635.16 197.17L632.33 202.74A12.5 12.5 0 0 0 637.35 204.08L637.67 197.84A6.25 6.25 0 0 1 635.16 197.17Z" fill="#c0f24c" class="sg"/>
<path d="M638 191.6L638.33 197.84A6.25 6.25 0 0 0 640.84 197.17Z" fill="#f2b8d8" class="sg"/>
<path d="M638.33 197.84L638.65 204.08A12.5 12.5 0 0 0 643.67 202.74L640.84 197.17A6.25 6.25 0 0 1 638.33 197.84Z" fill="#f2b8d8" class="sg"/>
<path d="M638.65 204.08L638.98 210.32A18.75 18.75 0 0 0 646.51 208.31L643.67 202.74A12.5 12.5 0 0 1 638.65 204.08Z" fill="#f2b8d8" class="sg"/>
<path d="M638 191.6L641.4 196.84A6.25 6.25 0 0 0 643.24 195Z" fill="#41937c" class="sg"/>
<path d="M641.4 196.84L644.81 202.08A12.5 12.5 0 0 0 648.48 198.41L643.24 195A6.25 6.25 0 0 1 641.4 196.84Z" fill="#41937c" class="sg"/>
<path d="M638 191.6L643.57 194.44A6.25 6.25 0 0 0 644.24 191.93Z" fill="#dbc4fe" class="sg"/>
<path d="M643.57 194.44L649.14 197.27A12.5 12.5 0 0 0 650.48 192.25L644.24 191.93A6.25 6.25 0 0 1 643.57 194.44Z" fill="#dbc4fe" class="sg"/>
<path d="M649.14 197.27L654.71 200.11A18.75 18.75 0 0 0 656.72 192.58L650.48 192.25A12.5 12.5 0 0 1 649.14 197.27Z" fill="#dbc4fe" class="sg"/>
<path d="M654.71 200.11L660.28 202.95A25 25 0 0 0 662.97 192.91L656.72 192.58A18.75 18.75 0 0 1 654.71 200.11Z" fill="#dbc4fe" class="sg"/>
<g class="lb"><text x="641.57" y="191.44" class="l1">1</text><text x="647.06" y="190.07">2</text><text x="640.62" y="189.78" class="l1">1</text><text x="644.63" y="185.87">2</text><text x="638.96" y="188.83" class="l1">1</text><text x="640.43" y="183.44">2</text><text x="637.04" y="188.83" class="l1">1</text><text x="635.57" y="183.44">2</text><text x="633.96" y="177.41">3</text><text x="632.34" y="171.37">4</text><text x="630.72" y="165.33">5</text><text x="635.38" y="189.78" class="l1">1</text><text x="631.37" y="185.87">2</text><text x="634.43" y="191.44" class="l1">1</text><text x="628.94" y="190.07">2</text><text x="622.91" y="188.46">3</text><text x="616.87" y="186.84">4</text><text x="610.83" y="185.22">5</text><text x="634.43" y="193.36" class="l1">1</text><text x="628.94" y="194.93">2</text><text x="622.91" y="196.54">3</text><text x="635.38" y="195.02" class="l1">1</text><text x="631.37" y="199.13">2</text><text x="637.04" y="195.97" class="l1">1</text><text x="635.57" y="201.56">2</text><text x="638.96" y="195.97" class="l1">1</text><text x="640.43" y="201.56">2</text><text x="642.04" y="207.59">3</text><text x="640.62" y="195.02" class="l1">1</text><text x="644.63" y="199.13">2</text><text x="641.57" y="193.36" class="l1">1</text><text x="647.06" y="194.93">2</text><text x="653.09" y="196.54">3</text><text x="659.13" y="198.16">4</text></g>
<use href="#dv6" transform="translate(638 191.6)"/>
<use href="#lab" transform="translate(638 191.6)"/>
<text x="638" y="142.3" class="yr">2016</text>
<text x="638.1" y="245.3" class="tot" textLength="57.6" lengthAdjust="spacingAndGlyphs">Total of 34 communities</text>
<use href="#base" transform="translate(47 305.2)"/>
<path d="M47 305.2L53.24 304.87A6.25 6.25 0 0 0 52.57 302.36Z" fill="#e6204e" class="sg"/>
<path d="M53.24 304.87L59.48 304.55A12.5 12.5 0 0 0 58.14 299.53L52.57 302.36A6.25 6.25 0 0 1 53.24 304.87Z" fill="#e6204e" class="sg"/>
<path d="M47 305.2L52.24 301.8A6.25 6.25 0 0 0 50.4 299.96Z" fill="#4cbb52" class="sg"/>
<path d="M52.24 301.8L57.48 298.39A12.5 12.5 0 0 0 53.81 294.72L50.4 299.96A6.25 6.25 0 0 1 52.24 301.8Z" fill="#4cbb52" class="sg"/>
<path d="M47 305.2L49.84 299.63A6.25 6.25 0 0 0 47.33 298.96Z" fill="#efe53a" class="sg"/>
<path d="M49.84 299.63L52.67 294.06A12.5 12.5 0 0 0 47.65 292.72L47.33 298.96A6.25 6.25 0 0 1 49.84 299.63Z" fill="#efe53a" class="sg"/>
<path d="M47 305.2L46.67 298.96A6.25 6.25 0 0 0 44.16 299.63Z" fill="#4a62dc" class="sg"/>
<path d="M46.67 298.96L46.35 292.72A12.5 12.5 0 0 0 41.33 294.06L44.16 299.63A6.25 6.25 0 0 1 46.67 298.96Z" fill="#4a62dc" class="sg"/>
<path d="M46.35 292.72L46.02 286.48A18.75 18.75 0 0 0 38.49 288.49L41.33 294.06A12.5 12.5 0 0 1 46.35 292.72Z" fill="#4a62dc" class="sg"/>
<path d="M46.02 286.48L45.69 280.23A25 25 0 0 0 35.65 282.92L38.49 288.49A18.75 18.75 0 0 1 46.02 286.48Z" fill="#4a62dc" class="sg"/>
<path d="M45.69 280.23L45.36 273.99A31.25 31.25 0 0 0 32.81 277.36L35.65 282.92A25 25 0 0 1 45.69 280.23Z" fill="#4a62dc" class="sg"/>
<path d="M47 305.2L43.6 299.96A6.25 6.25 0 0 0 41.76 301.8Z" fill="#ee7c36" class="sg"/>
<path d="M43.6 299.96L40.19 294.72A12.5 12.5 0 0 0 36.52 298.39L41.76 301.8A6.25 6.25 0 0 1 43.6 299.96Z" fill="#ee7c36" class="sg"/>
<path d="M47 305.2L41.43 302.36A6.25 6.25 0 0 0 40.76 304.87Z" fill="#9535c6" class="sg"/>
<path d="M41.43 302.36L35.86 299.53A12.5 12.5 0 0 0 34.52 304.55L40.76 304.87A6.25 6.25 0 0 1 41.43 302.36Z" fill="#9535c6" class="sg"/>
<path d="M35.86 299.53L30.29 296.69A18.75 18.75 0 0 0 28.28 304.22L34.52 304.55A12.5 12.5 0 0 1 35.86 299.53Z" fill="#9535c6" class="sg"/>
<path d="M30.29 296.69L24.72 293.85A25 25 0 0 0 22.03 303.89L28.28 304.22A18.75 18.75 0 0 1 30.29 296.69Z" fill="#9535c6" class="sg"/>
<path d="M47 305.2L40.76 305.53A6.25 6.25 0 0 0 41.43 308.04Z" fill="#68e6f0" class="sg"/>
<path d="M40.76 305.53L34.52 305.85A12.5 12.5 0 0 0 35.86 310.87L41.43 308.04A6.25 6.25 0 0 1 40.76 305.53Z" fill="#68e6f0" class="sg"/>
<path d="M47 305.2L41.76 308.6A6.25 6.25 0 0 0 43.6 310.44Z" fill="#f240f0" class="sg"/>
<path d="M41.76 308.6L36.52 312.01A12.5 12.5 0 0 0 40.19 315.68L43.6 310.44A6.25 6.25 0 0 1 41.76 308.6Z" fill="#f240f0" class="sg"/>
<path d="M47 305.2L44.16 310.77A6.25 6.25 0 0 0 46.67 311.44Z" fill="#c0f24c" class="sg"/>
<path d="M44.16 310.77L41.33 316.34A12.5 12.5 0 0 0 46.35 317.68L46.67 311.44A6.25 6.25 0 0 1 44.16 310.77Z" fill="#c0f24c" class="sg"/>
<path d="M47 305.2L47.33 311.44A6.25 6.25 0 0 0 49.84 310.77Z" fill="#f2b8d8" class="sg"/>
<path d="M47.33 311.44L47.65 317.68A12.5 12.5 0 0 0 52.67 316.34L49.84 310.77A6.25 6.25 0 0 1 47.33 311.44Z" fill="#f2b8d8" class="sg"/>
<path d="M47.65 317.68L47.98 323.92A18.75 18.75 0 0 0 55.51 321.91L52.67 316.34A12.5 12.5 0 0 1 47.65 317.68Z" fill="#f2b8d8" class="sg"/>
<path d="M47 305.2L50.4 310.44A6.25 6.25 0 0 0 51.42 309.62Z" fill="#41937c" class="sg"/>
<path d="M50.4 310.44L53.81 315.68A12.5 12.5 0 0 0 55.84 314.04L51.42 309.62A6.25 6.25 0 0 1 50.4 310.44Z" fill="#41937c" class="sg"/>
<path d="M53.81 315.68L57.21 320.93A18.75 18.75 0 0 0 60.26 318.46L55.84 314.04A12.5 12.5 0 0 1 53.81 315.68Z" fill="#41937c" class="sg"/>
<path d="M47 305.2L51.42 309.62A6.25 6.25 0 0 0 52.24 308.6Z" fill="#41937c" class="sg"/>
<path d="M51.42 309.62L55.84 314.04A12.5 12.5 0 0 0 57.48 312.01L52.24 308.6A6.25 6.25 0 0 1 51.42 309.62Z" fill="#41937c" class="sg"/>
<path d="M55.84 314.04L60.26 318.46A18.75 18.75 0 0 0 62.73 315.41L57.48 312.01A12.5 12.5 0 0 1 55.84 314.04Z" fill="#41937c" class="sg"/>
<path d="M47 305.2L52.57 308.04A6.25 6.25 0 0 0 53.24 305.53Z" fill="#dbc4fe" class="sg"/>
<path d="M52.57 308.04L58.14 310.87A12.5 12.5 0 0 0 59.48 305.85L53.24 305.53A6.25 6.25 0 0 1 52.57 308.04Z" fill="#dbc4fe" class="sg"/>
<path d="M58.14 310.87L63.71 313.71A18.75 18.75 0 0 0 65.72 306.18L59.48 305.85A12.5 12.5 0 0 1 58.14 310.87Z" fill="#dbc4fe" class="sg"/>
<path d="M63.71 313.71L69.28 316.55A25 25 0 0 0 71.97 306.51L65.72 306.18A18.75 18.75 0 0 1 63.71 313.71Z" fill="#dbc4fe" class="sg"/>
<g class="lb"><text x="50.57" y="305.04" class="l1">1</text><text x="56.06" y="303.67">2</text><text x="49.62" y="303.38" class="l1">1</text><text x="53.63" y="299.47">2</text><text x="47.96" y="302.43" class="l1">1</text><text x="49.43" y="297.04">2</text><text x="46.04" y="302.43" class="l1">1</text><text x="44.57" y="297.04">2</text><text x="42.96" y="291.01">3</text><text x="41.34" y="284.97">4</text><text x="39.72" y="278.93">5</text><text x="44.38" y="303.38" class="l1">1</text><text x="40.37" y="299.47">2</text><text x="43.43" y="305.04" class="l1">1</text><text x="37.94" y="303.67">2</text><text x="31.91" y="302.06">3</text><text x="25.87" y="300.44">4</text><text x="43.43" y="306.96" class="l1">1</text><text x="37.94" y="308.53">2</text><text x="44.38" y="308.62" class="l1">1</text><text x="40.37" y="312.73">2</text><text x="46.04" y="309.57" class="l1">1</text><text x="44.57" y="315.16">2</text><text x="47.96" y="309.57" class="l1">1</text><text x="49.43" y="315.16">2</text><text x="51.04" y="321.19">3</text><text x="49.33" y="308.88" class="l1">1</text><text x="52.9" y="313.39">2</text><text x="56.83" y="318.24">3</text><text x="49.88" y="308.33" class="l1">1</text><text x="54.29" y="312">2</text><text x="59.14" y="315.93">3</text><text x="50.57" y="306.96" class="l1">1</text><text x="56.06" y="308.53">2</text><text x="62.09" y="310.14">3</text><text x="68.13" y="311.76">4</text></g>
<use href="#dv4" transform="translate(47 305.2)"/>
<use href="#lab" transform="translate(47 305.2)"/>
<text x="47" y="255.9" class="yr">2017</text>
<text x="45.3" y="358.9" class="tot" textLength="57.6" lengthAdjust="spacingAndGlyphs">Total of 36 communities</text>
<use href="#base" transform="translate(145.5 305.2)"/>
<path d="M145.5 305.2L151.74 304.87A6.25 6.25 0 0 0 151.07 302.36Z" fill="#e6204e" class="sg"/>
<path d="M151.74 304.87L157.98 304.55A12.5 12.5 0 0 0 156.64 299.53L151.07 302.36A6.25 6.25 0 0 1 151.74 304.87Z" fill="#e6204e" class="sg"/>
<path d="M145.5 305.2L150.74 301.8A6.25 6.25 0 0 0 148.9 299.96Z" fill="#4cbb52" class="sg"/>
<path d="M150.74 301.8L155.98 298.39A12.5 12.5 0 0 0 152.31 294.72L148.9 299.96A6.25 6.25 0 0 1 150.74 301.8Z" fill="#4cbb52" class="sg"/>
<path d="M145.5 305.2L148.34 299.63A6.25 6.25 0 0 0 145.83 298.96Z" fill="#efe53a" class="sg"/>
<path d="M148.34 299.63L151.17 294.06A12.5 12.5 0 0 0 146.15 292.72L145.83 298.96A6.25 6.25 0 0 1 148.34 299.63Z" fill="#efe53a" class="sg"/>
<path d="M145.5 305.2L145.17 298.96A6.25 6.25 0 0 0 142.66 299.63Z" fill="#4a62dc" class="sg"/>
<path d="M145.17 298.96L144.85 292.72A12.5 12.5 0 0 0 139.83 294.06L142.66 299.63A6.25 6.25 0 0 1 145.17 298.96Z" fill="#4a62dc" class="sg"/>
<path d="M144.85 292.72L144.52 286.48A18.75 18.75 0 0 0 136.99 288.49L139.83 294.06A12.5 12.5 0 0 1 144.85 292.72Z" fill="#4a62dc" class="sg"/>
<path d="M144.52 286.48L144.19 280.23A25 25 0 0 0 134.15 282.92L136.99 288.49A18.75 18.75 0 0 1 144.52 286.48Z" fill="#4a62dc" class="sg"/>
<path d="M144.19 280.23L143.86 273.99A31.25 31.25 0 0 0 131.31 277.36L134.15 282.92A25 25 0 0 1 144.19 280.23Z" fill="#4a62dc" class="sg"/>
<path d="M145.5 305.2L142.1 299.96A6.25 6.25 0 0 0 140.26 301.8Z" fill="#ee7c36" class="sg"/>
<path d="M142.1 299.96L138.69 294.72A12.5 12.5 0 0 0 135.02 298.39L140.26 301.8A6.25 6.25 0 0 1 142.1 299.96Z" fill="#ee7c36" class="sg"/>
<path d="M145.5 305.2L139.93 302.36A6.25 6.25 0 0 0 139.26 304.87Z" fill="#9535c6" class="sg"/>
<path d="M139.93 302.36L134.36 299.53A12.5 12.5 0 0 0 133.02 304.55L139.26 304.87A6.25 6.25 0 0 1 139.93 302.36Z" fill="#9535c6" class="sg"/>
<path d="M134.36 299.53L128.79 296.69A18.75 18.75 0 0 0 126.78 304.22L133.02 304.55A12.5 12.5 0 0 1 134.36 299.53Z" fill="#9535c6" class="sg"/>
<path d="M128.79 296.69L123.22 293.85A25 25 0 0 0 120.53 303.89L126.78 304.22A18.75 18.75 0 0 1 128.79 296.69Z" fill="#9535c6" class="sg"/>
<path d="M145.5 305.2L139.26 305.53A6.25 6.25 0 0 0 139.93 308.04Z" fill="#68e6f0" class="sg"/>
<path d="M139.26 305.53L133.02 305.85A12.5 12.5 0 0 0 134.36 310.87L139.93 308.04A6.25 6.25 0 0 1 139.26 305.53Z" fill="#68e6f0" class="sg"/>
<path d="M145.5 305.2L140.26 308.6A6.25 6.25 0 0 0 142.1 310.44Z" fill="#f240f0" class="sg"/>
<path d="M140.26 308.6L135.02 312.01A12.5 12.5 0 0 0 138.69 315.68L142.1 310.44A6.25 6.25 0 0 1 140.26 308.6Z" fill="#f240f0" class="sg"/>
<path d="M145.5 305.2L142.66 310.77A6.25 6.25 0 0 0 145.17 311.44Z" fill="#c0f24c" class="sg"/>
<path d="M142.66 310.77L139.83 316.34A12.5 12.5 0 0 0 144.85 317.68L145.17 311.44A6.25 6.25 0 0 1 142.66 310.77Z" fill="#c0f24c" class="sg"/>
<path d="M145.5 305.2L145.83 311.44A6.25 6.25 0 0 0 148.34 310.77Z" fill="#f2b8d8" class="sg"/>
<path d="M145.83 311.44L146.15 317.68A12.5 12.5 0 0 0 151.17 316.34L148.34 310.77A6.25 6.25 0 0 1 145.83 311.44Z" fill="#f2b8d8" class="sg"/>
<path d="M146.15 317.68L146.48 323.92A18.75 18.75 0 0 0 154.01 321.91L151.17 316.34A12.5 12.5 0 0 1 146.15 317.68Z" fill="#f2b8d8" class="sg"/>
<path d="M145.5 305.2L148.9 310.44A6.25 6.25 0 0 0 150.74 308.6Z" fill="#41937c" class="sg"/>
<path d="M148.9 310.44L152.31 315.68A12.5 12.5 0 0 0 155.98 312.01L150.74 308.6A6.25 6.25 0 0 1 148.9 310.44Z" fill="#41937c" class="sg"/>
<path d="M152.31 315.68L155.71 320.93A18.75 18.75 0 0 0 161.23 315.41L155.98 312.01A12.5 12.5 0 0 1 152.31 315.68Z" fill="#41937c" class="sg"/>
<path d="M155.71 320.93L159.12 326.17A25 25 0 0 0 166.47 318.82L161.23 315.41A18.75 18.75 0 0 1 155.71 320.93Z" fill="#41937c" class="sg"/>
<path d="M145.5 305.2L151.07 308.04A6.25 6.25 0 0 0 151.74 305.53Z" fill="#dbc4fe" class="sg"/>
<path d="M151.07 308.04L156.64 310.87A12.5 12.5 0 0 0 157.98 305.85L151.74 305.53A6.25 6.25 0 0 1 151.07 308.04Z" fill="#dbc4fe" class="sg"/>
<path d="M156.64 310.87L162.21 313.71A18.75 18.75 0 0 0 164.22 306.18L157.98 305.85A12.5 12.5 0 0 1 156.64 310.87Z" fill="#dbc4fe" class="sg"/>
<path d="M162.21 313.71L167.78 316.55A25 25 0 0 0 170.47 306.51L164.22 306.18A18.75 18.75 0 0 1 162.21 313.71Z" fill="#dbc4fe" class="sg"/>
<g class="lb"><text x="149.07" y="305.04" class="l1">1</text><text x="154.56" y="303.67">2</text><text x="148.12" y="303.38" class="l1">1</text><text x="152.13" y="299.47">2</text><text x="146.46" y="302.43" class="l1">1</text><text x="147.93" y="297.04">2</text><text x="144.54" y="302.43" class="l1">1</text><text x="143.07" y="297.04">2</text><text x="141.46" y="291.01">3</text><text x="139.84" y="284.97">4</text><text x="138.22" y="278.93">5</text><text x="142.88" y="303.38" class="l1">1</text><text x="138.87" y="299.47">2</text><text x="141.93" y="305.04" class="l1">1</text><text x="136.44" y="303.67">2</text><text x="130.41" y="302.06">3</text><text x="124.37" y="300.44">4</text><text x="141.93" y="306.96" class="l1">1</text><text x="136.44" y="308.53">2</text><text x="142.88" y="308.62" class="l1">1</text><text x="138.87" y="312.73">2</text><text x="144.54" y="309.57" class="l1">1</text><text x="143.07" y="315.16">2</text><text x="146.46" y="309.57" class="l1">1</text><text x="147.93" y="315.16">2</text><text x="149.54" y="321.19">3</text><text x="148.12" y="308.62" class="l1">1</text><text x="152.13" y="312.73">2</text><text x="156.55" y="317.15">3</text><text x="160.97" y="321.57">4</text><text x="149.07" y="306.96" class="l1">1</text><text x="154.56" y="308.53">2</text><text x="160.59" y="310.14">3</text><text x="166.63" y="311.76">4</text></g>
<use href="#dv4" transform="translate(145.5 305.2)"/>
<use href="#lab" transform="translate(145.5 305.2)"/>
<text x="145.5" y="255.9" class="yr">2018</text>
<text x="144.1" y="358.9" class="tot" textLength="57.6" lengthAdjust="spacingAndGlyphs">Total of 34 communities</text>
<use href="#base" transform="translate(244 305.2)"/>
<path d="M244 305.2L250.24 304.87A6.25 6.25 0 0 0 249.57 302.36Z" fill="#e6204e" class="sg"/>
<path d="M250.24 304.87L256.48 304.55A12.5 12.5 0 0 0 255.14 299.53L249.57 302.36A6.25 6.25 0 0 1 250.24 304.87Z" fill="#e6204e" class="sg"/>
<path d="M244 305.2L249.24 301.8A6.25 6.25 0 0 0 247.4 299.96Z" fill="#4cbb52" class="sg"/>
<path d="M249.24 301.8L254.48 298.39A12.5 12.5 0 0 0 250.81 294.72L247.4 299.96A6.25 6.25 0 0 1 249.24 301.8Z" fill="#4cbb52" class="sg"/>
<path d="M244 305.2L246.84 299.63A6.25 6.25 0 0 0 244.33 298.96Z" fill="#efe53a" class="sg"/>
<path d="M246.84 299.63L249.67 294.06A12.5 12.5 0 0 0 244.65 292.72L244.33 298.96A6.25 6.25 0 0 1 246.84 299.63Z" fill="#efe53a" class="sg"/>
<path d="M249.67 294.06L252.51 288.49A18.75 18.75 0 0 0 244.98 286.48L244.65 292.72A12.5 12.5 0 0 1 249.67 294.06Z" fill="#efe53a" class="sg"/>
<path d="M244 305.2L243.67 298.96A6.25 6.25 0 0 0 241.16 299.63Z" fill="#4a62dc" class="sg"/>
<path d="M243.67 298.96L243.35 292.72A12.5 12.5 0 0 0 238.33 294.06L241.16 299.63A6.25 6.25 0 0 1 243.67 298.96Z" fill="#4a62dc" class="sg"/>
<path d="M243.35 292.72L243.02 286.48A18.75 18.75 0 0 0 235.49 288.49L238.33 294.06A12.5 12.5 0 0 1 243.35 292.72Z" fill="#4a62dc" class="sg"/>
<path d="M243.02 286.48L242.69 280.23A25 25 0 0 0 232.65 282.92L235.49 288.49A18.75 18.75 0 0 1 243.02 286.48Z" fill="#4a62dc" class="sg"/>
<path d="M244 305.2L240.6 299.96A6.25 6.25 0 0 0 238.76 301.8Z" fill="#ee7c36" class="sg"/>
<path d="M240.6 299.96L237.19 294.72A12.5 12.5 0 0 0 233.52 298.39L238.76 301.8A6.25 6.25 0 0 1 240.6 299.96Z" fill="#ee7c36" class="sg"/>
<path d="M244 305.2L238.43 302.36A6.25 6.25 0 0 0 237.76 304.87Z" fill="#9535c6" class="sg"/>
<path d="M238.43 302.36L232.86 299.53A12.5 12.5 0 0 0 231.52 304.55L237.76 304.87A6.25 6.25 0 0 1 238.43 302.36Z" fill="#9535c6" class="sg"/>
<path d="M232.86 299.53L227.29 296.69A18.75 18.75 0 0 0 225.28 304.22L231.52 304.55A12.5 12.5 0 0 1 232.86 299.53Z" fill="#9535c6" class="sg"/>
<path d="M227.29 296.69L221.72 293.85A25 25 0 0 0 219.03 303.89L225.28 304.22A18.75 18.75 0 0 1 227.29 296.69Z" fill="#9535c6" class="sg"/>
<path d="M221.72 293.85L216.16 291.01A31.25 31.25 0 0 0 212.79 303.56L219.03 303.89A25 25 0 0 1 221.72 293.85Z" fill="#9535c6" class="sg"/>
<path d="M244 305.2L237.76 305.53A6.25 6.25 0 0 0 238.43 308.04Z" fill="#68e6f0" class="sg"/>
<path d="M237.76 305.53L231.52 305.85A12.5 12.5 0 0 0 232.86 310.87L238.43 308.04A6.25 6.25 0 0 1 237.76 305.53Z" fill="#68e6f0" class="sg"/>
<path d="M231.52 305.85L225.28 306.18A18.75 18.75 0 0 0 227.29 313.71L232.86 310.87A12.5 12.5 0 0 1 231.52 305.85Z" fill="#68e6f0" class="sg"/>
<path d="M244 305.2L238.76 308.6A6.25 6.25 0 0 0 240.6 310.44Z" fill="#f240f0" class="sg"/>
<path d="M238.76 308.6L233.52 312.01A12.5 12.5 0 0 0 237.19 315.68L240.6 310.44A6.25 6.25 0 0 1 238.76 308.6Z" fill="#f240f0" class="sg"/>
<path d="M244 305.2L241.16 310.77A6.25 6.25 0 0 0 243.67 311.44Z" fill="#c0f24c" class="sg"/>
<path d="M241.16 310.77L238.33 316.34A12.5 12.5 0 0 0 243.35 317.68L243.67 311.44A6.25 6.25 0 0 1 241.16 310.77Z" fill="#c0f24c" class="sg"/>
<path d="M244 305.2L244.33 311.44A6.25 6.25 0 0 0 246.84 310.77Z" fill="#f2b8d8" class="sg"/>
<path d="M244.33 311.44L244.65 317.68A12.5 12.5 0 0 0 249.67 316.34L246.84 310.77A6.25 6.25 0 0 1 244.33 311.44Z" fill="#f2b8d8" class="sg"/>
<path d="M244.65 317.68L244.98 323.92A18.75 18.75 0 0 0 252.51 321.91L249.67 316.34A12.5 12.5 0 0 1 244.65 317.68Z" fill="#f2b8d8" class="sg"/>
<path d="M244 305.2L247.4 310.44A6.25 6.25 0 0 0 249.24 308.6Z" fill="#41937c" class="sg"/>
<path d="M247.4 310.44L250.81 315.68A12.5 12.5 0 0 0 254.48 312.01L249.24 308.6A6.25 6.25 0 0 1 247.4 310.44Z" fill="#41937c" class="sg"/>
<path d="M250.81 315.68L254.21 320.93A18.75 18.75 0 0 0 259.73 315.41L254.48 312.01A12.5 12.5 0 0 1 250.81 315.68Z" fill="#41937c" class="sg"/>
<path d="M254.21 320.93L257.62 326.17A25 25 0 0 0 264.97 318.82L259.73 315.41A18.75 18.75 0 0 1 254.21 320.93Z" fill="#41937c" class="sg"/>
<path d="M244 305.2L249.57 308.04A6.25 6.25 0 0 0 250.24 305.53Z" fill="#dbc4fe" class="sg"/>
<path d="M249.57 308.04L255.14 310.87A12.5 12.5 0 0 0 256.48 305.85L250.24 305.53A6.25 6.25 0 0 1 249.57 308.04Z" fill="#dbc4fe" class="sg"/>
<path d="M255.14 310.87L260.71 313.71A18.75 18.75 0 0 0 262.72 306.18L256.48 305.85A12.5 12.5 0 0 1 255.14 310.87Z" fill="#dbc4fe" class="sg"/>
<g class="lb"><text x="247.57" y="305.04" class="l1">1</text><text x="253.06" y="303.67">2</text><text x="246.62" y="303.38" class="l1">1</text><text x="250.63" y="299.47">2</text><text x="244.96" y="302.43" class="l1">1</text><text x="246.43" y="297.04">2</text><text x="248.04" y="291.01">3</text><text x="243.04" y="302.43" class="l1">1</text><text x="241.57" y="297.04">2</text><text x="239.96" y="291.01">3</text><text x="238.34" y="284.97">4</text><text x="241.38" y="303.38" class="l1">1</text><text x="237.37" y="299.47">2</text><text x="240.43" y="305.04" class="l1">1</text><text x="234.94" y="303.67">2</text><text x="228.91" y="302.06">3</text><text x="222.87" y="300.44">4</text><text x="216.83" y="298.82">5</text><text x="240.43" y="306.96" class="l1">1</text><text x="234.94" y="308.53">2</text><text x="228.91" y="310.14">3</text><text x="241.38" y="308.62" class="l1">1</text><text x="237.37" y="312.73">2</text><text x="243.04" y="309.57" class="l1">1</text><text x="241.57" y="315.16">2</text><text x="244.96" y="309.57" class="l1">1</text><text x="246.43" y="315.16">2</text><text x="248.04" y="321.19">3</text><text x="246.62" y="308.62" class="l1">1</text><text x="250.63" y="312.73">2</text><text x="255.05" y="317.15">3</text><text x="259.47" y="321.57">4</text><text x="247.57" y="306.96" class="l1">1</text><text x="253.06" y="308.53">2</text><text x="259.09" y="310.14">3</text></g>
<use href="#dv7" transform="translate(244 305.2)"/>
<use href="#lab" transform="translate(244 305.2)"/>
<text x="244" y="255.9" class="yr">2019</text>
<text x="242.9" y="358.9" class="tot" textLength="57.6" lengthAdjust="spacingAndGlyphs">Total of 35 communities</text>
<use href="#base" transform="translate(342.5 305.2)"/>
<path d="M342.5 305.2L348.74 304.87A6.25 6.25 0 0 0 348.07 302.36Z" fill="#e6204e" class="sg"/>
<path d="M348.74 304.87L354.98 304.55A12.5 12.5 0 0 0 353.64 299.53L348.07 302.36A6.25 6.25 0 0 1 348.74 304.87Z" fill="#e6204e" class="sg"/>
<path d="M342.5 305.2L347.74 301.8A6.25 6.25 0 0 0 345.9 299.96Z" fill="#4cbb52" class="sg"/>
<path d="M347.74 301.8L352.98 298.39A12.5 12.5 0 0 0 349.31 294.72L345.9 299.96A6.25 6.25 0 0 1 347.74 301.8Z" fill="#4cbb52" class="sg"/>
<path d="M342.5 305.2L345.34 299.63A6.25 6.25 0 0 0 342.83 298.96Z" fill="#efe53a" class="sg"/>
<path d="M345.34 299.63L348.17 294.06A12.5 12.5 0 0 0 343.15 292.72L342.83 298.96A6.25 6.25 0 0 1 345.34 299.63Z" fill="#efe53a" class="sg"/>
<path d="M342.5 305.2L342.17 298.96A6.25 6.25 0 0 0 339.66 299.63Z" fill="#4a62dc" class="sg"/>
<path d="M342.17 298.96L341.85 292.72A12.5 12.5 0 0 0 336.83 294.06L339.66 299.63A6.25 6.25 0 0 1 342.17 298.96Z" fill="#4a62dc" class="sg"/>
<path d="M341.85 292.72L341.52 286.48A18.75 18.75 0 0 0 333.99 288.49L336.83 294.06A12.5 12.5 0 0 1 341.85 292.72Z" fill="#4a62dc" class="sg"/>
<path d="M341.52 286.48L341.19 280.23A25 25 0 0 0 331.15 282.92L333.99 288.49A18.75 18.75 0 0 1 341.52 286.48Z" fill="#4a62dc" class="sg"/>
<path d="M341.19 280.23L340.86 273.99A31.25 31.25 0 0 0 328.31 277.36L331.15 282.92A25 25 0 0 1 341.19 280.23Z" fill="#4a62dc" class="sg"/>
<path d="M342.5 305.2L339.1 299.96A6.25 6.25 0 0 0 337.26 301.8Z" fill="#ee7c36" class="sg"/>
<path d="M339.1 299.96L335.69 294.72A12.5 12.5 0 0 0 332.02 298.39L337.26 301.8A6.25 6.25 0 0 1 339.1 299.96Z" fill="#ee7c36" class="sg"/>
<path d="M342.5 305.2L336.93 302.36A6.25 6.25 0 0 0 336.26 304.87Z" fill="#9535c6" class="sg"/>
<path d="M336.93 302.36L331.36 299.53A12.5 12.5 0 0 0 330.02 304.55L336.26 304.87A6.25 6.25 0 0 1 336.93 302.36Z" fill="#9535c6" class="sg"/>
<path d="M331.36 299.53L325.79 296.69A18.75 18.75 0 0 0 323.78 304.22L330.02 304.55A12.5 12.5 0 0 1 331.36 299.53Z" fill="#9535c6" class="sg"/>
<path d="M325.79 296.69L320.22 293.85A25 25 0 0 0 317.53 303.89L323.78 304.22A18.75 18.75 0 0 1 325.79 296.69Z" fill="#9535c6" class="sg"/>
<path d="M342.5 305.2L336.26 305.53A6.25 6.25 0 0 0 336.93 308.04Z" fill="#68e6f0" class="sg"/>
<path d="M336.26 305.53L330.02 305.85A12.5 12.5 0 0 0 331.36 310.87L336.93 308.04A6.25 6.25 0 0 1 336.26 305.53Z" fill="#68e6f0" class="sg"/>
<path d="M342.5 305.2L337.26 308.6A6.25 6.25 0 0 0 339.1 310.44Z" fill="#f240f0" class="sg"/>
<path d="M337.26 308.6L332.02 312.01A12.5 12.5 0 0 0 335.69 315.68L339.1 310.44A6.25 6.25 0 0 1 337.26 308.6Z" fill="#f240f0" class="sg"/>
<path d="M342.5 305.2L339.66 310.77A6.25 6.25 0 0 0 342.17 311.44Z" fill="#c0f24c" class="sg"/>
<path d="M339.66 310.77L336.83 316.34A12.5 12.5 0 0 0 341.85 317.68L342.17 311.44A6.25 6.25 0 0 1 339.66 310.77Z" fill="#c0f24c" class="sg"/>
<path d="M342.5 305.2L342.83 311.44A6.25 6.25 0 0 0 345.34 310.77Z" fill="#f2b8d8" class="sg"/>
<path d="M342.83 311.44L343.15 317.68A12.5 12.5 0 0 0 348.17 316.34L345.34 310.77A6.25 6.25 0 0 1 342.83 311.44Z" fill="#f2b8d8" class="sg"/>
<path d="M343.15 317.68L343.48 323.92A18.75 18.75 0 0 0 351.01 321.91L348.17 316.34A12.5 12.5 0 0 1 343.15 317.68Z" fill="#f2b8d8" class="sg"/>
<path d="M342.5 305.2L345.9 310.44A6.25 6.25 0 0 0 347.74 308.6Z" fill="#41937c" class="sg"/>
<path d="M345.9 310.44L349.31 315.68A12.5 12.5 0 0 0 352.98 312.01L347.74 308.6A6.25 6.25 0 0 1 345.9 310.44Z" fill="#41937c" class="sg"/>
<path d="M342.5 305.2L348.07 308.04A6.25 6.25 0 0 0 348.74 305.53Z" fill="#dbc4fe" class="sg"/>
<path d="M348.07 308.04L353.64 310.87A12.5 12.5 0 0 0 354.98 305.85L348.74 305.53A6.25 6.25 0 0 1 348.07 308.04Z" fill="#dbc4fe" class="sg"/>
<path d="M353.64 310.87L359.21 313.71A18.75 18.75 0 0 0 361.22 306.18L354.98 305.85A12.5 12.5 0 0 1 353.64 310.87Z" fill="#dbc4fe" class="sg"/>
<path d="M359.21 313.71L364.78 316.55A25 25 0 0 0 367.47 306.51L361.22 306.18A18.75 18.75 0 0 1 359.21 313.71Z" fill="#dbc4fe" class="sg"/>
<g class="lb"><text x="346.07" y="305.04" class="l1">1</text><text x="351.56" y="303.67">2</text><text x="345.12" y="303.38" class="l1">1</text><text x="349.13" y="299.47">2</text><text x="343.46" y="302.43" class="l1">1</text><text x="344.93" y="297.04">2</text><text x="341.54" y="302.43" class="l1">1</text><text x="340.07" y="297.04">2</text><text x="338.46" y="291.01">3</text><text x="336.84" y="284.97">4</text><text x="335.22" y="278.93">5</text><text x="339.88" y="303.38" class="l1">1</text><text x="335.87" y="299.47">2</text><text x="338.93" y="305.04" class="l1">1</text><text x="333.44" y="303.67">2</text><text x="327.41" y="302.06">3</text><text x="321.37" y="300.44">4</text><text x="338.93" y="306.96" class="l1">1</text><text x="333.44" y="308.53">2</text><text x="339.88" y="308.62" class="l1">1</text><text x="335.87" y="312.73">2</text><text x="341.54" y="309.57" class="l1">1</text><text x="340.07" y="315.16">2</text><text x="343.46" y="309.57" class="l1">1</text><text x="344.93" y="315.16">2</text><text x="346.54" y="321.19">3</text><text x="345.12" y="308.62" class="l1">1</text><text x="349.13" y="312.73">2</text><text x="346.07" y="306.96" class="l1">1</text><text x="351.56" y="308.53">2</text><text x="357.59" y="310.14">3</text><text x="363.63" y="311.76">4</text></g>
<use href="#dv1" transform="translate(342.5 305.2)"/>
<use href="#lab" transform="translate(342.5 305.2)"/>
<text x="342.5" y="255.9" class="yr">2020</text>
<text x="341.7" y="358.9" class="tot" textLength="57.6" lengthAdjust="spacingAndGlyphs">Total of 32 communities</text>
<use href="#base" transform="translate(441 305.2)"/>
<path d="M441 305.2L447.24 304.87A6.25 6.25 0 0 0 446.57 302.36Z" fill="#e6204e" class="sg"/>
<path d="M447.24 304.87L453.48 304.55A12.5 12.5 0 0 0 452.14 299.53L446.57 302.36A6.25 6.25 0 0 1 447.24 304.87Z" fill="#e6204e" class="sg"/>
<path d="M441 305.2L446.24 301.8A6.25 6.25 0 0 0 445.42 300.78Z" fill="#4cbb52" class="sg"/>
<path d="M446.24 301.8L451.48 298.39A12.5 12.5 0 0 0 449.84 296.36L445.42 300.78A6.25 6.25 0 0 1 446.24 301.8Z" fill="#4cbb52" class="sg"/>
<path d="M451.48 298.39L456.73 294.99A18.75 18.75 0 0 0 454.26 291.94L449.84 296.36A12.5 12.5 0 0 1 451.48 298.39Z" fill="#4cbb52" class="sg"/>
<path d="M456.73 294.99L461.97 291.58A25 25 0 0 0 458.68 287.52L454.26 291.94A18.75 18.75 0 0 1 456.73 294.99Z" fill="#4cbb52" class="sg"/>
<path d="M441 305.2L445.42 300.78A6.25 6.25 0 0 0 444.4 299.96Z" fill="#4cbb52" class="sg"/>
<path d="M445.42 300.78L449.84 296.36A12.5 12.5 0 0 0 447.81 294.72L444.4 299.96A6.25 6.25 0 0 1 445.42 300.78Z" fill="#4cbb52" class="sg"/>
<path d="M449.84 296.36L454.26 291.94A18.75 18.75 0 0 0 451.21 289.47L447.81 294.72A12.5 12.5 0 0 1 449.84 296.36Z" fill="#4cbb52" class="sg"/>
<path d="M454.26 291.94L458.68 287.52A25 25 0 0 0 454.62 284.23L451.21 289.47A18.75 18.75 0 0 1 454.26 291.94Z" fill="#4cbb52" class="sg"/>
<path d="M441 305.2L443.84 299.63A6.25 6.25 0 0 0 441.33 298.96Z" fill="#efe53a" class="sg"/>
<path d="M443.84 299.63L446.67 294.06A12.5 12.5 0 0 0 441.65 292.72L441.33 298.96A6.25 6.25 0 0 1 443.84 299.63Z" fill="#efe53a" class="sg"/>
<path d="M441 305.2L440.67 298.96A6.25 6.25 0 0 0 438.16 299.63Z" fill="#4a62dc" class="sg"/>
<path d="M440.67 298.96L440.35 292.72A12.5 12.5 0 0 0 435.33 294.06L438.16 299.63A6.25 6.25 0 0 1 440.67 298.96Z" fill="#4a62dc" class="sg"/>
<path d="M440.35 292.72L440.02 286.48A18.75 18.75 0 0 0 432.49 288.49L435.33 294.06A12.5 12.5 0 0 1 440.35 292.72Z" fill="#4a62dc" class="sg"/>
<path d="M440.02 286.48L439.69 280.23A25 25 0 0 0 429.65 282.92L432.49 288.49A18.75 18.75 0 0 1 440.02 286.48Z" fill="#4a62dc" class="sg"/>
<path d="M439.69 280.23L439.36 273.99A31.25 31.25 0 0 0 426.81 277.36L429.65 282.92A25 25 0 0 1 439.69 280.23Z" fill="#4a62dc" class="sg"/>
<path d="M441 305.2L437.6 299.96A6.25 6.25 0 0 0 435.76 301.8Z" fill="#ee7c36" class="sg"/>
<path d="M437.6 299.96L434.19 294.72A12.5 12.5 0 0 0 430.52 298.39L435.76 301.8A6.25 6.25 0 0 1 437.6 299.96Z" fill="#ee7c36" class="sg"/>
<path d="M441 305.2L435.43 302.36A6.25 6.25 0 0 0 434.96 303.58Z" fill="#9535c6" class="sg"/>
<path d="M435.43 302.36L429.86 299.53A12.5 12.5 0 0 0 428.93 301.96L434.96 303.58A6.25 6.25 0 0 1 435.43 302.36Z" fill="#9535c6" class="sg"/>
<path d="M429.86 299.53L424.29 296.69A18.75 18.75 0 0 0 422.89 300.35L428.93 301.96A12.5 12.5 0 0 1 429.86 299.53Z" fill="#9535c6" class="sg"/>
<path d="M424.29 296.69L418.72 293.85A25 25 0 0 0 416.85 298.73L422.89 300.35A18.75 18.75 0 0 1 424.29 296.69Z" fill="#9535c6" class="sg"/>
<path d="M418.72 293.85L413.16 291.01A31.25 31.25 0 0 0 410.81 297.11L416.85 298.73A25 25 0 0 1 418.72 293.85Z" fill="#9535c6" class="sg"/>
<path d="M441 305.2L434.96 303.58A6.25 6.25 0 0 0 434.76 304.87Z" fill="#9535c6" class="sg"/>
<path d="M434.96 303.58L428.93 301.96A12.5 12.5 0 0 0 428.52 304.55L434.76 304.87A6.25 6.25 0 0 1 434.96 303.58Z" fill="#9535c6" class="sg"/>
<path d="M428.93 301.96L422.89 300.35A18.75 18.75 0 0 0 422.28 304.22L428.52 304.55A12.5 12.5 0 0 1 428.93 301.96Z" fill="#9535c6" class="sg"/>
<path d="M422.89 300.35L416.85 298.73A25 25 0 0 0 416.03 303.89L422.28 304.22A18.75 18.75 0 0 1 422.89 300.35Z" fill="#9535c6" class="sg"/>
<path d="M441 305.2L434.76 305.53A6.25 6.25 0 0 0 435.43 308.04Z" fill="#68e6f0" class="sg"/>
<path d="M434.76 305.53L428.52 305.85A12.5 12.5 0 0 0 429.86 310.87L435.43 308.04A6.25 6.25 0 0 1 434.76 305.53Z" fill="#68e6f0" class="sg"/>
<path d="M441 305.2L435.76 308.6A6.25 6.25 0 0 0 437.6 310.44Z" fill="#f240f0" class="sg"/>
<path d="M435.76 308.6L430.52 312.01A12.5 12.5 0 0 0 434.19 315.68L437.6 310.44A6.25 6.25 0 0 1 435.76 308.6Z" fill="#f240f0" class="sg"/>
<path d="M441 305.2L438.16 310.77A6.25 6.25 0 0 0 440.67 311.44Z" fill="#c0f24c" class="sg"/>
<path d="M438.16 310.77L435.33 316.34A12.5 12.5 0 0 0 440.35 317.68L440.67 311.44A6.25 6.25 0 0 1 438.16 310.77Z" fill="#c0f24c" class="sg"/>
<path d="M441 305.2L441.33 311.44A6.25 6.25 0 0 0 443.84 310.77Z" fill="#f2b8d8" class="sg"/>
<path d="M441.33 311.44L441.65 317.68A12.5 12.5 0 0 0 446.67 316.34L443.84 310.77A6.25 6.25 0 0 1 441.33 311.44Z" fill="#f2b8d8" class="sg"/>
<path d="M441.65 317.68L441.98 323.92A18.75 18.75 0 0 0 449.51 321.91L446.67 316.34A12.5 12.5 0 0 1 441.65 317.68Z" fill="#f2b8d8" class="sg"/>
<path d="M441 305.2L444.4 310.44A6.25 6.25 0 0 0 446.24 308.6Z" fill="#41937c" class="sg"/>
<path d="M444.4 310.44L447.81 315.68A12.5 12.5 0 0 0 451.48 312.01L446.24 308.6A6.25 6.25 0 0 1 444.4 310.44Z" fill="#41937c" class="sg"/>
<path d="M447.81 315.68L451.21 320.93A18.75 18.75 0 0 0 456.73 315.41L451.48 312.01A12.5 12.5 0 0 1 447.81 315.68Z" fill="#41937c" class="sg"/>
<path d="M451.21 320.93L454.62 326.17A25 25 0 0 0 461.97 318.82L456.73 315.41A18.75 18.75 0 0 1 451.21 320.93Z" fill="#41937c" class="sg"/>
<path d="M441 305.2L446.57 308.04A6.25 6.25 0 0 0 447.24 305.53Z" fill="#dbc4fe" class="sg"/>
<path d="M446.57 308.04L452.14 310.87A12.5 12.5 0 0 0 453.48 305.85L447.24 305.53A6.25 6.25 0 0 1 446.57 308.04Z" fill="#dbc4fe" class="sg"/>
<path d="M452.14 310.87L457.71 313.71A18.75 18.75 0 0 0 459.72 306.18L453.48 305.85A12.5 12.5 0 0 1 452.14 310.87Z" fill="#dbc4fe" class="sg"/>
<path d="M457.71 313.71L463.28 316.55A25 25 0 0 0 465.97 306.51L459.72 306.18A18.75 18.75 0 0 1 457.71 313.71Z" fill="#dbc4fe" class="sg"/>
<g class="lb"><text x="444.57" y="305.04" class="l1">1</text><text x="450.06" y="303.67">2</text><text x="443.88" y="303.67" class="l1">1</text><text x="448.29" y="300.2">2</text><text x="453.14" y="296.27">3</text><text x="458" y="292.33">4</text><text x="443.33" y="303.12" class="l1">1</text><text x="446.9" y="298.81">2</text><text x="450.83" y="293.96">3</text><text x="454.77" y="289.1">4</text><text x="441.96" y="302.43" class="l1">1</text><text x="443.43" y="297.04">2</text><text x="440.04" y="302.43" class="l1">1</text><text x="438.57" y="297.04">2</text><text x="436.96" y="291.01">3</text><text x="435.34" y="284.97">4</text><text x="433.72" y="278.93">5</text><text x="438.38" y="303.38" class="l1">1</text><text x="434.37" y="299.47">2</text><text x="437.55" y="304.67" class="l1">1</text><text x="432.25" y="302.74">2</text><text x="426.41" y="300.5">3</text><text x="420.58" y="298.26">4</text><text x="414.74" y="296.02">5</text><text x="437.35" y="305.42" class="l1">1</text><text x="431.74" y="304.63">2</text><text x="425.57" y="303.66">3</text><text x="419.39" y="302.68">4</text><text x="437.43" y="306.96" class="l1">1</text><text x="431.94" y="308.53">2</text><text x="438.38" y="308.62" class="l1">1</text><text x="434.37" y="312.73">2</text><text x="440.04" y="309.57" class="l1">1</text><text x="438.57" y="315.16">2</text><text x="441.96" y="309.57" class="l1">1</text><text x="443.43" y="315.16">2</text><text x="445.04" y="321.19">3</text><text x="443.62" y="308.62" class="l1">1</text><text x="447.63" y="312.73">2</text><text x="452.05" y="317.15">3</text><text x="456.47" y="321.57">4</text><text x="444.57" y="306.96" class="l1">1</text><text x="450.06" y="308.53">2</text><text x="456.09" y="310.14">3</text><text x="462.13" y="311.76">4</text></g>
<use href="#dv8" transform="translate(441 305.2)"/>
<use href="#lab" transform="translate(441 305.2)"/>
<text x="441" y="255.9" class="yr">2021</text>
<text x="440.5" y="358.9" class="tot" textLength="57.6" lengthAdjust="spacingAndGlyphs">Total of 45 communities</text>
<use href="#base" transform="translate(539.5 305.2)"/>
<path d="M539.5 305.2L545.74 304.87A6.25 6.25 0 0 0 545.07 302.36Z" fill="#e6204e" class="sg"/>
<path d="M545.74 304.87L551.98 304.55A12.5 12.5 0 0 0 550.64 299.53L545.07 302.36A6.25 6.25 0 0 1 545.74 304.87Z" fill="#e6204e" class="sg"/>
<path d="M539.5 305.2L544.74 301.8A6.25 6.25 0 0 0 543.92 300.78Z" fill="#4cbb52" class="sg"/>
<path d="M544.74 301.8L549.98 298.39A12.5 12.5 0 0 0 548.34 296.36L543.92 300.78A6.25 6.25 0 0 1 544.74 301.8Z" fill="#4cbb52" class="sg"/>
<path d="M549.98 298.39L555.23 294.99A18.75 18.75 0 0 0 552.76 291.94L548.34 296.36A12.5 12.5 0 0 1 549.98 298.39Z" fill="#4cbb52" class="sg"/>
<path d="M539.5 305.2L543.92 300.78A6.25 6.25 0 0 0 542.9 299.96Z" fill="#4cbb52" class="sg"/>
<path d="M543.92 300.78L548.34 296.36A12.5 12.5 0 0 0 546.31 294.72L542.9 299.96A6.25 6.25 0 0 1 543.92 300.78Z" fill="#4cbb52" class="sg"/>
<path d="M548.34 296.36L552.76 291.94A18.75 18.75 0 0 0 549.71 289.47L546.31 294.72A12.5 12.5 0 0 1 548.34 296.36Z" fill="#4cbb52" class="sg"/>
<path d="M539.5 305.2L542.34 299.63A6.25 6.25 0 0 0 539.83 298.96Z" fill="#efe53a" class="sg"/>
<path d="M542.34 299.63L545.17 294.06A12.5 12.5 0 0 0 540.15 292.72L539.83 298.96A6.25 6.25 0 0 1 542.34 299.63Z" fill="#efe53a" class="sg"/>
<path d="M539.5 305.2L539.17 298.96A6.25 6.25 0 0 0 536.66 299.63Z" fill="#4a62dc" class="sg"/>
<path d="M539.17 298.96L538.85 292.72A12.5 12.5 0 0 0 533.83 294.06L536.66 299.63A6.25 6.25 0 0 1 539.17 298.96Z" fill="#4a62dc" class="sg"/>
<path d="M538.85 292.72L538.52 286.48A18.75 18.75 0 0 0 530.99 288.49L533.83 294.06A12.5 12.5 0 0 1 538.85 292.72Z" fill="#4a62dc" class="sg"/>
<path d="M538.52 286.48L538.19 280.23A25 25 0 0 0 528.15 282.92L530.99 288.49A18.75 18.75 0 0 1 538.52 286.48Z" fill="#4a62dc" class="sg"/>
<path d="M538.19 280.23L537.86 273.99A31.25 31.25 0 0 0 525.31 277.36L528.15 282.92A25 25 0 0 1 538.19 280.23Z" fill="#4a62dc" class="sg"/>
<path d="M539.5 305.2L536.1 299.96A6.25 6.25 0 0 0 534.26 301.8Z" fill="#ee7c36" class="sg"/>
<path d="M536.1 299.96L532.69 294.72A12.5 12.5 0 0 0 529.02 298.39L534.26 301.8A6.25 6.25 0 0 1 536.1 299.96Z" fill="#ee7c36" class="sg"/>
<path d="M539.5 305.2L533.93 302.36A6.25 6.25 0 0 0 533.26 304.87Z" fill="#9535c6" class="sg"/>
<path d="M533.93 302.36L528.36 299.53A12.5 12.5 0 0 0 527.02 304.55L533.26 304.87A6.25 6.25 0 0 1 533.93 302.36Z" fill="#9535c6" class="sg"/>
<path d="M539.5 305.2L533.26 305.53A6.25 6.25 0 0 0 533.93 308.04Z" fill="#68e6f0" class="sg"/>
<path d="M533.26 305.53L527.02 305.85A12.5 12.5 0 0 0 528.36 310.87L533.93 308.04A6.25 6.25 0 0 1 533.26 305.53Z" fill="#68e6f0" class="sg"/>
<path d="M539.5 305.2L534.26 308.6A6.25 6.25 0 0 0 536.1 310.44Z" fill="#f240f0" class="sg"/>
<path d="M534.26 308.6L529.02 312.01A12.5 12.5 0 0 0 532.69 315.68L536.1 310.44A6.25 6.25 0 0 1 534.26 308.6Z" fill="#f240f0" class="sg"/>
<path d="M539.5 305.2L536.66 310.77A6.25 6.25 0 0 0 539.17 311.44Z" fill="#c0f24c" class="sg"/>
<path d="M536.66 310.77L533.83 316.34A12.5 12.5 0 0 0 538.85 317.68L539.17 311.44A6.25 6.25 0 0 1 536.66 310.77Z" fill="#c0f24c" class="sg"/>
<path d="M539.5 305.2L539.83 311.44A6.25 6.25 0 0 0 542.34 310.77Z" fill="#f2b8d8" class="sg"/>
<path d="M539.83 311.44L540.15 317.68A12.5 12.5 0 0 0 545.17 316.34L542.34 310.77A6.25 6.25 0 0 1 539.83 311.44Z" fill="#f2b8d8" class="sg"/>
<path d="M540.15 317.68L540.48 323.92A18.75 18.75 0 0 0 548.01 321.91L545.17 316.34A12.5 12.5 0 0 1 540.15 317.68Z" fill="#f2b8d8" class="sg"/>
<path d="M539.5 305.2L542.9 310.44A6.25 6.25 0 0 0 544.74 308.6Z" fill="#41937c" class="sg"/>
<path d="M542.9 310.44L546.31 315.68A12.5 12.5 0 0 0 549.98 312.01L544.74 308.6A6.25 6.25 0 0 1 542.9 310.44Z" fill="#41937c" class="sg"/>
<path d="M539.5 305.2L545.07 308.04A6.25 6.25 0 0 0 545.74 305.53Z" fill="#dbc4fe" class="sg"/>
<path d="M545.07 308.04L550.64 310.87A12.5 12.5 0 0 0 551.98 305.85L545.74 305.53A6.25 6.25 0 0 1 545.07 308.04Z" fill="#dbc4fe" class="sg"/>
<path d="M550.64 310.87L556.21 313.71A18.75 18.75 0 0 0 558.22 306.18L551.98 305.85A12.5 12.5 0 0 1 550.64 310.87Z" fill="#dbc4fe" class="sg"/>
<path d="M556.21 313.71L561.78 316.55A25 25 0 0 0 564.47 306.51L558.22 306.18A18.75 18.75 0 0 1 556.21 313.71Z" fill="#dbc4fe" class="sg"/>
<g class="lb"><text x="543.07" y="305.04" class="l1">1</text><text x="548.56" y="303.67">2</text><text x="542.38" y="303.67" class="l1">1</text><text x="546.79" y="300.2">2</text><text x="551.64" y="296.27">3</text><text x="541.83" y="303.12" class="l1">1</text><text x="545.4" y="298.81">2</text><text x="549.33" y="293.96">3</text><text x="540.46" y="302.43" class="l1">1</text><text x="541.93" y="297.04">2</text><text x="538.54" y="302.43" class="l1">1</text><text x="537.07" y="297.04">2</text><text x="535.46" y="291.01">3</text><text x="533.84" y="284.97">4</text><text x="532.22" y="278.93">5</text><text x="536.88" y="303.38" class="l1">1</text><text x="532.87" y="299.47">2</text><text x="535.93" y="305.04" class="l1">1</text><text x="530.44" y="303.67">2</text><text x="535.93" y="306.96" class="l1">1</text><text x="530.44" y="308.53">2</text><text x="536.88" y="308.62" class="l1">1</text><text x="532.87" y="312.73">2</text><text x="538.54" y="309.57" class="l1">1</text><text x="537.07" y="315.16">2</text><text x="540.46" y="309.57" class="l1">1</text><text x="541.93" y="315.16">2</text><text x="543.54" y="321.19">3</text><text x="542.12" y="308.62" class="l1">1</text><text x="546.13" y="312.73">2</text><text x="543.07" y="306.96" class="l1">1</text><text x="548.56" y="308.53">2</text><text x="554.59" y="310.14">3</text><text x="560.63" y="311.76">4</text></g>
<use href="#dv9" transform="translate(539.5 305.2)"/>
<use href="#lab" transform="translate(539.5 305.2)"/>
<text x="539.5" y="255.9" class="yr">2022</text>
<text x="539.3" y="358.9" class="tot" textLength="57.6" lengthAdjust="spacingAndGlyphs">Total of 34 communities</text>
<use href="#base" transform="translate(638 305.2)"/>
<path d="M638 305.2L644.24 304.87A6.25 6.25 0 0 0 643.57 302.36Z" fill="#e6204e" class="sg"/>
<path d="M644.24 304.87L650.48 304.55A12.5 12.5 0 0 0 649.14 299.53L643.57 302.36A6.25 6.25 0 0 1 644.24 304.87Z" fill="#e6204e" class="sg"/>
<path d="M638 305.2L643.24 301.8A6.25 6.25 0 0 0 641.4 299.96Z" fill="#4cbb52" class="sg"/>
<path d="M643.24 301.8L648.48 298.39A12.5 12.5 0 0 0 644.81 294.72L641.4 299.96A6.25 6.25 0 0 1 643.24 301.8Z" fill="#4cbb52" class="sg"/>
<path d="M638 305.2L640.84 299.63A6.25 6.25 0 0 0 638.33 298.96Z" fill="#efe53a" class="sg"/>
<path d="M640.84 299.63L643.67 294.06A12.5 12.5 0 0 0 638.65 292.72L638.33 298.96A6.25 6.25 0 0 1 640.84 299.63Z" fill="#efe53a" class="sg"/>
<path d="M638 305.2L637.67 298.96A6.25 6.25 0 0 0 635.16 299.63Z" fill="#4a62dc" class="sg"/>
<path d="M637.67 298.96L637.35 292.72A12.5 12.5 0 0 0 632.33 294.06L635.16 299.63A6.25 6.25 0 0 1 637.67 298.96Z" fill="#4a62dc" class="sg"/>
<path d="M637.35 292.72L637.02 286.48A18.75 18.75 0 0 0 629.49 288.49L632.33 294.06A12.5 12.5 0 0 1 637.35 292.72Z" fill="#4a62dc" class="sg"/>
<path d="M637.02 286.48L636.69 280.23A25 25 0 0 0 626.65 282.92L629.49 288.49A18.75 18.75 0 0 1 637.02 286.48Z" fill="#4a62dc" class="sg"/>
<path d="M636.69 280.23L636.36 273.99A31.25 31.25 0 0 0 623.81 277.36L626.65 282.92A25 25 0 0 1 636.69 280.23Z" fill="#4a62dc" class="sg"/>
<path d="M638 305.2L634.6 299.96A6.25 6.25 0 0 0 632.76 301.8Z" fill="#ee7c36" class="sg"/>
<path d="M634.6 299.96L631.19 294.72A12.5 12.5 0 0 0 627.52 298.39L632.76 301.8A6.25 6.25 0 0 1 634.6 299.96Z" fill="#ee7c36" class="sg"/>
<path d="M638 305.2L632.43 302.36A6.25 6.25 0 0 0 631.76 304.87Z" fill="#9535c6" class="sg"/>
<path d="M632.43 302.36L626.86 299.53A12.5 12.5 0 0 0 625.52 304.55L631.76 304.87A6.25 6.25 0 0 1 632.43 302.36Z" fill="#9535c6" class="sg"/>
<path d="M626.86 299.53L621.29 296.69A18.75 18.75 0 0 0 619.28 304.22L625.52 304.55A12.5 12.5 0 0 1 626.86 299.53Z" fill="#9535c6" class="sg"/>
<path d="M621.29 296.69L615.72 293.85A25 25 0 0 0 613.03 303.89L619.28 304.22A18.75 18.75 0 0 1 621.29 296.69Z" fill="#9535c6" class="sg"/>
<path d="M638 305.2L631.76 305.53A6.25 6.25 0 0 0 632.43 308.04Z" fill="#68e6f0" class="sg"/>
<path d="M631.76 305.53L625.52 305.85A12.5 12.5 0 0 0 626.86 310.87L632.43 308.04A6.25 6.25 0 0 1 631.76 305.53Z" fill="#68e6f0" class="sg"/>
<path d="M638 305.2L632.76 308.6A6.25 6.25 0 0 0 634.6 310.44Z" fill="#f240f0" class="sg"/>
<path d="M632.76 308.6L627.52 312.01A12.5 12.5 0 0 0 631.19 315.68L634.6 310.44A6.25 6.25 0 0 1 632.76 308.6Z" fill="#f240f0" class="sg"/>
<path d="M638 305.2L635.16 310.77A6.25 6.25 0 0 0 637.67 311.44Z" fill="#c0f24c" class="sg"/>
<path d="M635.16 310.77L632.33 316.34A12.5 12.5 0 0 0 637.35 317.68L637.67 311.44A6.25 6.25 0 0 1 635.16 310.77Z" fill="#c0f24c" class="sg"/>
<path d="M638 305.2L638.33 311.44A6.25 6.25 0 0 0 640.84 310.77Z" fill="#f2b8d8" class="sg"/>
<path d="M638.33 311.44L638.65 317.68A12.5 12.5 0 0 0 643.67 316.34L640.84 310.77A6.25 6.25 0 0 1 638.33 311.44Z" fill="#f2b8d8" class="sg"/>
<path d="M638.65 317.68L638.98 323.92A18.75 18.75 0 0 0 646.51 321.91L643.67 316.34A12.5 12.5 0 0 1 638.65 317.68Z" fill="#f2b8d8" class="sg"/>
<path d="M638 305.2L641.4 310.44A6.25 6.25 0 0 0 643.24 308.6Z" fill="#41937c" class="sg"/>
<path d="M641.4 310.44L644.81 315.68A12.5 12.5 0 0 0 648.48 312.01L643.24 308.6A6.25 6.25 0 0 1 641.4 310.44Z" fill="#41937c" class="sg"/>
<path d="M644.81 315.68L648.21 320.93A18.75 18.75 0 0 0 653.73 315.41L648.48 312.01A12.5 12.5 0 0 1 644.81 315.68Z" fill="#41937c" class="sg"/>
<path d="M648.21 320.93L651.62 326.17A25 25 0 0 0 658.97 318.82L653.73 315.41A18.75 18.75 0 0 1 648.21 320.93Z" fill="#41937c" class="sg"/>
<path d="M638 305.2L643.57 308.04A6.25 6.25 0 0 0 644.24 305.53Z" fill="#dbc4fe" class="sg"/>
<path d="M643.57 308.04L649.14 310.87A12.5 12.5 0 0 0 650.48 305.85L644.24 305.53A6.25 6.25 0 0 1 643.57 308.04Z" fill="#dbc4fe" class="sg"/>
<path d="M649.14 310.87L654.71 313.71A18.75 18.75 0 0 0 656.72 306.18L650.48 305.85A12.5 12.5 0 0 1 649.14 310.87Z" fill="#dbc4fe" class="sg"/>
<path d="M654.71 313.71L660.28 316.55A25 25 0 0 0 662.97 306.51L656.72 306.18A18.75 18.75 0 0 1 654.71 313.71Z" fill="#dbc4fe" class="sg"/>
<g class="lb"><text x="641.57" y="305.04" class="l1">1</text><text x="647.06" y="303.67">2</text><text x="640.62" y="303.38" class="l1">1</text><text x="644.63" y="299.47">2</text><text x="638.96" y="302.43" class="l1">1</text><text x="640.43" y="297.04">2</text><text x="637.04" y="302.43" class="l1">1</text><text x="635.57" y="297.04">2</text><text x="633.96" y="291.01">3</text><text x="632.34" y="284.97">4</text><text x="630.72" y="278.93">5</text><text x="635.38" y="303.38" class="l1">1</text><text x="631.37" y="299.47">2</text><text x="634.43" y="305.04" class="l1">1</text><text x="628.94" y="303.67">2</text><text x="622.91" y="302.06">3</text><text x="616.87" y="300.44">4</text><text x="634.43" y="306.96" class="l1">1</text><text x="628.94" y="308.53">2</text><text x="635.38" y="308.62" class="l1">1</text><text x="631.37" y="312.73">2</text><text x="637.04" y="309.57" class="l1">1</text><text x="635.57" y="315.16">2</text><text x="638.96" y="309.57" class="l1">1</text><text x="640.43" y="315.16">2</text><text x="642.04" y="321.19">3</text><text x="640.62" y="308.62" class="l1">1</text><text x="644.63" y="312.73">2</text><text x="649.05" y="317.15">3</text><text x="653.47" y="321.57">4</text><text x="641.57" y="306.96" class="l1">1</text><text x="647.06" y="308.53">2</text><text x="653.09" y="310.14">3</text><text x="659.13" y="311.76">4</text></g>
<use href="#dv1" transform="translate(638 305.2)"/>
<use href="#lab" transform="translate(638 305.2)"/>
<text x="638" y="255.9" class="yr">2023</text>
<text x="638.1" y="358.9" class="tot" textLength="57.6" lengthAdjust="spacingAndGlyphs">Total of 34 communities</text>
<rect x="168.8" y="375.3" width="350.8" height="24.3" rx="1.5" fill="#fff" stroke="#dcdcdc" stroke-width="0.7"/>
<rect x="170.3" y="378" width="10.8" height="3.8" fill="#e6204e"/>
<text x="185" y="381.8" class="lg">Community01</text>
<rect x="170.3" y="385.3" width="10.8" height="3.8" fill="#4cbb52"/>
<text x="185" y="389.1" class="lg">Community02</text>
<rect x="170.3" y="392.7" width="10.8" height="3.8" fill="#efe53a"/>
<text x="185" y="396.5" class="lg">Community03</text>
<rect x="228.9" y="378" width="10.8" height="3.8" fill="#4a62dc"/>
<text x="243.6" y="381.8" class="lg">Community04</text>
<rect x="228.9" y="385.3" width="10.8" height="3.8" fill="#ee7c36"/>
<text x="243.6" y="389.1" class="lg">Community05</text>
<rect x="287.5" y="378" width="10.8" height="3.8" fill="#9535c6"/>
<text x="302.2" y="381.8" class="lg">Community06</text>
<rect x="287.5" y="385.3" width="10.8" height="3.8" fill="#68e6f0"/>
<text x="302.2" y="389.1" class="lg">Community07</text>
<rect x="346.1" y="378" width="10.8" height="3.8" fill="#f240f0"/>
<text x="360.8" y="381.8" class="lg">Community08</text>
<rect x="346.1" y="385.3" width="10.8" height="3.8" fill="#c0f24c"/>
<text x="360.8" y="389.1" class="lg">Community09</text>
<rect x="404.7" y="378" width="10.8" height="3.8" fill="#f2b8d8"/>
<text x="419.4" y="381.8" class="lg">Community10</text>
<rect x="404.7" y="385.3" width="10.8" height="3.8" fill="#41937c"/>
<text x="419.4" y="389.1" class="lg">Community11</text>
<rect x="463.1" y="378" width="10.8" height="3.8" fill="#dbc4fe"/>
<text x="477.8" y="381.8" class="lg">Community12</text>
<line x1="463.1" y1="387.4" x2="473.6" y2="387.4" stroke="#bdbdbd" stroke-width="0.8" stroke-dasharray="0.8 1.5"/>
<text x="477.8" y="389.1" class="lg">Outer ring guide</text>
</svg>
</body></html>
